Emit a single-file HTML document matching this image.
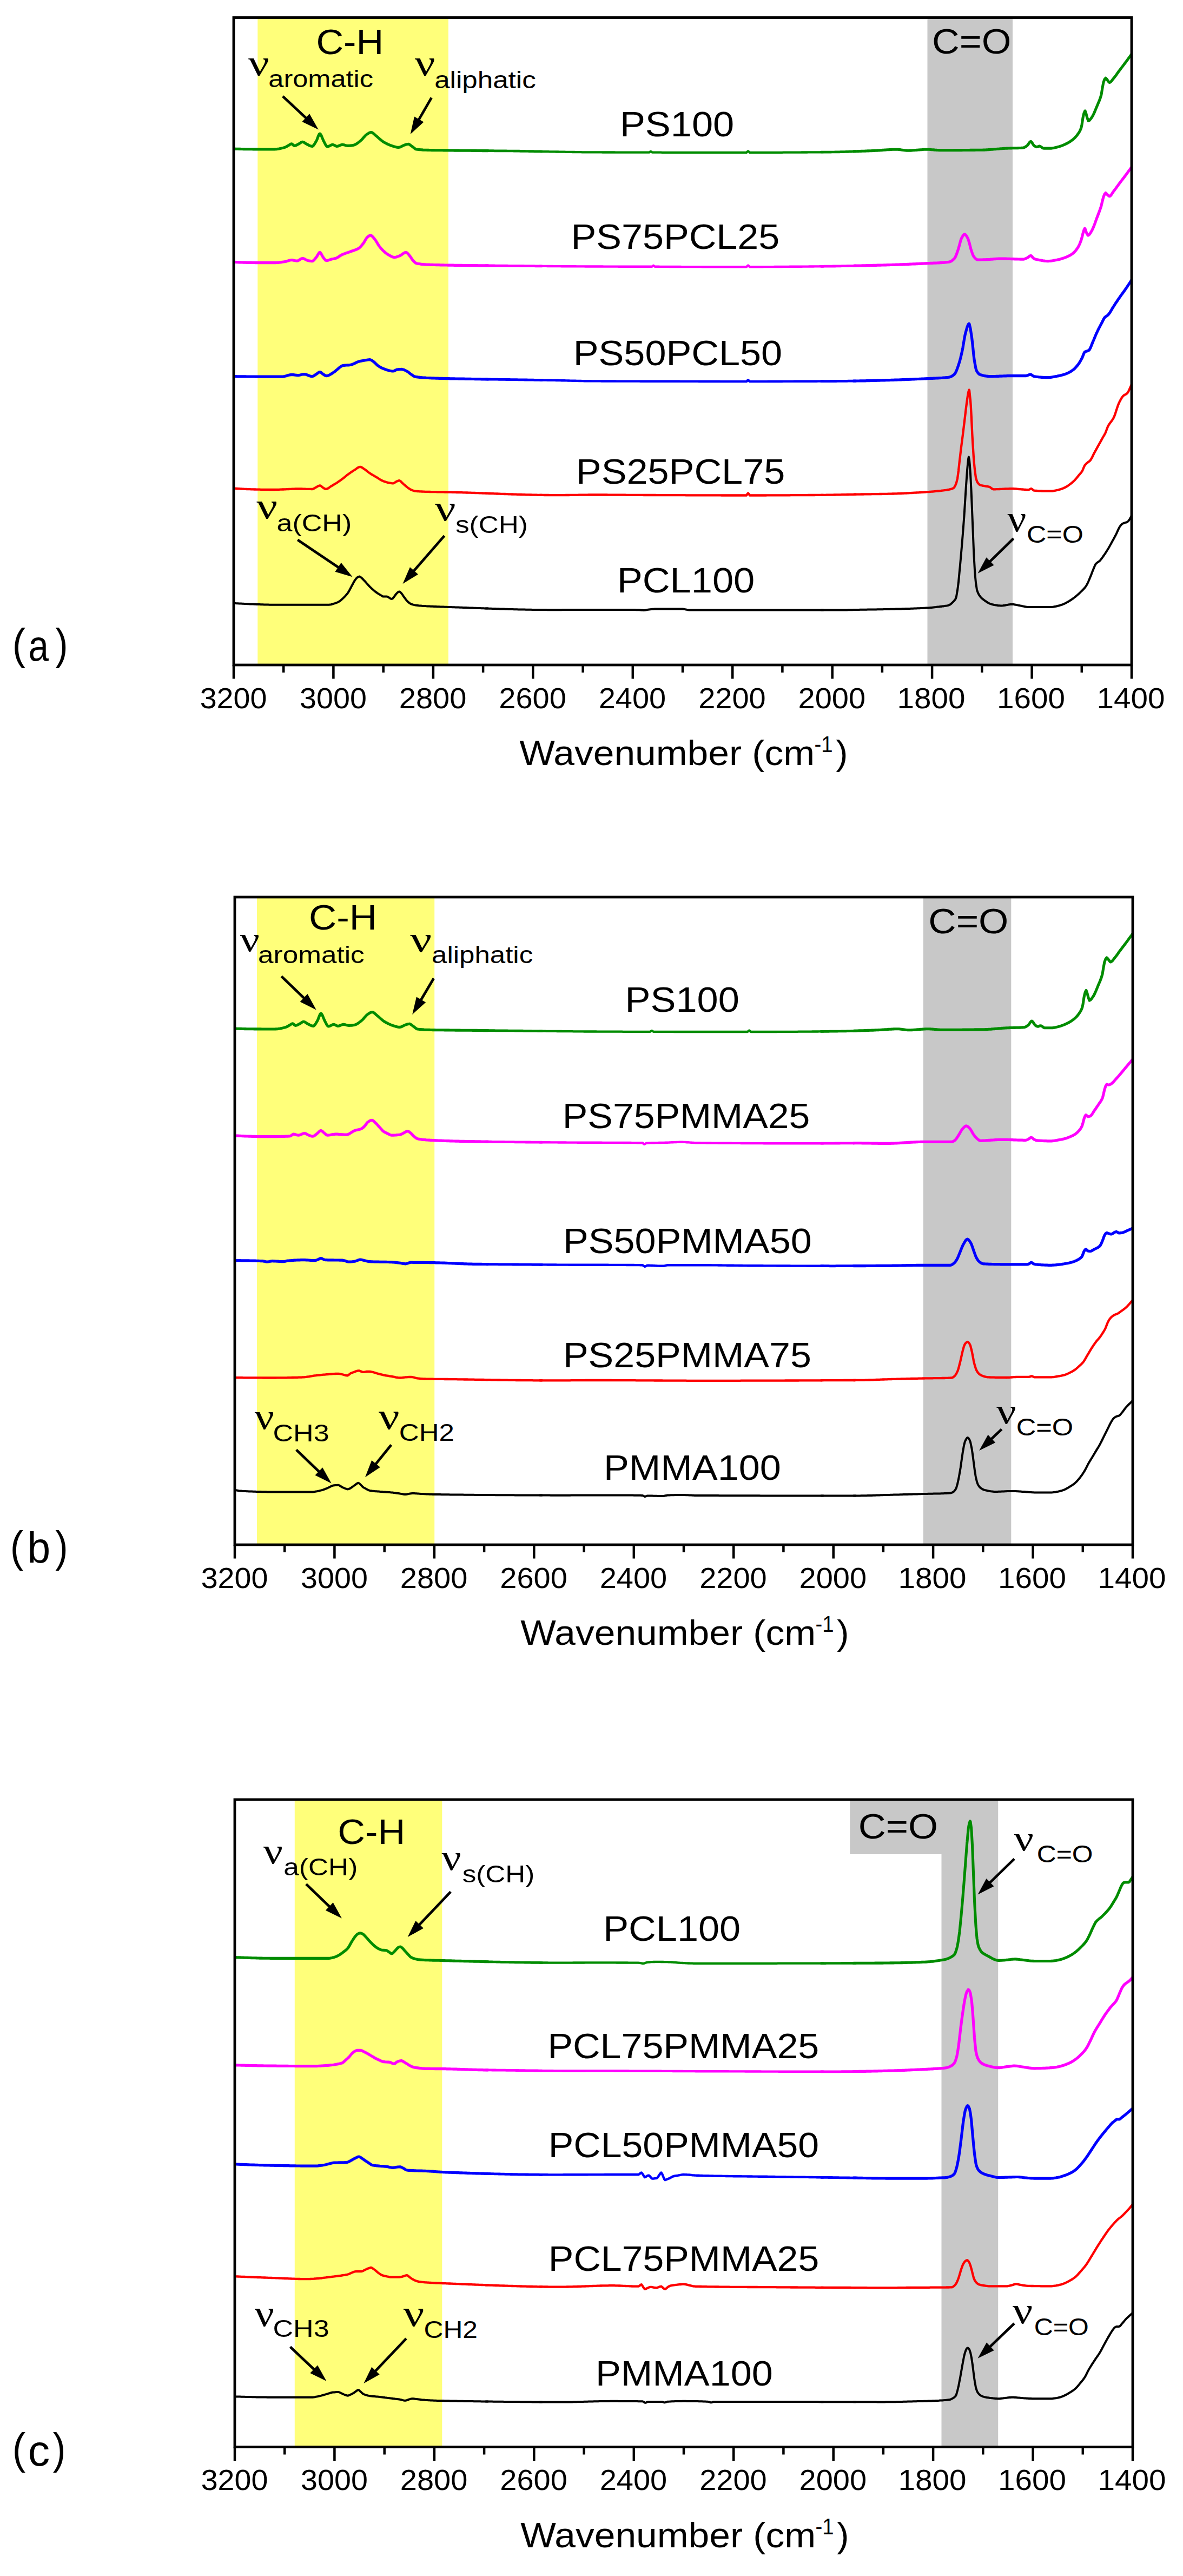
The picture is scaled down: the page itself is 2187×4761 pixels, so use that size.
<!DOCTYPE html><html><head><meta charset="utf-8"><title>FTIR spectra</title><style>html,body{margin:0;padding:0;background:#fff}svg{display:block}</style></head><body>
<svg width="2187" height="4761" viewBox="0 0 2187 4761">
<rect width="2187" height="4761" fill="#fff"/>
<clipPath id="clipa"><rect x="432" y="32.5" width="1660" height="1196.5"/></clipPath>
<rect x="476.3" y="32.5" width="352.6" height="1196.5" fill="#ffff7a"/>
<rect x="1714.5" y="32.5" width="157.5" height="1196.5" fill="#c8c8c8"/>
<g clip-path="url(#clipa)" fill="none" stroke-linejoin="round" stroke-linecap="round">
<path d="M430.0,275.0 L432.0,275.0 L434.0,275.1 L436.0,275.2 L438.0,275.3 L440.0,275.3 L442.0,275.4 L444.0,275.4 L446.0,275.5 L448.0,275.5 L450.0,275.6 L452.0,275.6 L454.0,275.7 L456.0,275.7 L458.0,275.7 L460.0,275.8 L462.0,275.8 L464.0,275.8 L466.0,275.8 L468.0,275.9 L470.0,275.9 L472.0,275.9 L474.0,275.9 L476.0,275.9 L478.0,275.9 L480.0,275.9 L482.0,276.0 L484.0,276.0 L486.0,276.0 L488.0,276.0 L490.0,276.0 L492.0,276.0 L494.0,276.0 L496.0,276.0 L498.0,276.0 L500.0,276.0 L502.0,276.0 L504.0,276.0 L506.0,276.0 L506.1,276.0 L508.0,275.9 L510.0,275.8 L512.0,275.6 L514.0,275.3 L516.0,275.0 L518.0,274.6 L520.0,274.1 L522.0,273.6 L524.0,273.1 L526.0,272.5 L526.4,272.4 L528.0,271.8 L530.0,270.7 L532.0,269.5 L534.0,268.4 L534.0,268.4 L536.0,267.1 L538.0,266.0 L539.0,265.8 L540.0,266.2 L542.0,268.1 L544.0,269.4 L544.1,269.4 L546.0,269.1 L548.0,268.3 L550.0,267.2 L551.7,266.3 L552.0,266.2 L554.0,265.0 L556.0,263.6 L558.0,262.5 L559.3,262.3 L560.0,262.4 L562.0,263.2 L564.0,264.5 L566.0,265.8 L566.9,266.3 L568.0,266.9 L570.0,267.9 L572.0,269.0 L574.0,269.8 L576.0,270.3 L577.1,270.4 L578.0,270.2 L580.0,268.3 L582.0,265.3 L584.0,261.9 L584.7,260.8 L586.0,258.0 L588.0,252.6 L590.0,248.1 L591.3,247.1 L592.0,247.4 L594.0,250.5 L596.0,255.4 L598.0,260.1 L598.4,260.8 L600.0,263.9 L602.0,267.8 L604.0,270.5 L605.0,270.9 L606.0,270.8 L608.0,270.2 L610.0,269.2 L612.0,268.2 L614.0,267.5 L615.1,267.4 L616.0,267.5 L618.0,268.3 L620.0,269.5 L622.0,270.3 L622.7,270.4 L624.0,270.3 L626.0,269.7 L628.0,268.8 L630.0,268.0 L632.0,267.4 L632.9,267.4 L634.0,267.4 L636.0,267.8 L638.0,268.4 L640.0,269.0 L642.0,269.3 L643.0,269.4 L644.0,269.4 L646.0,269.3 L648.0,269.1 L650.0,268.9 L652.0,268.6 L653.2,268.4 L654.0,268.2 L656.0,267.5 L658.0,266.4 L660.0,265.2 L662.0,263.7 L664.0,262.2 L665.8,260.8 L666.0,260.6 L668.0,258.9 L670.0,256.7 L672.0,254.4 L674.0,252.2 L676.0,250.1 L678.0,248.4 L678.5,248.1 L680.0,247.1 L682.0,245.9 L684.0,245.0 L686.0,244.5 L686.1,244.5 L688.0,245.0 L690.0,246.4 L692.0,248.2 L694.0,250.0 L694.8,250.6 L696.0,251.6 L698.0,253.3 L700.0,255.1 L702.0,256.9 L704.0,258.6 L706.0,260.2 L708.0,261.7 L709.0,262.3 L710.0,262.9 L712.0,264.0 L714.0,265.1 L716.0,266.1 L718.0,267.0 L720.0,267.9 L722.0,268.7 L724.0,269.3 L724.2,269.4 L726.0,270.0 L728.0,270.6 L730.0,271.3 L732.0,271.8 L734.0,272.2 L736.0,272.4 L736.8,272.4 L738.0,272.3 L740.0,271.7 L742.0,270.8 L744.0,269.7 L746.0,268.7 L747.0,268.4 L748.0,268.0 L750.0,267.3 L752.0,266.7 L754.0,266.4 L754.6,266.3 L756.0,266.6 L758.0,267.7 L760.0,269.3 L762.0,270.8 L762.2,270.9 L764.0,272.2 L766.0,273.9 L768.0,275.3 L769.8,276.0 L770.0,276.0 L772.0,276.2 L774.0,276.5 L776.0,276.6 L778.0,276.8 L780.0,276.9 L782.0,277.1 L784.0,277.2 L786.0,277.2 L788.0,277.3 L790.0,277.4 L792.0,277.4 L794.0,277.5 L795.2,277.5 L796.0,277.5 L798.0,277.6 L800.0,277.6 L802.0,277.6 L804.0,277.7 L806.0,277.7 L808.0,277.7 L810.0,277.8 L812.0,277.8 L814.0,277.8 L816.0,277.8 L818.0,277.8 L820.0,277.9 L822.0,277.9 L824.0,277.9 L826.0,277.9 L828.0,277.9 L830.0,278.0 L832.0,278.0 L834.0,278.0 L835.7,278.0 L836.0,278.0 L838.0,278.0 L840.0,278.1 L842.0,278.1 L844.0,278.1 L846.0,278.1 L848.0,278.1 L850.0,278.2 L852.0,278.2 L854.0,278.2 L856.0,278.2 L858.0,278.2 L860.0,278.3 L862.0,278.3 L864.0,278.3 L866.0,278.3 L868.0,278.3 L870.0,278.3 L872.0,278.4 L874.0,278.4 L876.0,278.4 L878.0,278.4 L880.0,278.4 L882.0,278.5 L884.0,278.5 L886.0,278.5 L888.0,278.5 L890.0,278.5 L892.0,278.6 L894.0,278.6 L896.0,278.6 L898.0,278.6 L900.0,278.6 L902.0,278.6" stroke="#008c00" stroke-width="5.10"/>
<path d="M898.0,278.6 L900.0,278.6 L902.0,278.6 L904.0,278.7 L906.0,278.7 L908.0,278.7 L910.0,278.7 L912.0,278.7 L914.0,278.8 L916.0,278.8 L918.0,278.8 L920.0,278.8 L922.0,278.8 L924.0,278.8 L926.0,278.9 L928.0,278.9 L930.0,278.9 L932.0,278.9 L934.0,278.9 L936.0,278.9 L938.0,279.0 L940.0,279.0 L942.0,279.0 L944.0,279.0 L946.0,279.0 L948.0,279.0 L950.0,279.1 L952.0,279.1 L954.0,279.1 L956.0,279.2 L958.0,279.2 L960.0,279.2 L962.0,279.3 L964.0,279.3 L966.0,279.4 L968.0,279.4 L970.0,279.4 L972.0,279.5 L974.0,279.5 L976.0,279.5 L978.0,279.6 L980.0,279.6 L982.0,279.7 L984.0,279.7 L986.0,279.7 L988.0,279.8 L990.0,279.8 L992.0,279.8 L994.0,279.9 L996.0,279.9 L998.0,279.9 L1000.0,280.0 L1002.0,280.0" stroke="#008c00" stroke-width="4.72"/>
<path d="M998.0,279.9 L1000.0,280.0 L1002.0,280.0 L1004.0,280.1 L1006.0,280.1 L1008.0,280.1 L1010.0,280.2 L1012.0,280.2 L1014.0,280.2 L1016.0,280.3 L1018.0,280.3 L1020.0,280.3 L1022.0,280.4 L1024.0,280.4 L1026.0,280.4 L1028.0,280.5 L1030.0,280.5 L1032.0,280.5 L1034.0,280.6 L1036.0,280.6 L1038.0,280.6 L1040.0,280.7 L1042.0,280.7 L1044.0,280.7 L1046.0,280.8 L1048.0,280.8 L1050.0,280.8 L1052.0,280.9 L1054.0,280.9 L1056.0,280.9 L1058.0,281.0 L1060.0,281.0 L1062.0,281.0 L1064.0,281.1 L1066.0,281.1 L1068.0,281.1 L1070.0,281.2 L1072.0,281.2 L1074.0,281.2 L1076.0,281.3 L1078.0,281.3 L1080.0,281.3 L1082.0,281.3 L1084.0,281.3 L1086.0,281.3 L1088.0,281.3 L1090.0,281.4 L1092.0,281.4 L1094.0,281.4 L1096.0,281.4 L1098.0,281.4 L1100.0,281.4 L1102.0,281.4 L1104.0,281.4 L1106.0,281.4 L1108.0,281.4 L1110.0,281.4 L1112.0,281.4 L1114.0,281.5 L1116.0,281.5 L1118.0,281.5 L1120.0,281.5 L1122.0,281.5 L1124.0,281.5 L1126.0,281.5 L1128.0,281.5 L1130.0,281.5 L1132.0,281.5 L1134.0,281.5 L1136.0,281.5 L1138.0,281.6 L1140.0,281.6 L1142.0,281.6 L1144.0,281.6 L1146.0,281.6 L1148.0,281.6 L1150.0,281.6 L1152.0,281.6 L1154.0,281.6 L1156.0,281.6 L1158.0,281.6 L1160.0,281.6 L1162.0,281.6 L1164.0,281.6 L1166.0,281.7 L1168.0,281.7 L1170.0,281.7 L1172.0,281.7 L1174.0,281.7 L1176.0,281.7 L1178.0,281.7 L1180.0,281.7 L1182.0,281.7 L1184.0,281.7 L1186.0,281.7 L1188.0,281.7 L1190.0,281.7 L1192.0,281.7 L1194.0,281.7 L1196.0,281.7 L1198.0,281.7 L1200.0,281.7 L1202.0,280.4 L1203.0,279.9 L1204.0,280.4 L1206.0,281.7 L1208.0,281.7 L1210.0,281.7 L1212.0,281.7 L1214.0,281.7 L1216.0,281.7 L1218.0,281.7 L1220.0,281.7 L1222.0,281.7 L1224.0,281.8 L1226.0,281.8 L1228.0,281.8 L1230.0,281.8 L1232.0,281.8 L1234.0,281.8 L1236.0,281.8 L1238.0,281.8 L1240.0,281.8 L1242.0,281.8 L1244.0,281.8 L1246.0,281.8 L1248.0,281.8 L1250.0,281.8 L1252.0,281.8 L1254.0,281.8 L1256.0,281.8 L1258.0,281.8 L1260.0,281.8 L1262.0,281.8 L1264.0,281.8 L1266.0,281.8 L1268.0,281.8 L1270.0,281.8 L1272.0,281.9 L1274.0,281.9 L1276.0,281.9 L1278.0,281.9 L1280.0,281.9 L1282.0,281.9 L1284.0,281.9 L1286.0,281.9 L1288.0,281.9 L1290.0,281.9 L1292.0,281.9 L1294.0,281.9 L1296.0,281.9 L1298.0,281.9 L1300.0,281.9 L1302.0,281.9 L1304.0,281.9 L1306.0,281.9 L1308.0,281.9 L1310.0,281.9 L1312.0,281.9 L1314.0,281.9 L1316.0,281.9 L1318.0,281.9 L1320.0,281.9 L1322.0,281.9 L1324.0,281.9 L1326.0,281.9 L1328.0,281.9 L1330.0,281.9 L1332.0,281.9 L1334.0,281.9 L1336.0,281.9 L1338.0,281.9 L1340.0,281.9 L1342.0,281.9 L1344.0,281.9 L1346.0,281.9 L1348.0,281.9 L1350.0,281.9 L1352.0,281.9 L1354.0,281.9 L1356.0,281.9 L1358.0,281.9 L1360.0,281.9 L1362.0,281.9 L1364.0,281.9 L1366.0,281.9 L1368.0,281.9 L1370.0,281.9 L1372.0,281.9 L1374.0,281.9 L1376.0,281.9 L1378.0,281.9 L1380.0,281.9 L1382.0,280.0 L1383.0,279.4 L1384.0,280.0 L1386.0,281.9 L1388.0,281.9 L1390.0,281.9 L1392.0,281.9 L1394.0,281.9 L1396.0,281.9 L1398.0,281.9 L1400.0,281.9 L1402.0,281.9 L1404.0,281.9 L1406.0,281.9 L1408.0,281.9 L1410.0,281.9 L1412.0,281.9 L1414.0,281.9 L1416.0,281.9 L1418.0,281.9 L1420.0,281.9 L1422.0,281.8 L1424.0,281.8 L1426.0,281.8 L1428.0,281.8 L1430.0,281.8 L1432.0,281.8 L1434.0,281.8 L1436.0,281.8 L1438.0,281.8 L1440.0,281.8 L1442.0,281.8 L1444.0,281.8 L1446.0,281.8 L1448.0,281.7 L1450.0,281.7 L1452.0,281.7 L1454.0,281.7 L1456.0,281.7 L1458.0,281.7 L1460.0,281.7 L1462.0,281.7 L1464.0,281.7 L1466.0,281.6 L1468.0,281.6 L1470.0,281.6 L1472.0,281.6 L1474.0,281.6 L1476.0,281.6 L1478.0,281.6 L1480.0,281.6 L1482.0,281.5 L1484.0,281.5 L1486.0,281.5 L1488.0,281.5 L1490.0,281.5 L1492.0,281.5 L1494.0,281.4 L1496.0,281.4 L1498.0,281.4 L1500.0,281.4 L1502.0,281.4 L1504.0,281.4 L1506.0,281.3 L1508.0,281.3 L1510.0,281.3 L1512.0,281.3 L1514.0,281.3 L1516.0,281.3 L1518.0,281.2 L1520.0,281.2 L1522.0,281.2" stroke="#008c00" stroke-width="4.33"/>
<path d="M1518.0,281.2 L1520.0,281.2 L1522.0,281.2 L1524.0,281.2 L1526.0,281.2 L1528.0,281.1 L1530.0,281.1 L1532.0,281.1 L1534.0,281.1 L1536.0,281.1 L1538.0,281.0 L1540.0,281.0 L1542.0,281.0 L1544.0,280.9 L1546.0,280.9 L1548.0,280.9 L1550.0,280.8 L1552.0,280.8 L1554.0,280.7 L1556.0,280.7 L1558.0,280.6 L1560.0,280.6 L1562.0,280.5 L1564.0,280.4 L1566.0,280.4 L1568.0,280.3 L1570.0,280.2 L1572.0,280.2 L1574.0,280.1 L1576.0,280.0 L1578.0,279.9 L1580.0,279.8 L1582.0,279.8" stroke="#008c00" stroke-width="4.72"/>
<path d="M1578.0,279.9 L1580.0,279.8 L1582.0,279.8 L1584.0,279.7 L1586.0,279.6 L1587.0,279.6 L1588.0,279.5 L1590.0,279.5 L1592.0,279.4 L1594.0,279.3 L1596.0,279.2 L1598.0,279.2 L1600.0,279.1 L1602.0,279.0 L1604.0,278.9 L1606.0,278.9 L1608.0,278.8 L1610.0,278.7 L1612.0,278.6 L1614.0,278.5 L1616.0,278.4 L1617.4,278.4 L1618.0,278.3 L1620.0,278.2 L1622.0,278.1 L1624.0,278.0 L1626.0,277.9 L1628.0,277.7 L1630.0,277.6 L1632.0,277.4 L1634.0,277.3 L1636.0,277.1 L1638.0,277.0 L1640.0,276.8 L1642.0,276.7 L1644.0,276.6 L1646.0,276.5 L1648.0,276.4 L1650.0,276.3 L1652.0,276.3 L1654.0,276.2 L1656.0,276.2 L1658.0,276.2 L1658.0,276.2 L1660.0,276.2 L1662.0,276.4 L1664.0,276.6 L1666.0,276.9 L1668.0,277.2 L1670.0,277.5 L1672.0,277.7 L1674.0,278.0 L1676.0,278.1 L1678.0,278.2 L1678.3,278.2 L1680.0,278.2 L1682.0,278.1 L1684.0,278.1 L1686.0,278.0 L1688.0,277.8 L1690.0,277.7 L1692.0,277.5 L1694.0,277.4 L1696.0,277.2 L1698.0,277.0 L1700.0,276.9 L1702.0,276.7 L1704.0,276.6 L1706.0,276.4 L1708.0,276.3 L1710.0,276.2 L1712.0,276.2 L1713.8,276.2 L1714.0,276.2 L1716.0,276.2 L1718.0,276.3 L1720.0,276.4 L1722.0,276.6 L1724.0,276.7 L1726.0,276.9 L1728.0,277.1 L1730.0,277.2 L1732.0,277.4 L1734.0,277.5 L1736.0,277.6 L1738.0,277.7 L1739.2,277.7 L1740.0,277.7 L1742.0,277.7 L1744.0,277.7 L1746.0,277.7 L1748.0,277.7 L1750.0,277.7 L1752.0,277.7 L1754.0,277.7 L1756.0,277.7 L1758.0,277.7 L1760.0,277.7 L1762.0,277.7 L1764.0,277.6 L1766.0,277.6 L1768.0,277.6 L1770.0,277.6 L1772.0,277.6 L1774.0,277.6 L1776.0,277.6 L1778.0,277.6 L1780.0,277.5 L1782.0,277.5 L1784.0,277.5 L1786.0,277.5 L1788.0,277.5 L1790.0,277.5 L1792.0,277.5 L1794.0,277.4 L1796.0,277.4 L1798.0,277.4 L1800.0,277.4 L1802.0,277.4 L1804.0,277.3 L1806.0,277.3 L1808.0,277.3 L1810.0,277.3 L1812.0,277.2 L1814.0,277.2 L1815.2,277.2 L1816.0,277.2 L1818.0,277.1 L1820.0,277.1 L1822.0,277.0 L1824.0,276.9 L1826.0,276.8 L1828.0,276.6 L1830.0,276.5 L1832.0,276.3 L1834.0,276.2 L1836.0,276.0 L1838.0,275.8 L1840.0,275.7 L1842.0,275.5 L1844.0,275.3 L1846.0,275.2 L1848.0,275.0 L1850.0,274.8 L1852.0,274.7 L1854.0,274.5 L1856.0,274.4 L1858.0,274.3 L1860.0,274.2 L1860.9,274.1 L1862.0,274.1 L1864.0,274.0 L1866.0,274.0 L1868.0,273.9 L1870.0,273.9 L1872.0,273.8 L1874.0,273.8 L1876.0,273.8 L1878.0,273.7 L1880.0,273.7 L1882.0,273.6 L1884.0,273.5 L1886.0,273.5 L1888.0,273.4 L1890.0,273.2 L1891.3,273.1 L1892.0,273.0 L1894.0,272.3 L1896.0,271.2 L1898.0,269.8 L1898.9,269.1 L1900.0,268.0 L1902.0,265.0 L1904.0,262.3 L1905.5,261.5 L1906.0,261.6 L1908.0,263.8 L1910.0,267.2 L1911.6,269.1 L1912.0,269.4 L1914.0,270.7 L1916.0,271.5 L1916.7,271.6 L1918.0,271.4 L1920.0,270.5 L1921.7,270.1 L1922.0,270.1 L1924.0,271.0 L1926.0,272.5 L1928.0,273.8 L1929.3,274.1 L1930.0,274.1 L1932.0,274.1 L1934.0,274.1 L1936.0,274.1 L1938.0,274.1 L1940.0,274.1 L1942.0,274.1 L1942.0,274.1 L1944.0,274.1 L1946.0,273.8 L1948.0,273.5 L1950.0,273.0 L1952.0,272.5 L1954.0,272.0 L1956.0,271.4 L1957.2,271.1 L1958.0,270.9 L1960.0,270.3 L1962.0,269.6 L1964.0,268.9 L1966.0,268.0 L1968.0,267.2 L1970.0,266.2 L1972.0,265.3 L1972.5,265.0 L1974.0,264.2 L1976.0,263.1 L1978.0,261.8 L1980.0,260.4 L1982.0,259.0 L1984.0,257.4 L1985.1,256.4 L1986.0,255.6 L1988.0,253.7 L1990.0,251.4 L1992.0,248.8 L1992.7,247.8 L1994.0,246.0 L1996.0,242.7 L1998.0,238.4 L1998.8,236.1 L2000.0,230.7 L2002.0,217.7 L2002.9,213.3 L2004.0,209.0 L2005.9,204.7 L2006.0,204.7 L2008.0,210.6 L2009.0,214.3 L2010.0,218.1 L2012.0,223.4 L2012.0,223.4 L2014.0,222.5 L2016.0,220.2 L2018.0,217.5 L2018.1,217.3 L2020.0,214.4 L2022.0,210.4 L2024.0,205.9 L2026.0,201.0 L2028.0,196.1 L2028.3,195.5 L2030.0,191.5 L2032.0,186.8 L2034.0,181.5 L2035.9,175.2 L2036.0,174.7 L2038.0,162.7 L2039.9,152.4 L2040.0,152.2 L2042.0,146.7 L2044.0,144.3 L2044.0,144.3 L2046.0,146.2 L2047.5,148.4 L2048.0,149.0 L2050.0,151.8 L2051.1,152.4 L2052.0,152.2 L2054.0,150.7 L2056.0,148.3 L2058.0,145.6 L2058.7,144.8 L2060.0,143.2 L2062.0,140.6 L2064.0,137.9 L2066.0,135.0 L2068.0,132.2 L2068.8,131.1 L2070.0,129.6 L2072.0,126.9 L2074.0,124.3 L2076.0,121.7 L2078.0,119.0 L2080.0,116.4 L2081.5,114.4 L2082.0,113.7 L2084.0,111.0 L2086.0,108.2 L2088.0,105.5 L2090.0,102.8 L2091.6,100.7 L2092.0,100.2 L2094.0,97.8 L2096.0,95.3 L2098.0,93.0 L2099.3,91.6" stroke="#008c00" stroke-width="5.10"/>
<path d="M430.0,484.2 L432.0,484.3 L434.0,484.4 L436.0,484.5 L438.0,484.6 L440.0,484.7 L442.0,484.8 L444.0,484.9 L446.0,485.0 L448.0,485.0 L450.0,485.1 L452.0,485.2 L454.0,485.2 L456.0,485.3 L458.0,485.3 L460.0,485.4 L462.0,485.4 L464.0,485.4 L466.0,485.5 L468.0,485.5 L470.0,485.5 L472.0,485.6 L474.0,485.6 L476.0,485.6 L478.0,485.6 L480.0,485.6 L482.0,485.7 L484.0,485.7 L486.0,485.7 L488.0,485.7 L490.0,485.7 L492.0,485.7 L494.0,485.7 L496.0,485.7 L498.0,485.7 L500.0,485.7 L502.0,485.7 L504.0,485.7 L506.0,485.7 L506.1,485.7 L508.0,485.7 L510.0,485.6 L512.0,485.5 L514.0,485.3 L516.0,485.1 L518.0,484.8 L520.0,484.6 L522.0,484.3 L524.0,484.0 L526.0,483.7 L526.4,483.7 L528.0,483.4 L530.0,482.8 L532.0,482.2 L534.0,481.5 L536.0,481.0 L538.0,480.7 L539.0,480.6 L540.0,480.7 L542.0,480.9 L544.0,481.4 L546.0,481.8 L548.0,482.1 L549.2,482.2 L550.0,482.1 L552.0,481.3 L554.0,480.1 L556.0,478.7 L558.0,477.8 L559.3,477.6 L560.0,477.6 L562.0,478.2 L564.0,479.2 L566.0,480.3 L568.0,481.2 L569.5,481.6 L570.0,481.8 L572.0,482.1 L574.0,482.4 L576.0,482.6 L577.1,482.7 L578.0,482.5 L580.0,481.1 L582.0,478.9 L584.0,476.4 L584.7,475.6 L586.0,473.7 L588.0,470.1 L590.0,467.1 L591.3,466.4 L592.0,466.7 L594.0,469.5 L596.0,473.4 L597.4,475.6 L598.0,476.4 L600.0,479.0 L602.0,481.1 L603.5,481.6 L604.0,481.6 L606.0,481.3 L608.0,480.7 L610.0,479.9 L612.0,479.3 L612.6,479.1 L614.0,478.8 L616.0,478.5 L618.0,478.1 L620.0,477.6 L620.2,477.6 L622.0,476.9 L624.0,475.9 L626.0,474.6 L628.0,473.3 L630.0,472.0 L632.0,470.9 L632.9,470.5 L634.0,470.0 L636.0,469.2 L638.0,468.5 L640.0,467.7 L642.0,467.1 L644.0,466.4 L646.0,465.7 L648.0,464.9 L648.1,464.9 L650.0,464.2 L652.0,463.5 L654.0,462.9 L656.0,462.2 L658.0,461.4 L660.0,460.6 L662.0,459.6 L663.3,458.8 L664.0,458.4 L666.0,456.6 L668.0,454.4 L670.0,451.9 L672.0,449.3 L672.4,448.7 L674.0,446.2 L676.0,442.6 L678.0,439.6 L678.5,439.0 L680.0,437.7 L682.0,436.2 L684.0,435.2 L685.1,435.0 L686.0,435.1 L688.0,436.5 L690.0,438.7 L692.0,441.2 L692.7,442.1 L694.0,443.7 L696.0,446.8 L698.0,450.2 L700.0,453.4 L701.3,455.3 L702.0,456.1 L704.0,458.6 L706.0,460.9 L708.0,463.0 L709.0,463.9 L710.0,464.8 L712.0,466.6 L714.0,468.2 L716.0,469.6 L718.0,470.9 L719.1,471.5 L720.0,472.0 L722.0,473.1 L724.0,474.1 L726.0,475.0 L728.0,475.5 L729.2,475.6 L730.0,475.5 L732.0,475.2 L734.0,474.6 L736.0,473.9 L738.0,473.1 L739.4,472.5 L740.0,472.3 L742.0,471.1 L744.0,469.6 L746.0,468.2 L748.0,467.1 L750.0,466.5 L750.5,466.4 L752.0,466.9 L754.0,468.7 L756.0,471.2 L757.1,472.5 L758.0,473.6 L760.0,476.5 L762.0,479.5 L763.7,481.6 L764.0,481.9 L766.0,484.1 L768.0,485.8 L769.8,486.7 L770.0,486.8 L772.0,487.2 L774.0,487.5 L776.0,487.8 L778.0,488.1 L780.0,488.3 L782.0,488.5 L784.0,488.7 L786.0,488.8 L788.0,489.0 L790.0,489.1 L792.0,489.1 L794.0,489.2 L795.2,489.3 L796.0,489.3 L798.0,489.3 L800.0,489.4 L802.0,489.5 L804.0,489.5 L806.0,489.6 L808.0,489.6 L810.0,489.7 L812.0,489.7 L814.0,489.8 L816.0,489.8 L818.0,489.9 L820.0,489.9 L822.0,490.0 L824.0,490.0 L826.0,490.0 L828.0,490.1 L830.0,490.1 L832.0,490.1 L834.0,490.2 L836.0,490.2 L838.0,490.2 L840.0,490.3 L842.0,490.3 L844.0,490.3 L846.0,490.3 L848.0,490.4 L850.0,490.4 L852.0,490.4 L854.0,490.4 L856.0,490.5 L858.0,490.5 L860.0,490.5 L862.0,490.5 L864.0,490.6 L866.0,490.6 L868.0,490.6 L870.0,490.6 L872.0,490.6 L874.0,490.7 L876.0,490.7 L878.0,490.7 L880.0,490.7 L882.0,490.7 L884.0,490.8 L886.0,490.8 L886.5,490.8 L888.0,490.8 L890.0,490.8 L892.0,490.8 L894.0,490.9 L896.0,490.9 L898.0,490.9 L900.0,490.9 L902.0,490.9" stroke="#ff00ff" stroke-width="5.20"/>
<path d="M898.0,490.9 L900.0,490.9 L902.0,490.9 L904.0,491.0 L906.0,491.0 L908.0,491.0 L910.0,491.0 L912.0,491.0 L914.0,491.0 L916.0,491.1 L918.0,491.1 L920.0,491.1 L922.0,491.1 L924.0,491.1 L926.0,491.1 L928.0,491.2 L930.0,491.2 L932.0,491.2 L934.0,491.2 L936.0,491.2 L938.0,491.2 L940.0,491.3 L942.0,491.3 L944.0,491.3 L946.0,491.3 L948.0,491.3 L950.0,491.3 L952.0,491.4 L954.0,491.4 L956.0,491.4 L958.0,491.4 L960.0,491.4 L962.0,491.5 L964.0,491.5 L966.0,491.5 L968.0,491.5 L970.0,491.6 L972.0,491.6 L974.0,491.6 L976.0,491.6 L978.0,491.6 L980.0,491.7 L982.0,491.7 L984.0,491.7 L986.0,491.7 L988.0,491.7 L990.0,491.8 L992.0,491.8 L994.0,491.8 L996.0,491.8 L998.0,491.8 L1000.0,491.8 L1002.0,491.9" stroke="#ff00ff" stroke-width="4.81"/>
<path d="M998.0,491.8 L1000.0,491.8 L1002.0,491.9 L1004.0,491.9 L1006.0,491.9 L1008.0,491.9 L1010.0,491.9 L1012.0,492.0 L1014.0,492.0 L1016.0,492.0 L1018.0,492.0 L1020.0,492.0 L1022.0,492.0 L1024.0,492.1 L1026.0,492.1 L1028.0,492.1 L1030.0,492.1 L1032.0,492.1 L1034.0,492.1 L1036.0,492.1 L1038.0,492.2 L1040.0,492.2 L1042.0,492.2 L1044.0,492.2 L1046.0,492.2 L1048.0,492.2 L1050.0,492.2 L1052.0,492.3 L1054.0,492.3 L1056.0,492.3 L1058.0,492.3 L1060.0,492.3 L1062.0,492.3 L1064.0,492.3 L1066.0,492.4 L1068.0,492.4 L1070.0,492.4 L1072.0,492.4 L1074.0,492.4 L1076.0,492.4 L1078.0,492.4 L1080.0,492.4 L1082.0,492.5 L1084.0,492.5 L1086.0,492.5 L1088.0,492.5 L1090.0,492.5 L1092.0,492.5 L1094.0,492.5 L1096.0,492.5 L1098.0,492.5 L1100.0,492.5 L1102.0,492.5 L1104.0,492.5 L1106.0,492.5 L1108.0,492.5 L1110.0,492.5 L1112.0,492.5 L1114.0,492.5 L1116.0,492.6 L1118.0,492.6 L1120.0,492.6 L1122.0,492.6 L1124.0,492.6 L1126.0,492.6 L1128.0,492.6 L1130.0,492.6 L1132.0,492.6 L1134.0,492.6 L1136.0,492.6 L1138.0,492.6 L1140.0,492.6 L1142.0,492.6 L1144.0,492.7 L1146.0,492.7 L1148.0,492.7 L1150.0,492.7 L1152.0,492.7 L1154.0,492.7 L1156.0,492.7 L1158.0,492.7 L1160.0,492.7 L1162.0,492.7 L1164.0,492.7 L1166.0,492.7 L1168.0,492.7 L1170.0,492.7 L1172.0,492.8 L1174.0,492.8 L1176.0,492.8 L1178.0,492.8 L1180.0,492.8 L1182.0,492.8 L1184.0,492.8 L1186.0,492.8 L1188.0,492.8 L1190.0,492.8 L1192.0,492.8 L1194.0,492.8 L1196.0,492.8 L1198.0,492.8 L1200.0,492.8 L1202.0,492.8 L1204.0,492.8 L1205.0,492.8 L1206.0,492.3 L1208.0,490.8 L1210.0,492.3 L1211.0,492.8 L1212.0,492.8 L1214.0,492.8 L1216.0,492.8 L1218.0,492.8 L1220.0,492.9 L1222.0,492.9 L1224.0,492.9 L1226.0,492.9 L1228.0,492.9 L1230.0,492.9 L1232.0,492.9 L1234.0,492.9 L1236.0,492.9 L1238.0,493.0 L1240.0,493.0 L1242.0,493.0 L1244.0,493.0 L1246.0,493.0 L1248.0,493.0 L1250.0,493.0 L1252.0,493.0 L1254.0,493.0 L1256.0,493.0 L1258.0,493.0 L1260.0,493.1 L1262.0,493.1 L1264.0,493.1 L1266.0,493.1 L1268.0,493.1 L1270.0,493.1 L1272.0,493.1 L1274.0,493.1 L1276.0,493.1 L1278.0,493.1 L1280.0,493.1 L1282.0,493.1 L1284.0,493.1 L1286.0,493.1 L1288.0,493.1 L1290.0,493.1 L1292.0,493.1 L1294.0,493.1 L1296.0,493.1 L1298.0,493.2 L1300.0,493.2 L1302.0,493.2 L1304.0,493.2 L1306.0,493.2 L1308.0,493.2 L1310.0,493.2 L1312.0,493.2 L1314.0,493.2 L1316.0,493.2 L1318.0,493.2 L1320.0,493.2 L1322.0,493.2 L1324.0,493.2 L1326.0,493.2 L1328.0,493.2 L1330.0,493.2 L1332.0,493.2 L1334.0,493.2 L1336.0,493.2 L1338.0,493.2 L1340.0,493.2 L1342.0,493.2 L1344.0,493.2 L1346.0,493.2 L1348.0,493.2 L1350.0,493.2 L1352.0,493.2 L1354.0,493.2 L1356.0,493.2 L1358.0,493.2 L1360.0,493.2 L1362.0,493.2 L1364.0,493.2 L1366.0,493.2 L1368.0,493.2 L1370.0,493.2 L1372.0,493.2 L1374.0,493.2 L1376.0,493.2 L1378.0,493.2 L1380.0,493.2 L1382.0,491.2 L1383.0,490.5 L1384.0,491.2 L1386.0,493.2 L1388.0,493.2 L1390.0,493.2 L1392.0,493.2 L1394.0,493.2 L1396.0,493.2 L1398.0,493.2 L1400.0,493.2 L1402.0,493.2 L1404.0,493.2 L1406.0,493.2 L1408.0,493.2 L1410.0,493.2 L1412.0,493.1 L1414.0,493.1 L1416.0,493.1 L1418.0,493.1 L1420.0,493.1 L1422.0,493.1 L1424.0,493.1 L1426.0,493.1 L1428.0,493.1 L1430.0,493.1 L1432.0,493.0 L1434.0,493.0 L1436.0,493.0 L1438.0,493.0 L1440.0,493.0 L1442.0,493.0 L1444.0,493.0 L1446.0,493.0 L1448.0,492.9 L1450.0,492.9 L1452.0,492.9 L1454.0,492.9 L1456.0,492.9 L1458.0,492.9 L1460.0,492.8 L1462.0,492.8 L1464.0,492.8 L1466.0,492.8 L1468.0,492.8 L1470.0,492.8 L1472.0,492.7 L1474.0,492.7 L1476.0,492.7 L1478.0,492.7 L1480.0,492.7 L1482.0,492.7 L1484.0,492.6 L1486.0,492.6 L1488.0,492.6 L1490.0,492.6 L1492.0,492.6 L1494.0,492.6 L1496.0,492.5 L1498.0,492.5 L1500.0,492.5 L1502.0,492.5 L1504.0,492.5 L1506.0,492.4 L1508.0,492.4 L1510.0,492.4 L1512.0,492.4 L1514.0,492.4 L1516.0,492.3 L1518.0,492.3 L1520.0,492.3 L1522.0,492.3" stroke="#ff00ff" stroke-width="4.42"/>
<path d="M1518.0,492.3 L1520.0,492.3 L1522.0,492.3 L1524.0,492.2 L1526.0,492.2 L1528.0,492.2 L1530.0,492.2 L1532.0,492.1 L1534.0,492.1 L1536.0,492.1 L1538.0,492.1 L1540.0,492.0 L1542.0,492.0 L1544.0,492.0 L1546.0,491.9 L1548.0,491.9 L1550.0,491.8 L1552.0,491.8 L1554.0,491.8 L1556.0,491.7 L1558.0,491.7 L1560.0,491.6 L1562.0,491.6 L1564.0,491.6 L1566.0,491.5 L1568.0,491.5 L1570.0,491.4 L1572.0,491.4 L1574.0,491.3 L1576.0,491.3 L1578.0,491.3 L1580.0,491.2 L1582.0,491.2" stroke="#ff00ff" stroke-width="4.81"/>
<path d="M1578.0,491.3 L1580.0,491.2 L1582.0,491.2 L1584.0,491.1 L1586.0,491.1 L1587.0,491.1 L1588.0,491.0 L1590.0,491.0 L1592.0,491.0 L1594.0,490.9 L1596.0,490.9 L1598.0,490.8 L1600.0,490.8 L1602.0,490.7 L1604.0,490.7 L1606.0,490.6 L1608.0,490.6 L1610.0,490.5 L1612.0,490.5 L1614.0,490.4 L1616.0,490.4 L1618.0,490.3 L1620.0,490.3 L1622.0,490.2 L1624.0,490.2 L1626.0,490.1 L1628.0,490.1 L1630.0,490.0 L1632.0,490.0 L1634.0,489.9 L1636.0,489.8 L1637.7,489.8 L1638.0,489.8 L1640.0,489.7 L1642.0,489.6 L1644.0,489.6 L1646.0,489.5 L1648.0,489.5 L1650.0,489.4 L1652.0,489.3 L1654.0,489.3 L1656.0,489.2 L1658.0,489.1 L1660.0,489.1 L1662.0,489.0 L1664.0,488.9 L1666.0,488.8 L1668.0,488.8 L1670.0,488.7 L1672.0,488.6 L1674.0,488.5 L1676.0,488.5 L1678.0,488.4 L1680.0,488.3 L1682.0,488.2 L1684.0,488.1 L1686.0,488.0 L1688.0,487.9 L1690.0,487.9 L1692.0,487.8 L1694.0,487.7 L1696.0,487.6 L1698.0,487.5 L1700.0,487.4 L1702.0,487.3 L1704.0,487.2 L1706.0,487.1 L1708.0,487.0 L1710.0,486.9 L1712.0,486.8 L1713.8,486.7 L1714.0,486.7 L1716.0,486.6 L1718.0,486.5 L1720.0,486.4 L1722.0,486.4 L1724.0,486.3 L1726.0,486.2 L1728.0,486.1 L1730.0,486.1 L1732.0,486.0 L1734.0,485.9 L1736.0,485.8 L1738.0,485.7 L1740.0,485.6 L1742.0,485.4 L1744.0,485.3 L1746.0,485.1 L1748.0,484.9 L1750.0,484.7 L1752.0,484.5 L1754.0,484.2 L1754.4,484.2 L1756.0,483.8 L1758.0,482.9 L1760.0,481.7 L1762.0,480.0 L1764.0,478.1 L1764.5,477.6 L1766.0,475.4 L1768.0,470.8 L1770.0,465.2 L1772.0,459.2 L1772.1,458.8 L1774.0,452.0 L1776.0,444.3 L1777.2,441.1 L1778.0,439.5 L1780.0,435.9 L1782.0,433.5 L1783.3,433.0 L1784.0,433.1 L1786.0,435.0 L1788.0,438.3 L1789.9,442.1 L1790.0,442.4 L1792.0,448.9 L1794.0,457.0 L1794.9,460.3 L1796.0,463.7 L1798.0,469.8 L1800.0,474.0 L1800.0,474.0 L1802.0,476.5 L1804.0,478.5 L1806.0,479.8 L1807.6,480.1 L1808.0,480.1 L1810.0,480.1 L1812.0,480.1 L1814.0,480.0 L1816.0,480.0 L1818.0,479.9 L1820.0,479.8 L1822.0,479.8 L1824.0,479.7 L1825.4,479.6 L1826.0,479.6 L1828.0,479.5 L1830.0,479.4 L1832.0,479.2 L1834.0,479.1 L1836.0,478.9 L1838.0,478.7 L1840.0,478.6 L1842.0,478.4 L1844.0,478.3 L1846.0,478.2 L1848.0,478.1 L1850.0,478.1 L1850.7,478.1 L1852.0,478.1 L1854.0,478.1 L1856.0,478.1 L1858.0,478.2 L1860.0,478.2 L1862.0,478.3 L1864.0,478.4 L1866.0,478.4 L1868.0,478.5 L1870.0,478.6 L1872.0,478.6 L1874.0,478.7 L1876.0,478.8 L1878.0,478.9 L1880.0,478.9 L1882.0,479.0 L1884.0,479.0 L1886.0,479.1 L1888.0,479.1 L1890.0,479.1 L1891.3,479.1 L1892.0,479.1 L1894.0,478.7 L1896.0,477.9 L1898.0,477.0 L1898.9,476.6 L1900.0,476.0 L1902.0,474.4 L1904.0,472.9 L1905.5,472.5 L1906.0,472.6 L1908.0,474.3 L1910.0,476.8 L1911.6,478.1 L1912.0,478.3 L1914.0,479.0 L1916.0,479.5 L1918.0,479.9 L1920.0,480.3 L1921.7,480.6 L1922.0,480.7 L1924.0,481.0 L1926.0,481.4 L1928.0,481.8 L1930.0,482.1 L1932.0,482.4 L1934.0,482.5 L1936.0,482.7 L1937.0,482.7 L1938.0,482.6 L1940.0,482.5 L1942.0,482.3 L1944.0,482.1 L1946.0,481.8 L1948.0,481.4 L1950.0,481.0 L1952.0,480.7 L1952.2,480.6 L1954.0,480.3 L1956.0,479.9 L1958.0,479.4 L1960.0,478.9 L1962.0,478.3 L1964.0,477.7 L1966.0,477.1 L1967.4,476.6 L1968.0,476.4 L1970.0,475.6 L1972.0,474.8 L1974.0,473.9 L1976.0,473.0 L1978.0,471.9 L1980.0,470.7 L1982.0,469.4 L1982.6,469.0 L1984.0,467.9 L1986.0,466.0 L1988.0,463.8 L1990.0,461.3 L1992.0,458.5 L1992.7,457.3 L1994.0,455.2 L1996.0,451.0 L1998.0,445.9 L1998.8,443.6 L2000.0,439.6 L2002.0,431.4 L2002.9,428.4 L2004.0,424.9 L2005.4,422.3 L2006.0,422.8 L2008.0,428.8 L2008.5,429.9 L2010.0,433.2 L2011.5,435.0 L2012.0,434.9 L2014.0,433.3 L2016.0,430.4 L2018.0,427.0 L2018.1,426.9 L2020.0,423.3 L2022.0,418.6 L2024.0,413.3 L2026.0,407.7 L2028.0,402.2 L2028.3,401.5 L2030.0,397.0 L2032.0,391.8 L2034.0,386.2 L2035.9,380.5 L2036.0,380.0 L2038.0,371.4 L2039.9,364.2 L2040.0,364.0 L2042.0,359.0 L2044.0,356.6 L2044.0,356.6 L2046.0,358.4 L2047.5,360.2 L2048.0,360.6 L2050.0,362.3 L2051.1,362.7 L2052.0,362.5 L2054.0,360.6 L2056.0,357.6 L2058.0,354.5 L2058.7,353.6 L2060.0,351.9 L2062.0,349.2 L2064.0,346.5 L2066.0,343.7 L2068.0,341.0 L2068.8,339.9 L2070.0,338.3 L2072.0,335.7 L2074.0,333.0 L2076.0,330.4 L2078.0,327.8 L2080.0,325.1 L2081.5,323.1 L2082.0,322.5 L2084.0,319.8 L2086.0,317.0 L2088.0,314.3 L2090.0,311.6 L2091.6,309.5 L2092.0,309.0 L2094.0,306.5 L2096.0,304.1 L2098.0,301.8 L2099.3,300.3" stroke="#ff00ff" stroke-width="5.20"/>
<path d="M430.0,695.6 L432.0,695.7 L434.0,695.7 L436.0,695.7 L438.0,695.8 L440.0,695.8 L442.0,695.8 L444.0,695.8 L446.0,695.9 L448.0,695.9 L450.0,695.9 L452.0,695.9 L454.0,695.9 L456.0,696.0 L458.0,696.0 L460.0,696.0 L462.0,696.0 L464.0,696.0 L466.0,696.0 L468.0,696.0 L470.0,696.0 L472.0,696.1 L474.0,696.1 L476.0,696.1 L478.0,696.1 L480.0,696.1 L482.0,696.1 L484.0,696.1 L486.0,696.1 L488.0,696.1 L490.0,696.1 L492.0,696.1 L494.0,696.1 L496.0,696.1 L498.0,696.1 L500.0,696.1 L502.0,696.1 L504.0,696.1 L506.0,696.1 L508.0,696.1 L510.0,696.1 L512.0,696.1 L514.0,696.1 L516.0,696.1 L518.0,696.1 L520.0,696.1 L521.3,696.1 L522.0,696.1 L524.0,695.9 L526.0,695.5 L528.0,695.0 L530.0,694.4 L532.0,693.8 L534.0,693.3 L536.0,692.9 L538.0,692.6 L539.0,692.6 L540.0,692.6 L542.0,692.7 L544.0,692.9 L546.0,693.2 L548.0,693.4 L550.0,693.6 L551.7,693.6 L552.0,693.6 L554.0,693.3 L556.0,692.8 L558.0,692.2 L560.0,691.8 L561.9,691.6 L562.0,691.6 L564.0,691.8 L566.0,692.3 L568.0,693.0 L570.0,693.8 L572.0,694.6 L574.0,695.2 L576.0,695.6 L577.1,695.6 L578.0,695.5 L580.0,694.7 L582.0,693.4 L584.0,692.0 L584.7,691.6 L586.0,690.7 L588.0,689.1 L590.0,687.8 L591.3,687.5 L592.0,687.6 L594.0,688.8 L596.0,690.6 L597.4,691.6 L598.0,692.0 L600.0,693.3 L602.0,694.3 L603.5,694.6 L604.0,694.6 L606.0,694.3 L608.0,693.5 L610.0,692.5 L612.0,691.3 L614.0,690.0 L616.0,688.6 L617.7,687.5 L618.0,687.3 L620.0,685.8 L622.0,684.1 L624.0,682.4 L626.0,680.6 L628.0,679.0 L628.8,678.4 L630.0,677.5 L632.0,676.2 L632.9,675.9 L634.0,675.6 L636.0,675.4 L638.0,675.2 L640.0,675.0 L642.0,674.9 L644.0,674.8 L646.0,674.6 L648.0,674.3 L648.1,674.3 L650.0,673.9 L652.0,673.2 L654.0,672.3 L656.0,671.3 L658.0,670.3 L660.0,669.4 L662.0,668.6 L663.3,668.2 L664.0,668.1 L666.0,667.6 L668.0,667.1 L670.0,666.7 L672.0,666.4 L674.0,666.0 L676.0,665.7 L676.0,665.7 L678.0,665.4 L680.0,665.0 L682.0,664.8 L683.6,664.7 L684.0,664.7 L686.0,665.4 L688.0,666.6 L689.7,667.7 L690.0,667.9 L692.0,669.6 L694.0,671.5 L696.0,673.5 L698.0,675.3 L698.8,675.9 L700.0,676.7 L702.0,677.9 L704.0,679.1 L706.0,680.2 L708.0,681.1 L709.0,681.4 L710.0,681.8 L712.0,682.5 L714.0,683.3 L716.0,683.9 L718.0,684.6 L720.0,685.1 L722.0,685.5 L724.0,685.8 L726.0,686.0 L726.7,686.0 L728.0,685.8 L730.0,684.9 L732.0,683.8 L734.0,683.0 L734.3,683.0 L736.0,682.8 L738.0,682.6 L740.0,682.5 L741.9,682.4 L742.0,682.4 L744.0,682.7 L746.0,683.2 L748.0,684.0 L750.0,685.0 L752.0,686.0 L752.1,686.0 L754.0,687.2 L756.0,688.7 L758.0,690.4 L759.7,691.6 L760.0,691.8 L762.0,693.2 L764.0,694.7 L766.0,695.8 L767.3,696.1 L768.0,696.3 L770.0,696.6 L772.0,696.9 L774.0,697.2 L776.0,697.4 L778.0,697.6 L780.0,697.8 L782.0,698.0 L784.0,698.1 L786.0,698.2 L788.0,698.4 L790.0,698.5 L792.0,698.5 L794.0,698.6 L795.2,698.7 L796.0,698.7 L798.0,698.8 L800.0,698.9 L802.0,698.9 L804.0,699.0 L806.0,699.1 L808.0,699.1 L810.0,699.2 L812.0,699.3 L814.0,699.3 L816.0,699.4 L818.0,699.4 L820.0,699.5 L822.0,699.5 L824.0,699.6 L826.0,699.6 L828.0,699.7 L830.0,699.7 L832.0,699.8 L834.0,699.8 L836.0,699.9 L838.0,699.9 L840.0,699.9 L842.0,700.0 L844.0,700.0 L846.0,700.0 L848.0,700.1 L850.0,700.1 L852.0,700.1 L854.0,700.2 L856.0,700.2 L858.0,700.2 L860.0,700.3 L862.0,700.3 L864.0,700.3 L866.0,700.4 L868.0,700.4 L870.0,700.4 L872.0,700.5 L874.0,700.5 L876.0,700.5 L878.0,700.6 L880.0,700.6 L882.0,700.6 L884.0,700.7 L886.0,700.7 L886.5,700.7 L888.0,700.7 L890.0,700.8 L892.0,700.8 L894.0,700.8 L896.0,700.9 L898.0,700.9 L900.0,700.9 L902.0,701.0" stroke="#0000ff" stroke-width="5.20"/>
<path d="M898.0,700.9 L900.0,700.9 L902.0,701.0 L904.0,701.0 L906.0,701.0 L908.0,701.1 L910.0,701.1 L912.0,701.1 L914.0,701.1 L916.0,701.2 L918.0,701.2 L920.0,701.2 L922.0,701.3 L924.0,701.3 L926.0,701.3 L928.0,701.3 L930.0,701.4 L932.0,701.4 L934.0,701.4 L936.0,701.5 L938.0,701.5 L940.0,701.5 L942.0,701.5 L944.0,701.6 L946.0,701.6 L948.0,701.6 L950.0,701.6 L952.0,701.7 L954.0,701.7 L956.0,701.7 L958.0,701.8 L960.0,701.8 L962.0,701.8 L964.0,701.9 L966.0,701.9 L968.0,701.9 L970.0,702.0 L972.0,702.0 L974.0,702.0 L976.0,702.1 L978.0,702.1 L980.0,702.1 L982.0,702.2 L984.0,702.2 L986.0,702.2 L988.0,702.3 L990.0,702.3 L992.0,702.3 L994.0,702.4 L996.0,702.4 L998.0,702.4 L1000.0,702.5 L1002.0,702.5" stroke="#0000ff" stroke-width="4.81"/>
<path d="M998.0,702.4 L1000.0,702.5 L1002.0,702.5 L1004.0,702.5 L1006.0,702.6 L1008.0,702.6 L1010.0,702.6 L1012.0,702.7 L1014.0,702.7 L1016.0,702.7 L1018.0,702.8 L1020.0,702.8 L1022.0,702.9 L1024.0,702.9 L1026.0,702.9 L1028.0,703.0 L1030.0,703.0 L1032.0,703.0 L1034.0,703.1 L1036.0,703.1 L1038.0,703.2 L1040.0,703.2 L1042.0,703.3 L1044.0,703.3 L1046.0,703.4 L1048.0,703.4 L1050.0,703.5 L1052.0,703.5 L1054.0,703.6 L1056.0,703.6 L1058.0,703.7 L1060.0,703.7 L1062.0,703.8 L1064.0,703.8 L1066.0,703.9 L1068.0,703.9 L1070.0,704.0 L1072.0,704.0 L1074.0,704.0 L1076.0,704.1 L1078.0,704.1 L1080.0,704.2 L1082.0,704.2 L1084.0,704.2 L1086.0,704.3 L1088.0,704.3 L1090.0,704.3 L1092.0,704.3 L1094.0,704.4 L1096.0,704.4 L1098.0,704.4 L1100.0,704.4 L1102.0,704.4 L1104.0,704.4 L1106.0,704.4 L1108.0,704.4 L1110.0,704.4 L1112.0,704.5 L1114.0,704.5 L1116.0,704.5 L1118.0,704.5 L1120.0,704.5 L1122.0,704.5 L1124.0,704.5 L1126.0,704.5 L1128.0,704.5 L1130.0,704.5 L1132.0,704.5 L1134.0,704.5 L1136.0,704.5 L1138.0,704.5 L1140.0,704.6 L1142.0,704.6 L1144.0,704.6 L1146.0,704.6 L1148.0,704.6 L1150.0,704.6 L1152.0,704.6 L1154.0,704.6 L1156.0,704.6 L1158.0,704.6 L1160.0,704.6 L1162.0,704.6 L1164.0,704.6 L1166.0,704.6 L1168.0,704.6 L1170.0,704.6 L1172.0,704.6 L1174.0,704.6 L1176.0,704.6 L1178.0,704.6 L1180.0,704.6 L1182.0,704.6 L1184.0,704.7 L1186.0,704.7 L1188.0,704.7 L1190.0,704.7 L1192.0,704.7 L1194.0,704.7 L1196.0,704.7 L1198.0,704.7 L1200.0,704.7 L1202.0,704.7 L1204.0,704.7 L1205.0,704.7 L1206.0,704.7 L1208.0,704.7 L1210.0,704.7 L1212.0,704.7 L1214.0,704.7 L1216.0,704.7 L1218.0,704.7 L1220.0,704.7 L1222.0,704.7 L1224.0,704.8 L1226.0,704.8 L1228.0,704.8 L1230.0,704.8 L1232.0,704.8 L1234.0,704.8 L1236.0,704.8 L1238.0,704.8 L1240.0,704.8 L1242.0,704.8 L1244.0,704.8 L1246.0,704.8 L1248.0,704.8 L1250.0,704.8 L1252.0,704.8 L1254.0,704.8 L1256.0,704.8 L1258.0,704.9 L1260.0,704.9 L1262.0,704.9 L1264.0,704.9 L1266.0,704.9 L1268.0,704.9 L1270.0,704.9 L1272.0,704.9 L1274.0,704.9 L1276.0,704.9 L1278.0,704.9 L1280.0,704.9 L1282.0,704.9 L1284.0,704.9 L1286.0,704.9 L1288.0,704.9 L1290.0,704.9 L1292.0,705.0 L1294.0,705.0 L1296.0,705.0 L1298.0,705.0 L1300.0,705.0 L1302.0,705.0 L1304.0,705.0 L1306.0,705.0 L1308.0,705.0 L1310.0,705.0 L1312.0,705.0 L1314.0,705.0 L1316.0,705.0 L1318.0,705.0 L1320.0,705.0 L1322.0,705.0 L1324.0,705.0 L1326.0,705.0 L1328.0,705.0 L1330.0,705.0 L1332.0,705.1 L1334.0,705.1 L1336.0,705.1 L1338.0,705.1 L1340.0,705.1 L1342.0,705.1 L1344.0,705.1 L1346.0,705.1 L1348.0,705.1 L1350.0,705.1 L1352.0,705.1 L1354.0,705.1 L1356.0,705.1 L1358.0,705.1 L1360.0,705.1 L1362.0,705.1 L1364.0,705.1 L1366.0,705.1 L1368.0,705.1 L1370.0,705.1 L1372.0,705.1 L1374.0,705.1 L1376.0,705.1 L1378.0,705.1 L1380.0,705.1 L1382.0,703.1 L1383.0,702.4 L1384.0,703.1 L1386.0,705.1 L1388.0,705.1 L1390.0,705.1 L1392.0,705.1 L1394.0,705.1 L1396.0,705.1 L1398.0,705.1 L1400.0,705.1 L1402.0,705.1 L1404.0,705.1 L1406.0,705.1 L1408.0,705.1 L1410.0,705.1 L1412.0,705.1 L1414.0,705.1 L1416.0,705.1 L1418.0,705.1 L1420.0,705.0 L1422.0,705.0 L1424.0,705.0 L1426.0,705.0 L1428.0,705.0 L1430.0,705.0 L1432.0,705.0 L1434.0,705.0 L1436.0,705.0 L1438.0,705.0 L1440.0,705.0 L1442.0,705.0 L1444.0,705.0 L1446.0,705.0 L1448.0,704.9 L1450.0,704.9 L1452.0,704.9 L1454.0,704.9 L1456.0,704.9 L1458.0,704.9 L1460.0,704.9 L1462.0,704.9 L1464.0,704.9 L1466.0,704.9 L1468.0,704.8 L1470.0,704.8 L1472.0,704.8 L1474.0,704.8 L1476.0,704.8 L1478.0,704.8 L1480.0,704.8 L1482.0,704.8 L1484.0,704.8 L1486.0,704.8 L1488.0,704.8 L1490.0,704.7 L1492.0,704.7 L1494.0,704.7 L1496.0,704.7 L1498.0,704.7 L1500.0,704.7 L1502.0,704.7 L1504.0,704.7 L1506.0,704.7 L1508.0,704.7 L1510.0,704.7 L1512.0,704.6 L1514.0,704.6 L1516.0,704.6 L1518.0,704.6 L1520.0,704.6 L1522.0,704.6" stroke="#0000ff" stroke-width="4.42"/>
<path d="M1518.0,704.6 L1520.0,704.6 L1522.0,704.6 L1524.0,704.6 L1526.0,704.6 L1528.0,704.6 L1530.0,704.6 L1532.0,704.6 L1534.0,704.6 L1536.0,704.5 L1538.0,704.5 L1540.0,704.5 L1542.0,704.5 L1544.0,704.5 L1546.0,704.5 L1548.0,704.4 L1550.0,704.4 L1552.0,704.4 L1554.0,704.4 L1556.0,704.4 L1558.0,704.3 L1560.0,704.3 L1562.0,704.3 L1564.0,704.3 L1566.0,704.3 L1568.0,704.2 L1570.0,704.2 L1572.0,704.2 L1574.0,704.2 L1576.0,704.1 L1578.0,704.1 L1580.0,704.1 L1582.0,704.1" stroke="#0000ff" stroke-width="4.81"/>
<path d="M1578.0,704.1 L1580.0,704.1 L1582.0,704.1 L1584.0,704.0 L1586.0,704.0 L1587.0,704.0 L1588.0,704.0 L1590.0,703.9 L1592.0,703.9 L1594.0,703.9 L1596.0,703.8 L1598.0,703.8 L1600.0,703.8 L1602.0,703.7 L1604.0,703.7 L1606.0,703.6 L1608.0,703.6 L1610.0,703.5 L1612.0,703.5 L1614.0,703.4 L1616.0,703.4 L1618.0,703.3 L1620.0,703.3 L1622.0,703.2 L1624.0,703.2 L1626.0,703.1 L1628.0,703.0 L1630.0,703.0 L1632.0,702.9 L1634.0,702.9 L1636.0,702.8 L1637.7,702.7 L1638.0,702.7 L1640.0,702.7 L1642.0,702.6 L1644.0,702.6 L1646.0,702.5 L1648.0,702.4 L1650.0,702.4 L1652.0,702.3 L1654.0,702.2 L1656.0,702.2 L1658.0,702.1 L1660.0,702.0 L1662.0,702.0 L1664.0,701.9 L1666.0,701.8 L1668.0,701.7 L1670.0,701.7 L1672.0,701.6 L1674.0,701.5 L1676.0,701.4 L1678.0,701.3 L1680.0,701.3 L1682.0,701.2 L1684.0,701.1 L1686.0,701.0 L1688.0,700.9 L1690.0,700.8 L1692.0,700.7 L1694.0,700.6 L1696.0,700.5 L1698.0,700.5 L1700.0,700.4 L1702.0,700.3 L1704.0,700.2 L1706.0,700.1 L1708.0,700.0 L1710.0,699.9 L1712.0,699.8 L1713.8,699.7 L1714.0,699.7 L1716.0,699.6 L1718.0,699.5 L1720.0,699.4 L1722.0,699.3 L1724.0,699.3 L1726.0,699.2 L1728.0,699.1 L1730.0,699.0 L1732.0,698.9 L1734.0,698.8 L1736.0,698.7 L1738.0,698.6 L1740.0,698.5 L1742.0,698.4 L1744.0,698.2 L1746.0,698.1 L1748.0,697.9 L1750.0,697.7 L1752.0,697.5 L1754.0,697.2 L1754.4,697.2 L1756.0,696.8 L1758.0,696.1 L1760.0,695.0 L1762.0,693.7 L1764.0,692.0 L1764.5,691.6 L1766.0,689.7 L1768.0,685.6 L1770.0,680.4 L1772.0,674.7 L1772.1,674.3 L1774.0,668.3 L1776.0,660.7 L1778.0,652.2 L1778.7,649.0 L1780.0,642.4 L1782.0,630.3 L1784.0,619.3 L1784.8,616.0 L1786.0,611.6 L1788.0,604.5 L1790.0,599.5 L1791.4,598.3 L1792.0,598.8 L1794.0,607.3 L1796.0,620.5 L1796.5,623.6 L1798.0,636.4 L1800.0,656.1 L1801.0,664.2 L1802.0,670.3 L1804.0,681.0 L1805.1,684.5 L1806.0,686.3 L1808.0,689.4 L1810.0,691.4 L1811.2,692.1 L1812.0,692.4 L1814.0,693.0 L1816.0,693.6 L1818.0,694.2 L1820.0,694.6 L1822.0,694.9 L1824.0,695.2 L1826.0,695.4 L1828.0,695.6 L1830.0,695.6 L1830.4,695.6 L1832.0,695.6 L1834.0,695.6 L1836.0,695.6 L1838.0,695.5 L1840.0,695.5 L1842.0,695.4 L1844.0,695.4 L1846.0,695.3 L1848.0,695.2 L1850.0,695.2 L1852.0,695.1 L1854.0,695.0 L1856.0,694.9 L1858.0,694.9 L1860.0,694.8 L1862.0,694.7 L1864.0,694.7 L1866.0,694.7 L1868.0,694.6 L1870.0,694.6 L1871.0,694.6 L1872.0,694.6 L1874.0,694.6 L1876.0,694.6 L1878.0,694.6 L1880.0,694.6 L1882.0,694.6 L1884.0,694.6 L1886.0,694.6 L1888.0,694.6 L1890.0,694.6 L1892.0,694.6 L1894.0,694.6 L1896.0,694.6 L1896.4,694.6 L1898.0,694.4 L1900.0,693.7 L1902.0,692.8 L1904.0,692.2 L1905.0,692.1 L1906.0,692.3 L1908.0,693.5 L1910.0,695.0 L1911.6,695.6 L1912.0,695.7 L1914.0,696.0 L1916.0,696.3 L1918.0,696.5 L1920.0,696.8 L1922.0,697.0 L1924.0,697.1 L1926.0,697.3 L1928.0,697.4 L1930.0,697.5 L1932.0,697.6 L1934.0,697.6 L1936.0,697.7 L1937.0,697.7 L1938.0,697.6 L1940.0,697.5 L1942.0,697.3 L1944.0,697.1 L1946.0,696.7 L1948.0,696.4 L1950.0,696.0 L1952.0,695.7 L1952.2,695.6 L1954.0,695.3 L1956.0,694.9 L1958.0,694.5 L1960.0,694.1 L1962.0,693.6 L1964.0,693.1 L1966.0,692.5 L1967.4,692.1 L1968.0,691.9 L1970.0,691.2 L1972.0,690.4 L1974.0,689.5 L1976.0,688.5 L1978.0,687.4 L1980.0,686.2 L1982.0,684.9 L1982.6,684.5 L1984.0,683.5 L1986.0,681.8 L1988.0,679.8 L1990.0,677.6 L1992.0,675.3 L1992.7,674.3 L1994.0,672.6 L1996.0,669.5 L1998.0,666.1 L2000.0,662.3 L2000.4,661.7 L2002.0,657.7 L2004.0,652.6 L2005.4,650.5 L2006.0,650.1 L2008.0,649.3 L2010.0,648.7 L2012.0,648.0 L2013.0,647.4 L2014.0,646.5 L2016.0,642.8 L2018.0,637.8 L2020.0,632.7 L2020.6,631.2 L2022.0,628.1 L2024.0,623.3 L2026.0,618.5 L2028.0,614.0 L2028.3,613.5 L2030.0,609.8 L2032.0,605.9 L2034.0,602.1 L2036.0,598.3 L2037.4,595.7 L2038.0,594.5 L2040.0,590.3 L2041.9,587.1 L2042.0,587.0 L2044.0,585.3 L2046.0,584.0 L2048.0,582.5 L2048.5,582.0 L2050.0,580.3 L2052.0,577.5 L2054.0,574.2 L2056.0,570.7 L2058.0,567.4 L2058.7,566.3 L2060.0,564.3 L2062.0,561.2 L2064.0,558.2 L2066.0,555.2 L2068.0,552.3 L2068.8,551.1 L2070.0,549.4 L2072.0,546.6 L2074.0,543.8 L2076.0,541.1 L2078.0,538.3 L2080.0,535.5 L2081.5,533.3 L2082.0,532.6 L2084.0,529.7 L2086.0,526.6 L2088.0,523.6 L2090.0,520.6 L2091.6,518.1 L2092.0,517.6 L2094.0,514.6 L2096.0,511.7 L2098.0,508.8 L2099.3,507.0" stroke="#0000ff" stroke-width="5.20"/>
<path d="M430.0,902.4 L432.0,902.6 L434.0,902.7 L436.0,902.9 L438.0,903.0 L440.0,903.1 L442.0,903.2 L444.0,903.4 L446.0,903.5 L448.0,903.6 L450.0,903.7 L452.0,903.8 L454.0,903.9 L456.0,904.0 L458.0,904.1 L460.0,904.1 L462.0,904.2 L464.0,904.3 L466.0,904.4 L468.0,904.4 L470.0,904.5 L472.0,904.5 L474.0,904.6 L476.0,904.6 L478.0,904.7 L480.0,904.7 L482.0,904.8 L484.0,904.8 L486.0,904.8 L488.0,904.9 L490.0,904.9 L492.0,904.9 L494.0,904.9 L496.0,904.9 L498.0,905.0 L500.0,905.0 L502.0,905.0 L504.0,905.0 L506.0,905.0 L506.1,905.0 L508.0,905.0 L510.0,904.9 L512.0,904.9 L514.0,904.9 L516.0,904.8 L518.0,904.7 L520.0,904.6 L522.0,904.5 L524.0,904.5 L526.0,904.4 L528.0,904.3 L530.0,904.2 L532.0,904.1 L534.0,904.0 L536.0,903.9 L538.0,903.8 L540.0,903.7 L542.0,903.6 L544.0,903.6 L546.0,903.5 L548.0,903.5 L550.0,903.5 L551.7,903.5 L552.0,903.5 L554.0,903.5 L556.0,903.5 L558.0,903.5 L560.0,903.6 L562.0,903.6 L564.0,903.7 L566.0,903.8 L568.0,903.8 L570.0,903.9 L572.0,903.9 L574.0,903.9 L576.0,904.0 L577.1,904.0 L578.0,903.9 L580.0,903.1 L582.0,901.9 L584.0,900.8 L584.7,900.4 L586.0,899.7 L588.0,898.5 L590.0,897.6 L591.3,897.4 L592.0,897.5 L594.0,898.7 L596.0,900.4 L597.4,901.4 L598.0,901.8 L600.0,903.1 L602.0,903.9 L602.4,904.0 L604.0,903.7 L606.0,902.8 L608.0,901.6 L610.0,900.1 L612.0,898.7 L612.6,898.4 L614.0,897.6 L616.0,896.4 L618.0,895.2 L620.0,894.0 L622.0,892.8 L622.7,892.3 L624.0,891.5 L626.0,890.1 L628.0,888.7 L630.0,887.3 L632.0,885.8 L632.9,885.2 L634.0,884.3 L636.0,882.7 L638.0,881.1 L640.0,879.4 L642.0,877.8 L643.0,877.1 L644.0,876.4 L646.0,874.9 L648.0,873.5 L650.0,872.1 L652.0,870.8 L654.0,869.5 L655.7,868.5 L656.0,868.3 L658.0,866.9 L660.0,865.4 L662.0,864.1 L664.0,863.2 L665.8,862.9 L666.0,862.9 L668.0,863.4 L670.0,864.6 L672.0,866.0 L673.4,866.9 L674.0,867.3 L676.0,868.7 L678.0,870.3 L680.0,871.9 L682.0,873.4 L683.6,874.5 L684.0,874.8 L686.0,876.1 L688.0,877.3 L690.0,878.5 L692.0,879.7 L694.0,880.8 L696.0,882.0 L696.3,882.1 L698.0,883.2 L700.0,884.5 L702.0,885.8 L704.0,887.0 L706.0,888.1 L706.4,888.2 L708.0,888.9 L710.0,889.7 L712.0,890.4 L714.0,891.0 L716.0,891.6 L718.0,892.1 L719.1,892.3 L720.0,892.5 L722.0,892.8 L724.0,893.1 L726.0,893.3 L726.7,893.3 L728.0,893.0 L730.0,891.8 L732.0,890.4 L733.3,889.8 L734.0,889.5 L736.0,888.7 L738.0,888.2 L738.4,888.2 L740.0,888.9 L742.0,890.8 L744.0,892.9 L744.5,893.3 L746.0,894.7 L748.0,896.5 L750.0,898.2 L752.0,899.9 L752.1,899.9 L754.0,901.4 L756.0,902.8 L758.0,904.1 L759.7,905.0 L760.0,905.1 L762.0,906.0 L764.0,906.7 L766.0,907.3 L767.3,907.5 L768.0,907.6 L770.0,907.8 L772.0,908.0 L774.0,908.1 L776.0,908.3 L778.0,908.4 L780.0,908.5 L782.0,908.6 L784.0,908.7 L786.0,908.8 L788.0,908.8 L790.0,908.9 L792.0,908.9 L794.0,909.0 L795.2,909.0 L796.0,909.1 L798.0,909.1 L800.0,909.1 L802.0,909.2 L804.0,909.2 L806.0,909.2 L808.0,909.3 L810.0,909.3 L812.0,909.3 L814.0,909.4 L816.0,909.4 L818.0,909.4 L820.0,909.4 L822.0,909.5 L824.0,909.5 L825.6,909.5 L826.0,909.5 L828.0,909.6 L830.0,909.6 L832.0,909.7 L834.0,909.7 L836.0,909.8 L838.0,909.8 L840.0,909.9 L842.0,909.9 L844.0,910.0 L846.0,910.0 L848.0,910.1 L850.0,910.1 L852.0,910.2 L854.0,910.2 L856.0,910.3 L858.0,910.4 L860.0,910.4 L862.0,910.5 L864.0,910.5 L866.0,910.6 L868.0,910.7 L870.0,910.7 L872.0,910.8 L874.0,910.9 L876.0,910.9 L878.0,911.0 L880.0,911.1 L882.0,911.2 L884.0,911.2 L886.0,911.3 L888.0,911.4 L890.0,911.4 L892.0,911.5 L894.0,911.6 L896.0,911.7 L898.0,911.7 L900.0,911.8 L902.0,911.9" stroke="#ff0000" stroke-width="4.30"/>
<path d="M898.0,911.7 L900.0,911.8 L902.0,911.9 L904.0,912.0 L906.0,912.0 L908.0,912.1 L910.0,912.2 L912.0,912.2 L914.0,912.3 L916.0,912.4 L918.0,912.5 L920.0,912.5 L922.0,912.6 L924.0,912.7 L926.0,912.8 L928.0,912.8 L930.0,912.9 L932.0,913.0 L934.0,913.0 L936.0,913.1 L938.0,913.2 L940.0,913.3 L942.0,913.3 L944.0,913.4 L946.0,913.5 L948.0,913.5 L950.0,913.6 L952.0,913.7 L954.0,913.7 L956.0,913.8 L958.0,913.8 L960.0,913.9 L962.0,914.0 L964.0,914.0 L966.0,914.1 L968.0,914.1 L970.0,914.2 L972.0,914.3 L974.0,914.3 L976.0,914.4 L978.0,914.4 L980.0,914.5 L982.0,914.5 L984.0,914.6 L986.0,914.6 L988.0,914.6 L990.0,914.7 L992.0,914.7 L994.0,914.8 L996.0,914.8 L998.0,914.8 L1000.0,914.9 L1002.0,914.9" stroke="#ff0000" stroke-width="4.30"/>
<path d="M998.0,914.8 L1000.0,914.9 L1002.0,914.9 L1004.0,914.9 L1006.0,915.0 L1008.0,915.0 L1010.0,915.0 L1012.0,915.0 L1014.0,915.0 L1016.0,915.1 L1018.0,915.1 L1020.0,915.1 L1022.0,915.1 L1024.0,915.1 L1026.0,915.1 L1028.0,915.1 L1030.0,915.1 L1032.0,915.1 L1034.0,915.1 L1036.0,915.1 L1038.0,915.1 L1040.0,915.1 L1042.0,915.1 L1044.0,915.1 L1046.0,915.0 L1048.0,915.0 L1050.0,915.0 L1052.0,915.0 L1054.0,914.9 L1056.0,914.9 L1058.0,914.9 L1060.0,914.9 L1062.0,914.8 L1064.0,914.8 L1066.0,914.8 L1068.0,914.8 L1070.0,914.7 L1072.0,914.7 L1074.0,914.7 L1076.0,914.7 L1078.0,914.6 L1080.0,914.6 L1082.0,914.6 L1084.0,914.6 L1086.0,914.6 L1088.0,914.5 L1090.0,914.5 L1092.0,914.5 L1094.0,914.5 L1096.0,914.5 L1098.0,914.5 L1100.0,914.5 L1102.0,914.5 L1104.0,914.5 L1106.0,914.5 L1108.0,914.5 L1110.0,914.5 L1112.0,914.5 L1114.0,914.5 L1116.0,914.5 L1118.0,914.5 L1120.0,914.5 L1122.0,914.5 L1124.0,914.6 L1126.0,914.6 L1128.0,914.6 L1130.0,914.6 L1132.0,914.6 L1134.0,914.6 L1136.0,914.6 L1138.0,914.6 L1140.0,914.6 L1142.0,914.7 L1144.0,914.7 L1146.0,914.7 L1148.0,914.7 L1150.0,914.7 L1152.0,914.7 L1154.0,914.7 L1156.0,914.7 L1158.0,914.8 L1160.0,914.8 L1162.0,914.8 L1164.0,914.8 L1166.0,914.8 L1168.0,914.8 L1170.0,914.8 L1172.0,914.9 L1174.0,914.9 L1176.0,914.9 L1178.0,914.9 L1180.0,914.9 L1182.0,914.9 L1184.0,914.9 L1186.0,914.9 L1188.0,914.9 L1190.0,915.0 L1192.0,915.0 L1194.0,915.0 L1196.0,915.0 L1198.0,915.0 L1200.0,915.0 L1202.0,915.0 L1204.0,915.0 L1206.0,915.0 L1208.0,915.0 L1210.0,915.0 L1212.0,915.0 L1214.0,915.1 L1216.0,915.1 L1218.0,915.1 L1220.0,915.1 L1222.0,915.1 L1224.0,915.1 L1226.0,915.1 L1228.0,915.1 L1230.0,915.1 L1232.0,915.1 L1234.0,915.1 L1236.0,915.1 L1238.0,915.1 L1240.0,915.2 L1242.0,915.2 L1244.0,915.2 L1246.0,915.2 L1248.0,915.2 L1250.0,915.2 L1252.0,915.2 L1254.0,915.2 L1256.0,915.2 L1258.0,915.2 L1260.0,915.2 L1262.0,915.2 L1264.0,915.2 L1266.0,915.2 L1268.0,915.3 L1270.0,915.3 L1272.0,915.3 L1274.0,915.3 L1276.0,915.3 L1278.0,915.3 L1280.0,915.3 L1282.0,915.3 L1284.0,915.3 L1286.0,915.3 L1288.0,915.3 L1290.0,915.3 L1292.0,915.3 L1294.0,915.3 L1296.0,915.4 L1298.0,915.4 L1300.0,915.4 L1302.0,915.4 L1304.0,915.4 L1306.0,915.4 L1308.0,915.4 L1310.0,915.4 L1312.0,915.4 L1314.0,915.4 L1316.0,915.4 L1318.0,915.4 L1320.0,915.4 L1322.0,915.4 L1324.0,915.4 L1326.0,915.4 L1328.0,915.4 L1330.0,915.4 L1332.0,915.4 L1334.0,915.5 L1336.0,915.5 L1338.0,915.5 L1340.0,915.5 L1342.0,915.5 L1344.0,915.5 L1346.0,915.5 L1348.0,915.5 L1350.0,915.5 L1352.0,915.5 L1354.0,915.5 L1356.0,915.5 L1358.0,915.5 L1360.0,915.5 L1362.0,915.5 L1364.0,915.5 L1366.0,915.5 L1368.0,915.5 L1370.0,915.5 L1372.0,915.5 L1374.0,915.5 L1376.0,915.5 L1378.0,915.5 L1380.0,915.5 L1382.0,912.5 L1383.0,911.5 L1384.0,912.5 L1386.0,915.5 L1388.0,915.5 L1390.0,915.5 L1392.0,915.5 L1394.0,915.5 L1396.0,915.5 L1398.0,915.5 L1400.0,915.5 L1402.0,915.5 L1404.0,915.5 L1406.0,915.5 L1408.0,915.5 L1410.0,915.5 L1412.0,915.5 L1414.0,915.5 L1416.0,915.5 L1418.0,915.4 L1420.0,915.4 L1422.0,915.4 L1424.0,915.4 L1426.0,915.4 L1428.0,915.4 L1430.0,915.4 L1432.0,915.4 L1434.0,915.4 L1436.0,915.4 L1438.0,915.4 L1440.0,915.4 L1442.0,915.3 L1444.0,915.3 L1446.0,915.3 L1448.0,915.3 L1450.0,915.3 L1452.0,915.3 L1454.0,915.3 L1456.0,915.3 L1458.0,915.3 L1460.0,915.3 L1462.0,915.2 L1464.0,915.2 L1466.0,915.2 L1468.0,915.2 L1470.0,915.2 L1472.0,915.2 L1474.0,915.2 L1476.0,915.2 L1478.0,915.1 L1480.0,915.1 L1482.0,915.1 L1484.0,915.1 L1486.0,915.1 L1488.0,915.1 L1490.0,915.1 L1492.0,915.1 L1494.0,915.0 L1496.0,915.0 L1498.0,915.0 L1500.0,915.0 L1502.0,915.0 L1504.0,915.0 L1506.0,915.0 L1508.0,914.9 L1510.0,914.9 L1512.0,914.9 L1514.0,914.9 L1516.0,914.9 L1518.0,914.8 L1520.0,914.8 L1522.0,914.8" stroke="#ff0000" stroke-width="4.30"/>
<path d="M1518.0,914.8 L1520.0,914.8 L1522.0,914.8 L1524.0,914.8 L1526.0,914.8 L1528.0,914.7 L1530.0,914.7 L1532.0,914.7 L1534.0,914.7 L1536.0,914.6 L1538.0,914.6 L1540.0,914.6 L1542.0,914.5 L1544.0,914.5 L1546.0,914.4 L1548.0,914.4 L1550.0,914.4 L1552.0,914.3 L1554.0,914.3 L1556.0,914.2 L1558.0,914.2 L1560.0,914.2 L1562.0,914.1 L1564.0,914.1 L1566.0,914.0 L1568.0,914.0 L1570.0,913.9 L1572.0,913.9 L1574.0,913.9 L1576.0,913.8 L1578.0,913.8 L1580.0,913.7 L1582.0,913.7" stroke="#ff0000" stroke-width="4.30"/>
<path d="M1578.0,913.8 L1580.0,913.7 L1582.0,913.7 L1584.0,913.7 L1586.0,913.6 L1587.0,913.6 L1588.0,913.6 L1590.0,913.6 L1592.0,913.5 L1594.0,913.5 L1596.0,913.5 L1598.0,913.4 L1600.0,913.4 L1602.0,913.4 L1604.0,913.4 L1606.0,913.3 L1608.0,913.3 L1610.0,913.3 L1612.0,913.2 L1614.0,913.2 L1616.0,913.2 L1618.0,913.2 L1620.0,913.1 L1622.0,913.1 L1624.0,913.1 L1626.0,913.0 L1628.0,913.0 L1630.0,913.0 L1632.0,912.9 L1634.0,912.9 L1636.0,912.8 L1637.7,912.8 L1638.0,912.8 L1640.0,912.8 L1642.0,912.7 L1644.0,912.7 L1646.0,912.6 L1648.0,912.6 L1650.0,912.5 L1652.0,912.5 L1654.0,912.4 L1656.0,912.4 L1658.0,912.3 L1660.0,912.2 L1662.0,912.1 L1664.0,912.1 L1666.0,912.0 L1668.0,911.9 L1670.0,911.8 L1672.0,911.7 L1674.0,911.6 L1676.0,911.5 L1678.0,911.4 L1680.0,911.3 L1682.0,911.2 L1684.0,911.1 L1686.0,911.0 L1688.0,910.9 L1690.0,910.7 L1692.0,910.6 L1694.0,910.5 L1696.0,910.4 L1698.0,910.3 L1700.0,910.1 L1702.0,910.0 L1704.0,909.9 L1706.0,909.8 L1708.0,909.6 L1710.0,909.5 L1712.0,909.4 L1713.8,909.2 L1714.0,909.2 L1716.0,909.1 L1718.0,909.0 L1720.0,908.8 L1722.0,908.6 L1724.0,908.5 L1726.0,908.3 L1728.0,908.1 L1730.0,907.9 L1732.0,907.7 L1734.0,907.5 L1736.0,907.3 L1738.0,907.1 L1740.0,906.9 L1742.0,906.6 L1744.0,906.4 L1745.4,906.2 L1746.0,906.1 L1748.0,905.9 L1750.0,905.6 L1752.0,905.2 L1754.0,904.9 L1756.0,904.4 L1757.0,904.2 L1758.0,903.9 L1760.0,903.3 L1762.0,902.5 L1763.1,901.8 L1764.0,900.9 L1766.0,897.4 L1767.0,895.2 L1768.0,892.5 L1770.0,884.5 L1770.1,884.0 L1772.0,869.8 L1773.9,852.3 L1774.0,851.5 L1776.0,834.5 L1777.0,826.2 L1778.0,818.4 L1780.0,803.2 L1780.2,801.6 L1782.0,786.8 L1784.0,770.2 L1786.0,753.2 L1788.0,738.2 L1790.0,725.5 L1791.6,720.5 L1792.0,721.2 L1794.0,740.2 L1794.8,750.9 L1796.0,773.6 L1797.3,801.6 L1798.0,814.1 L1800.0,846.2 L1800.5,852.3 L1802.0,867.9 L1804.0,882.7 L1804.3,884.0 L1806.0,889.3 L1807.5,892.2 L1808.0,892.9 L1810.0,895.2 L1811.3,896.1 L1812.0,896.4 L1814.0,897.0 L1816.0,897.5 L1818.0,897.8 L1820.0,898.2 L1822.0,898.6 L1824.0,898.9 L1826.0,899.2 L1828.0,899.6 L1829.0,899.9 L1830.0,900.3 L1832.0,901.7 L1834.0,903.3 L1836.0,904.2 L1836.6,904.3 L1838.0,904.3 L1840.0,904.3 L1842.0,904.2 L1844.0,904.2 L1846.0,904.1 L1848.0,904.0 L1850.0,903.9 L1852.0,903.8 L1854.0,903.7 L1856.0,903.6 L1858.0,903.5 L1860.0,903.4 L1862.0,903.4 L1864.0,903.3 L1866.0,903.2 L1868.0,903.2 L1870.0,903.2 L1871.0,903.2 L1872.0,903.2 L1874.0,903.2 L1876.0,903.3 L1878.0,903.4 L1880.0,903.6 L1882.0,903.8 L1884.0,904.0 L1886.0,904.1 L1888.0,904.3 L1890.0,904.5 L1892.0,904.7 L1894.0,904.9 L1896.0,905.0 L1898.0,905.1 L1900.0,905.2 L1901.5,905.2 L1902.0,905.1 L1904.0,904.2 L1906.0,903.2 L1906.5,903.2 L1908.0,903.9 L1910.0,905.8 L1911.6,906.7 L1912.0,906.7 L1914.0,906.9 L1916.0,907.0 L1918.0,907.1 L1920.0,907.3 L1922.0,907.3 L1924.0,907.4 L1926.0,907.5 L1928.0,907.6 L1930.0,907.6 L1932.0,907.6 L1934.0,907.7 L1936.0,907.7 L1938.0,907.7 L1940.0,907.7 L1942.0,907.7 L1942.0,907.7 L1944.0,907.7 L1946.0,907.5 L1948.0,907.2 L1950.0,906.8 L1952.0,906.4 L1954.0,905.9 L1956.0,905.5 L1957.2,905.2 L1958.0,905.0 L1960.0,904.4 L1962.0,903.8 L1964.0,903.1 L1966.0,902.2 L1967.4,901.6 L1968.0,901.4 L1970.0,900.3 L1972.0,899.2 L1974.0,897.9 L1976.0,896.5 L1978.0,895.1 L1980.0,893.6 L1980.1,893.5 L1982.0,891.9 L1984.0,890.1 L1986.0,888.2 L1987.7,886.4 L1988.0,886.1 L1990.0,883.8 L1992.0,881.4 L1994.0,878.9 L1995.3,877.3 L1996.0,876.5 L1998.0,874.3 L2000.0,871.7 L2000.4,871.2 L2002.0,867.8 L2004.0,862.8 L2005.4,860.0 L2006.0,859.3 L2008.0,857.2 L2010.0,855.4 L2010.5,855.0 L2012.0,853.8 L2014.0,852.4 L2015.6,850.9 L2016.0,850.4 L2018.0,847.2 L2020.0,843.2 L2022.0,839.0 L2023.2,836.7 L2024.0,835.2 L2026.0,831.6 L2028.0,828.0 L2030.0,824.4 L2030.8,823.0 L2032.0,820.8 L2034.0,817.2 L2036.0,813.6 L2038.0,810.0 L2038.4,809.3 L2040.0,806.5 L2042.0,803.1 L2043.5,800.2 L2044.0,799.0 L2046.0,793.8 L2048.0,788.6 L2048.5,787.5 L2050.0,784.9 L2052.0,782.0 L2054.0,779.4 L2056.0,776.7 L2058.0,773.6 L2058.7,772.3 L2060.0,769.4 L2062.0,763.9 L2064.0,757.7 L2066.0,751.6 L2068.0,746.2 L2068.8,744.4 L2070.0,742.0 L2072.0,738.2 L2074.0,734.8 L2076.0,732.2 L2076.4,731.7 L2078.0,730.5 L2080.0,729.4 L2082.0,728.3 L2084.0,726.7 L2084.0,726.7 L2086.0,723.8 L2088.0,719.5 L2090.0,714.8 L2091.6,711.4 L2092.0,710.8 L2094.0,707.3 L2096.0,703.9 L2098.0,700.7 L2099.3,698.8" stroke="#ff0000" stroke-width="4.30"/>
<path d="M430.0,1114.7 L432.0,1114.8 L434.0,1114.9 L436.0,1115.1 L438.0,1115.2 L440.0,1115.3 L442.0,1115.4 L444.0,1115.5 L446.0,1115.6 L448.0,1115.7 L450.0,1115.8 L452.0,1115.9 L454.0,1116.0 L456.0,1116.1 L458.0,1116.2 L460.0,1116.3 L462.0,1116.4 L464.0,1116.5 L466.0,1116.6 L468.0,1116.6 L470.0,1116.7 L470.6,1116.7 L472.0,1116.8 L474.0,1116.9 L476.0,1116.9 L478.0,1117.0 L480.0,1117.1 L482.0,1117.2 L484.0,1117.2 L486.0,1117.3 L488.0,1117.4 L490.0,1117.5 L492.0,1117.5 L494.0,1117.6 L496.0,1117.6 L498.0,1117.7 L500.0,1117.7 L502.0,1117.7 L504.0,1117.7 L506.0,1117.7 L506.1,1117.7 L508.0,1117.7 L510.0,1117.7 L512.0,1117.7 L514.0,1117.7 L516.0,1117.7 L518.0,1117.7 L520.0,1117.7 L522.0,1117.7 L524.0,1117.7 L526.0,1117.7 L528.0,1117.7 L530.0,1117.7 L532.0,1117.7 L534.0,1117.7 L536.0,1117.7 L538.0,1117.7 L540.0,1117.7 L542.0,1117.7 L544.0,1117.7 L546.0,1117.7 L548.0,1117.7 L550.0,1117.7 L552.0,1117.7 L554.0,1117.7 L556.0,1117.7 L558.0,1117.7 L560.0,1117.7 L562.0,1117.7 L564.0,1117.7 L566.0,1117.7 L568.0,1117.7 L570.0,1117.7 L572.0,1117.7 L574.0,1117.7 L576.0,1117.7 L578.0,1117.7 L580.0,1117.7 L582.0,1117.7 L584.0,1117.7 L586.0,1117.7 L588.0,1117.7 L590.0,1117.7 L592.0,1117.7 L594.0,1117.7 L596.0,1117.7 L598.0,1117.7 L600.0,1117.7 L602.0,1117.7 L604.0,1117.7 L606.0,1117.7 L607.5,1117.7 L608.0,1117.7 L610.0,1117.6 L612.0,1117.2 L614.0,1116.7 L616.0,1116.1 L618.0,1115.4 L620.0,1114.8 L620.2,1114.7 L622.0,1114.1 L624.0,1113.2 L626.0,1112.2 L627.8,1111.1 L628.0,1111.0 L630.0,1109.6 L632.0,1107.8 L634.0,1105.9 L635.4,1104.6 L636.0,1104.0 L638.0,1101.9 L640.0,1099.7 L642.0,1097.3 L643.0,1095.9 L644.0,1094.5 L646.0,1091.0 L648.0,1087.2 L650.0,1083.4 L650.6,1082.2 L652.0,1079.7 L654.0,1075.9 L655.7,1073.1 L656.0,1072.7 L658.0,1069.8 L660.0,1067.6 L660.8,1067.0 L662.0,1066.3 L664.0,1065.5 L664.3,1065.5 L666.0,1066.1 L668.0,1067.7 L668.4,1068.0 L670.0,1069.5 L672.0,1071.6 L673.4,1073.1 L674.0,1073.7 L676.0,1075.9 L678.0,1078.2 L680.0,1080.4 L682.0,1082.6 L683.6,1084.3 L684.0,1084.7 L686.0,1086.6 L688.0,1088.5 L690.0,1090.3 L692.0,1092.0 L693.7,1093.4 L694.0,1093.6 L696.0,1095.0 L698.0,1096.4 L700.0,1097.7 L702.0,1098.9 L703.9,1100.0 L704.0,1100.1 L706.0,1101.3 L708.0,1102.4 L709.0,1102.5 L710.0,1102.5 L712.0,1102.5 L714.0,1102.5 L715.0,1102.5 L716.0,1102.7 L718.0,1103.7 L720.0,1105.1 L722.0,1106.4 L724.0,1107.1 L724.2,1107.1 L726.0,1106.1 L728.0,1103.8 L728.2,1103.5 L730.0,1101.0 L731.8,1098.5 L732.0,1098.2 L734.0,1096.1 L736.0,1094.3 L738.0,1093.4 L738.4,1093.4 L740.0,1094.2 L742.0,1096.5 L742.4,1096.9 L744.0,1099.0 L746.0,1102.1 L747.0,1103.5 L748.0,1104.9 L750.0,1107.6 L752.0,1110.0 L753.6,1111.7 L754.0,1112.0 L756.0,1113.8 L758.0,1115.3 L759.7,1116.2 L760.0,1116.3 L762.0,1117.0 L764.0,1117.6 L766.0,1118.1 L768.0,1118.5 L769.8,1118.8 L770.0,1118.8 L772.0,1119.0 L774.0,1119.3 L776.0,1119.5 L778.0,1119.6 L780.0,1119.8 L780.0,1119.8 L782.0,1119.9 L784.0,1120.0 L786.0,1120.1 L788.0,1120.3 L790.0,1120.4 L792.0,1120.5 L794.0,1120.6 L796.0,1120.7 L798.0,1120.8 L800.0,1120.8 L802.0,1120.9 L804.0,1121.0 L806.0,1121.1 L808.0,1121.2 L810.0,1121.2 L812.0,1121.3 L814.0,1121.4 L816.0,1121.5 L818.0,1121.5 L820.0,1121.6 L822.0,1121.7 L824.0,1121.7 L825.6,1121.8 L826.0,1121.8 L828.0,1121.9 L830.0,1122.0 L832.0,1122.0 L834.0,1122.1 L836.0,1122.2 L838.0,1122.2 L840.0,1122.3 L842.0,1122.4 L844.0,1122.5 L846.0,1122.5 L848.0,1122.6 L850.0,1122.7 L852.0,1122.8 L854.0,1122.8 L856.0,1122.9 L858.0,1123.0 L860.0,1123.1 L862.0,1123.1 L864.0,1123.2 L866.0,1123.3 L868.0,1123.4 L870.0,1123.4 L872.0,1123.5 L874.0,1123.6 L876.0,1123.7 L878.0,1123.7 L880.0,1123.8 L882.0,1123.9 L884.0,1124.0 L886.0,1124.0 L888.0,1124.1 L890.0,1124.2 L892.0,1124.3 L894.0,1124.3 L896.0,1124.4 L898.0,1124.5 L900.0,1124.6 L902.0,1124.6" stroke="#000000" stroke-width="4.00"/>
<path d="M898.0,1124.5 L900.0,1124.6 L902.0,1124.6 L904.0,1124.7 L906.0,1124.8 L908.0,1124.8 L910.0,1124.9 L912.0,1125.0 L914.0,1125.0 L916.0,1125.1 L918.0,1125.2 L920.0,1125.2 L922.0,1125.3 L924.0,1125.4 L926.0,1125.4 L928.0,1125.5 L930.0,1125.6 L932.0,1125.6 L934.0,1125.7 L936.0,1125.8 L938.0,1125.8 L940.0,1125.9 L942.0,1125.9 L944.0,1126.0 L946.0,1126.1 L948.0,1126.1 L950.0,1126.2 L952.0,1126.2 L954.0,1126.3 L956.0,1126.3 L958.0,1126.4 L960.0,1126.4 L962.0,1126.4 L964.0,1126.5 L966.0,1126.5 L968.0,1126.6 L970.0,1126.6 L972.0,1126.7 L974.0,1126.7 L976.0,1126.7 L978.0,1126.8 L980.0,1126.8 L982.0,1126.8 L984.0,1126.9 L986.0,1126.9 L988.0,1126.9 L990.0,1126.9 L992.0,1127.0 L994.0,1127.0 L996.0,1127.0 L998.0,1127.0 L1000.0,1127.1 L1002.0,1127.1" stroke="#000000" stroke-width="4.00"/>
<path d="M998.0,1127.0 L1000.0,1127.1 L1002.0,1127.1 L1004.0,1127.1 L1006.0,1127.1 L1008.0,1127.1 L1010.0,1127.1 L1012.0,1127.2 L1014.0,1127.2 L1016.0,1127.2 L1018.0,1127.2 L1020.0,1127.2 L1022.0,1127.2 L1024.0,1127.2 L1026.0,1127.2 L1028.0,1127.2 L1030.0,1127.2 L1032.0,1127.2 L1034.0,1127.2 L1036.0,1127.2 L1038.0,1127.2 L1040.0,1127.1 L1042.0,1127.1 L1044.0,1127.1 L1046.0,1127.1 L1048.0,1127.1 L1050.0,1127.1 L1052.0,1127.1 L1054.0,1127.1 L1056.0,1127.1 L1058.0,1127.1 L1060.0,1127.0 L1062.0,1127.0 L1064.0,1127.0 L1066.0,1127.0 L1068.0,1127.0 L1070.0,1127.0 L1072.0,1127.0 L1074.0,1127.0 L1076.0,1127.0 L1078.0,1126.9 L1080.0,1126.9 L1082.0,1126.9 L1084.0,1126.9 L1086.0,1126.9 L1088.0,1126.9 L1090.0,1126.9 L1092.0,1126.9 L1094.0,1126.9 L1096.0,1126.9 L1098.0,1126.9 L1100.0,1126.9 L1102.0,1126.9 L1104.0,1126.9 L1106.0,1126.9 L1108.0,1126.9 L1110.0,1126.9 L1112.0,1126.9 L1114.0,1126.9 L1116.0,1126.9 L1118.0,1126.9 L1120.0,1126.9 L1122.0,1126.9 L1124.0,1126.9 L1126.0,1126.9 L1128.0,1126.9 L1130.0,1126.9 L1132.0,1126.9 L1134.0,1126.9 L1136.0,1126.9 L1138.0,1127.0 L1140.0,1127.0 L1142.0,1127.0 L1144.0,1127.0 L1146.0,1127.0 L1148.0,1127.0 L1150.0,1127.0 L1152.0,1127.0 L1154.0,1127.0 L1156.0,1127.0 L1158.0,1127.0 L1160.0,1127.0 L1162.0,1127.1 L1164.0,1127.1 L1166.0,1127.1 L1168.0,1127.1 L1170.0,1127.1 L1172.0,1127.1 L1174.0,1127.1 L1176.0,1127.2 L1178.0,1127.2 L1180.0,1127.2 L1182.0,1127.3 L1184.0,1127.5 L1186.0,1127.7 L1188.0,1127.8 L1190.0,1127.9 L1192.0,1127.8 L1194.0,1127.5 L1196.0,1127.1 L1198.0,1126.7 L1200.0,1126.4 L1202.0,1126.2 L1204.0,1126.0 L1206.0,1125.8 L1208.0,1125.7 L1210.0,1125.6 L1212.0,1125.5 L1214.0,1125.4 L1215.0,1125.4 L1216.0,1125.4 L1218.0,1125.4 L1220.0,1125.4 L1222.0,1125.4 L1224.0,1125.4 L1226.0,1125.4 L1228.0,1125.4 L1230.0,1125.4 L1232.0,1125.4 L1234.0,1125.4 L1236.0,1125.4 L1238.0,1125.4 L1240.0,1125.4 L1242.0,1125.4 L1244.0,1125.4 L1246.0,1125.4 L1248.0,1125.4 L1250.0,1125.4 L1252.0,1125.4 L1254.0,1125.4 L1256.0,1125.4 L1258.0,1125.4 L1260.0,1125.4 L1262.0,1125.5 L1264.0,1125.8 L1266.0,1126.1 L1268.0,1126.5 L1270.0,1126.9 L1272.0,1127.2 L1274.0,1127.4 L1275.0,1127.4 L1276.0,1127.4 L1278.0,1127.4 L1280.0,1127.4 L1282.0,1127.4 L1284.0,1127.4 L1286.0,1127.4 L1288.0,1127.4 L1290.0,1127.4 L1292.0,1127.4 L1294.0,1127.4 L1296.0,1127.4 L1298.0,1127.4 L1300.0,1127.4 L1302.0,1127.4 L1304.0,1127.4 L1306.0,1127.4 L1308.0,1127.4 L1310.0,1127.4 L1312.0,1127.4 L1314.0,1127.4 L1316.0,1127.4 L1318.0,1127.4 L1320.0,1127.4 L1322.0,1127.4 L1324.0,1127.4 L1326.0,1127.4 L1328.0,1127.4 L1330.0,1127.4 L1332.0,1127.4 L1334.0,1127.4 L1336.0,1127.4 L1338.0,1127.4 L1340.0,1127.4 L1342.0,1127.4 L1344.0,1127.4 L1346.0,1127.4 L1348.0,1127.4 L1350.0,1127.4 L1352.0,1127.4 L1354.0,1127.4 L1356.0,1127.4 L1358.0,1127.4 L1360.0,1127.4 L1362.0,1127.4 L1364.0,1127.4 L1366.0,1127.4 L1368.0,1127.4 L1370.0,1127.4 L1372.0,1127.4 L1374.0,1127.4 L1376.0,1127.4 L1378.0,1127.4 L1380.0,1127.4 L1382.0,1127.4 L1384.0,1127.4 L1386.0,1127.4 L1388.0,1127.4 L1390.0,1127.4 L1392.0,1127.4 L1394.0,1127.4 L1396.0,1127.4 L1398.0,1127.4 L1400.0,1127.4 L1402.0,1127.4 L1404.0,1127.4 L1406.0,1127.4 L1408.0,1127.4 L1410.0,1127.4 L1412.0,1127.4 L1414.0,1127.4 L1416.0,1127.4 L1418.0,1127.4 L1420.0,1127.4 L1422.0,1127.4 L1424.0,1127.4 L1426.0,1127.4 L1428.0,1127.4 L1430.0,1127.4 L1432.0,1127.4 L1434.0,1127.4 L1436.0,1127.4 L1438.0,1127.4 L1440.0,1127.4 L1442.0,1127.4 L1444.0,1127.4 L1446.0,1127.4 L1448.0,1127.4 L1450.0,1127.4 L1452.0,1127.4 L1454.0,1127.4 L1456.0,1127.4 L1458.0,1127.4 L1460.0,1127.4 L1462.0,1127.4 L1464.0,1127.4 L1466.0,1127.4 L1468.0,1127.4 L1470.0,1127.4 L1472.0,1127.4 L1474.0,1127.4 L1476.0,1127.4 L1478.0,1127.4 L1480.0,1127.4 L1482.0,1127.4 L1484.0,1127.4 L1486.0,1127.4 L1488.0,1127.4 L1490.0,1127.4 L1492.0,1127.4 L1494.0,1127.4 L1496.0,1127.4 L1498.0,1127.4 L1500.0,1127.4 L1502.0,1127.4 L1504.0,1127.4 L1506.0,1127.4 L1508.0,1127.4 L1510.0,1127.4 L1512.0,1127.4 L1514.0,1127.4 L1516.0,1127.4 L1518.0,1127.4 L1520.0,1127.4 L1522.0,1127.4" stroke="#000000" stroke-width="4.00"/>
<path d="M1518.0,1127.4 L1520.0,1127.4 L1522.0,1127.4 L1524.0,1127.4 L1526.0,1127.4 L1528.0,1127.4 L1530.0,1127.4 L1532.0,1127.4 L1534.0,1127.4 L1536.0,1127.4 L1538.0,1127.4 L1540.0,1127.4 L1542.0,1127.4 L1544.0,1127.4 L1546.0,1127.4 L1548.0,1127.4 L1550.0,1127.4 L1552.0,1127.4 L1554.0,1127.4 L1556.0,1127.4 L1558.0,1127.4 L1560.0,1127.4 L1562.0,1127.4 L1564.0,1127.4 L1566.0,1127.4 L1568.0,1127.3 L1570.0,1127.3 L1572.0,1127.2 L1574.0,1127.2 L1576.0,1127.2 L1578.0,1127.1 L1580.0,1127.1 L1582.0,1127.0" stroke="#000000" stroke-width="4.00"/>
<path d="M1578.0,1127.1 L1580.0,1127.1 L1582.0,1127.0 L1584.0,1127.0 L1586.0,1126.9 L1587.0,1126.9 L1588.0,1126.9 L1590.0,1126.8 L1592.0,1126.8 L1594.0,1126.8 L1596.0,1126.7 L1598.0,1126.7 L1600.0,1126.7 L1602.0,1126.7 L1604.0,1126.6 L1606.0,1126.6 L1608.0,1126.6 L1610.0,1126.5 L1612.0,1126.5 L1614.0,1126.5 L1616.0,1126.4 L1618.0,1126.4 L1620.0,1126.4 L1622.0,1126.3 L1624.0,1126.3 L1626.0,1126.3 L1628.0,1126.2 L1630.0,1126.2 L1632.0,1126.2 L1634.0,1126.1 L1636.0,1126.1 L1637.7,1126.0 L1638.0,1126.0 L1640.0,1126.0 L1642.0,1125.9 L1644.0,1125.9 L1646.0,1125.8 L1648.0,1125.8 L1650.0,1125.8 L1652.0,1125.7 L1654.0,1125.7 L1656.0,1125.6 L1658.0,1125.6 L1660.0,1125.5 L1662.0,1125.5 L1664.0,1125.4 L1666.0,1125.4 L1668.0,1125.3 L1670.0,1125.2 L1672.0,1125.2 L1674.0,1125.1 L1676.0,1125.1 L1678.0,1125.0 L1680.0,1124.9 L1682.0,1124.9 L1684.0,1124.8 L1686.0,1124.7 L1688.0,1124.7 L1690.0,1124.6 L1692.0,1124.5 L1694.0,1124.4 L1696.0,1124.3 L1698.0,1124.3 L1700.0,1124.2 L1702.0,1124.1 L1704.0,1124.0 L1706.0,1123.9 L1708.0,1123.8 L1710.0,1123.7 L1712.0,1123.6 L1713.8,1123.5 L1714.0,1123.5 L1716.0,1123.4 L1718.0,1123.2 L1720.0,1123.1 L1722.0,1122.9 L1724.0,1122.7 L1726.0,1122.5 L1728.0,1122.3 L1730.0,1122.1 L1732.0,1121.8 L1734.0,1121.6 L1736.0,1121.4 L1738.0,1121.1 L1739.2,1121.0 L1740.0,1120.9 L1742.0,1120.6 L1744.0,1120.4 L1746.0,1120.1 L1748.0,1119.8 L1750.0,1119.5 L1752.0,1119.1 L1754.0,1118.5 L1754.4,1118.4 L1756.0,1117.7 L1758.0,1116.2 L1760.0,1114.3 L1762.0,1112.3 L1762.0,1112.3 L1764.0,1110.3 L1766.0,1107.7 L1767.1,1105.7 L1768.0,1102.6 L1770.0,1090.9 L1771.1,1082.9 L1772.0,1075.5 L1774.0,1054.5 L1774.7,1047.4 L1776.0,1033.0 L1778.0,1010.3 L1778.7,1001.8 L1780.0,986.1 L1782.0,959.9 L1782.3,956.1 L1784.0,929.0 L1785.8,900.3 L1786.0,897.7 L1788.0,869.3 L1788.9,859.8 L1790.0,848.7 L1790.9,844.5 L1792.0,850.4 L1792.9,859.8 L1794.0,875.9 L1795.5,905.4 L1796.0,917.4 L1798.0,966.3 L1798.0,966.5 L1800.0,1016.1 L1800.5,1027.1 L1802.0,1053.6 L1803.1,1067.7 L1804.0,1076.9 L1806.0,1090.2 L1806.1,1090.5 L1808.0,1095.8 L1810.0,1099.6 L1812.0,1102.4 L1812.7,1103.2 L1814.0,1104.7 L1816.0,1106.6 L1818.0,1108.1 L1820.0,1109.6 L1820.3,1109.8 L1822.0,1111.0 L1824.0,1112.4 L1826.0,1113.7 L1828.0,1114.8 L1830.0,1115.7 L1830.4,1115.9 L1832.0,1116.4 L1834.0,1117.0 L1836.0,1117.5 L1838.0,1118.0 L1840.0,1118.3 L1840.6,1118.4 L1842.0,1118.6 L1844.0,1118.9 L1846.0,1119.2 L1848.0,1119.3 L1850.0,1119.4 L1850.7,1119.4 L1852.0,1119.4 L1854.0,1119.3 L1856.0,1119.0 L1858.0,1118.7 L1860.0,1118.3 L1862.0,1118.0 L1864.0,1117.6 L1866.0,1117.3 L1868.0,1117.1 L1870.0,1116.9 L1871.0,1116.9 L1872.0,1116.9 L1874.0,1117.1 L1876.0,1117.4 L1878.0,1117.7 L1880.0,1118.1 L1882.0,1118.6 L1884.0,1119.0 L1886.0,1119.4 L1886.2,1119.4 L1888.0,1119.8 L1890.0,1120.2 L1892.0,1120.6 L1894.0,1121.1 L1896.0,1121.4 L1898.0,1121.7 L1900.0,1121.9 L1901.5,1122.0 L1902.0,1122.0 L1904.0,1122.0 L1906.0,1122.0 L1908.0,1122.0 L1910.0,1122.0 L1912.0,1122.0 L1914.0,1122.0 L1916.0,1122.0 L1918.0,1122.0 L1920.0,1122.0 L1922.0,1122.0 L1924.0,1122.0 L1926.0,1122.0 L1928.0,1122.0 L1930.0,1122.0 L1932.0,1122.0 L1934.0,1122.0 L1936.0,1122.0 L1938.0,1122.0 L1940.0,1122.0 L1942.0,1122.0 L1942.0,1122.0 L1944.0,1121.9 L1946.0,1121.7 L1948.0,1121.4 L1950.0,1121.1 L1952.0,1120.7 L1954.0,1120.2 L1956.0,1119.7 L1957.2,1119.4 L1958.0,1119.3 L1960.0,1118.7 L1962.0,1118.0 L1964.0,1117.3 L1966.0,1116.5 L1967.4,1115.9 L1968.0,1115.6 L1970.0,1114.7 L1972.0,1113.6 L1974.0,1112.5 L1976.0,1111.3 L1977.5,1110.3 L1978.0,1110.0 L1980.0,1108.7 L1982.0,1107.4 L1984.0,1106.0 L1986.0,1104.5 L1987.7,1103.2 L1988.0,1103.0 L1990.0,1101.3 L1992.0,1099.6 L1994.0,1097.8 L1996.0,1095.9 L1997.8,1094.1 L1998.0,1093.9 L2000.0,1092.0 L2002.0,1090.0 L2004.0,1087.9 L2006.0,1085.6 L2008.0,1082.9 L2008.0,1082.9 L2010.0,1079.3 L2012.0,1075.0 L2014.0,1070.4 L2014.0,1070.2 L2016.0,1065.5 L2018.0,1060.4 L2018.1,1060.1 L2020.0,1055.3 L2022.0,1050.3 L2022.2,1050.0 L2024.0,1045.5 L2025.7,1042.3 L2026.0,1042.0 L2028.0,1040.1 L2030.0,1038.8 L2032.0,1037.4 L2033.3,1036.3 L2034.0,1035.6 L2036.0,1033.1 L2038.0,1030.4 L2040.0,1027.5 L2040.9,1026.1 L2042.0,1024.6 L2044.0,1021.6 L2046.0,1018.5 L2048.0,1015.3 L2048.5,1014.5 L2050.0,1012.0 L2052.0,1008.4 L2054.0,1004.7 L2056.0,1001.0 L2056.1,1000.8 L2058.0,997.4 L2060.0,993.7 L2062.0,990.0 L2063.8,986.6 L2064.0,986.1 L2066.0,981.7 L2068.0,977.3 L2069.8,973.9 L2070.0,973.6 L2072.0,970.8 L2073.9,968.8 L2074.0,968.7 L2076.0,967.5 L2078.0,966.6 L2079.0,966.3 L2080.0,965.9 L2082.0,965.5 L2084.0,964.8 L2084.0,964.7 L2086.0,963.0 L2088.0,960.3 L2088.1,960.2 L2090.0,956.6 L2091.6,953.6 L2092.0,953.1 L2094.0,950.6 L2096.0,948.3 L2098.0,946.7 L2099.3,946.0" stroke="#000000" stroke-width="4.00"/>
</g>
<rect x="432" y="32.5" width="1660" height="1196.5" fill="none" stroke="#000" stroke-width="4.8"/>
<path d="M432.0,1229v25.5 M524.2,1229v14 M616.4,1229v25.5 M708.7,1229v14 M800.9,1229v25.5 M893.1,1229v14 M985.3,1229v25.5 M1077.6,1229v14 M1169.8,1229v25.5 M1262.0,1229v14 M1354.2,1229v25.5 M1446.4,1229v14 M1538.7,1229v25.5 M1630.9,1229v14 M1723.1,1229v25.5 M1815.3,1229v14 M1907.6,1229v25.5 M1999.8,1229v14 M2092.0,1229v25.5" stroke="#000" stroke-width="4.5" fill="none"/>
<text transform="translate(369.66,1308.70) scale(1.0401,1)" font-family='"Liberation Sans", sans-serif' font-size="53.50" fill="#000">3200</text>
<text transform="translate(554.11,1308.70) scale(1.0401,1)" font-family='"Liberation Sans", sans-serif' font-size="53.50" fill="#000">3000</text>
<text transform="translate(737.84,1308.70) scale(1.0462,1)" font-family='"Liberation Sans", sans-serif' font-size="53.50" fill="#000">2800</text>
<text transform="translate(922.28,1308.70) scale(1.0462,1)" font-family='"Liberation Sans", sans-serif' font-size="53.50" fill="#000">2600</text>
<text transform="translate(1106.73,1308.70) scale(1.0462,1)" font-family='"Liberation Sans", sans-serif' font-size="53.50" fill="#000">2400</text>
<text transform="translate(1291.17,1308.70) scale(1.0462,1)" font-family='"Liberation Sans", sans-serif' font-size="53.50" fill="#000">2200</text>
<text transform="translate(1475.62,1308.70) scale(1.0462,1)" font-family='"Liberation Sans", sans-serif' font-size="53.50" fill="#000">2000</text>
<text transform="translate(1658.61,1308.70) scale(1.0586,1)" font-family='"Liberation Sans", sans-serif' font-size="53.50" fill="#000">1800</text>
<text transform="translate(1843.06,1308.70) scale(1.0586,1)" font-family='"Liberation Sans", sans-serif' font-size="53.50" fill="#000">1600</text>
<text transform="translate(2027.50,1308.70) scale(1.0586,1)" font-family='"Liberation Sans", sans-serif' font-size="53.50" fill="#000">1400</text>
<text transform="translate(960.35,1414.20) scale(1.0613,1)" font-family='"Liberation Sans", sans-serif' font-size="65.50" fill="#000">Wavenumber (cm</text>
<text transform="translate(1505.47,1390.20) scale(0.8922,1)" font-family='"Liberation Sans", sans-serif' font-size="43.00" fill="#000">-1</text>
<text transform="translate(1545.20,1414.20) scale(1.0140,1)" font-family='"Liberation Sans", sans-serif' font-size="65.50" fill="#000">)</text>
<text transform="translate(584.39,99.50) scale(1.0720,1)" font-family='"Liberation Sans", sans-serif' font-size="65.50" fill="#000">C-H</text>
<text transform="translate(1722.99,98.50) scale(1.0729,1)" font-family='"Liberation Sans", sans-serif' font-size="65.50" fill="#000">C=O</text>
<text transform="translate(1145.89,252.00) scale(1.0747,1)" font-family='"Liberation Sans", sans-serif' font-size="65.50" fill="#000">PS100</text>
<text transform="translate(1055.62,459.50) scale(1.0696,1)" font-family='"Liberation Sans", sans-serif' font-size="65.50" fill="#000">PS75PCL25</text>
<text transform="translate(1059.71,674.50) scale(1.0719,1)" font-family='"Liberation Sans", sans-serif' font-size="65.50" fill="#000">PS50PCL50</text>
<text transform="translate(1064.81,893.50) scale(1.0721,1)" font-family='"Liberation Sans", sans-serif' font-size="65.50" fill="#000">PS25PCL75</text>
<text transform="translate(1140.79,1095.00) scale(1.0754,1)" font-family='"Liberation Sans", sans-serif' font-size="65.50" fill="#000">PCL100</text>
<text transform="translate(458.95,139.39) scale(0.8600,0.6683)" font-family='"Liberation Serif", serif' font-size="100" fill="#000">ν</text>
<text transform="translate(496.32,160.85) scale(1.1226,1)" font-family='"Liberation Sans", sans-serif' font-size="45.00" fill="#000">aromatic</text>
<text transform="translate(766.82,139.39) scale(0.8363,0.6683)" font-family='"Liberation Serif", serif' font-size="100" fill="#000">ν</text>
<text transform="translate(803.14,162.88) scale(1.1365,1)" font-family='"Liberation Sans", sans-serif' font-size="45.00" fill="#000">aliphatic</text>
<line x1="522.8" y1="178.1" x2="568.3" y2="220.4" stroke="#000" stroke-width="4.8"/>
<polygon points="588.7,239.5 558.5,225.0 572.1,210.3" fill="#000"/>
<line x1="797.7" y1="180.6" x2="772.7" y2="223.9" stroke="#000" stroke-width="4.8"/>
<polygon points="758.7,248.1 766.0,215.4 783.3,225.4" fill="#000"/>
<text transform="translate(474.17,957.57) scale(0.8600,0.6683)" font-family='"Liberation Serif", serif' font-size="100" fill="#000">ν</text>
<text transform="translate(511.47,981.57) scale(1.1568,1)" font-family='"Liberation Sans", sans-serif' font-size="45.00" fill="#000">a(CH)</text>
<text transform="translate(803.84,961.62) scale(0.8600,0.6791)" font-family='"Liberation Serif", serif' font-size="100" fill="#000">ν</text>
<text transform="translate(841.95,985.12) scale(1.1394,1)" font-family='"Liberation Sans", sans-serif' font-size="45.00" fill="#000">s(CH)</text>
<line x1="550.2" y1="997.8" x2="628.4" y2="1050.6" stroke="#000" stroke-width="4.8"/>
<polygon points="651.6,1066.3 619.5,1056.7 630.7,1040.1" fill="#000"/>
<line x1="821.5" y1="990.2" x2="762.8" y2="1057.8" stroke="#000" stroke-width="4.8"/>
<polygon points="744.5,1079.0 757.9,1048.2 773.0,1061.4" fill="#000"/>
<text transform="translate(1862.61,982.21) scale(0.7719,0.6915)" font-family='"Liberation Serif", serif' font-size="100" fill="#000">ν</text>
<text transform="translate(1897.92,1003.38) scale(1.1186,1)" font-family='"Liberation Sans", sans-serif' font-size="45.00" fill="#000">C=O</text>
<line x1="1873.6" y1="995.3" x2="1827.7" y2="1040.1" stroke="#000" stroke-width="4.8"/>
<polygon points="1807.6,1059.7 1823.5,1030.2 1837.5,1044.5" fill="#000"/>
<text font-family='"Liberation Sans", sans-serif' font-size="80.00" fill="#000"><tspan x="22.80" y="1218.20" textLength="24.50" lengthAdjust="spacingAndGlyphs">(</tspan><tspan x="52.44" y="1221.10" textLength="37.47" lengthAdjust="spacingAndGlyphs">a</tspan><tspan x="102.18" y="1218.20" textLength="23.25" lengthAdjust="spacingAndGlyphs">)</tspan></text>
<clipPath id="clipb"><rect x="434" y="1658" width="1660" height="1197"/></clipPath>
<rect x="475.0" y="1658.0" width="328.2" height="1197.0" fill="#ffff7a"/>
<rect x="1706.8" y="1658.0" width="162.5" height="1197.0" fill="#c8c8c8"/>
<g clip-path="url(#clipb)" fill="none" stroke-linejoin="round" stroke-linecap="round">
<path d="M432.0,1901.0 L434.0,1901.0 L436.0,1901.1 L438.0,1901.2 L440.0,1901.3 L442.0,1901.3 L444.0,1901.4 L446.0,1901.4 L448.0,1901.5 L450.0,1901.5 L452.0,1901.6 L454.0,1901.6 L456.0,1901.7 L458.0,1901.7 L460.0,1901.7 L462.0,1901.8 L464.0,1901.8 L466.0,1901.8 L468.0,1901.8 L470.0,1901.9 L472.0,1901.9 L474.0,1901.9 L476.0,1901.9 L478.0,1901.9 L480.0,1901.9 L482.0,1901.9 L484.0,1902.0 L486.0,1902.0 L488.0,1902.0 L490.0,1902.0 L492.0,1902.0 L494.0,1902.0 L496.0,1902.0 L498.0,1902.0 L500.0,1902.0 L502.0,1902.0 L504.0,1902.0 L506.0,1902.0 L508.0,1902.0 L508.1,1902.0 L510.0,1901.9 L512.0,1901.8 L514.0,1901.6 L516.0,1901.3 L518.0,1901.0 L520.0,1900.6 L522.0,1900.1 L524.0,1899.6 L526.0,1899.1 L528.0,1898.5 L528.4,1898.4 L530.0,1897.8 L532.0,1896.7 L534.0,1895.5 L536.0,1894.4 L536.0,1894.4 L538.0,1893.1 L540.0,1892.0 L541.0,1891.8 L542.0,1892.2 L544.0,1894.1 L546.0,1895.4 L546.1,1895.4 L548.0,1895.1 L550.0,1894.3 L552.0,1893.2 L553.7,1892.3 L554.0,1892.2 L556.0,1891.0 L558.0,1889.6 L560.0,1888.5 L561.3,1888.3 L562.0,1888.4 L564.0,1889.2 L566.0,1890.5 L568.0,1891.8 L568.9,1892.3 L570.0,1892.9 L572.0,1893.9 L574.0,1895.0 L576.0,1895.8 L578.0,1896.3 L579.1,1896.4 L580.0,1896.2 L582.0,1894.3 L584.0,1891.3 L586.0,1887.9 L586.7,1886.8 L588.0,1884.0 L590.0,1878.6 L592.0,1874.1 L593.3,1873.1 L594.0,1873.4 L596.0,1876.5 L598.0,1881.4 L600.0,1886.1 L600.4,1886.8 L602.0,1889.9 L604.0,1893.8 L606.0,1896.5 L607.0,1896.9 L608.0,1896.8 L610.0,1896.2 L612.0,1895.2 L614.0,1894.2 L616.0,1893.5 L617.1,1893.4 L618.0,1893.5 L620.0,1894.3 L622.0,1895.5 L624.0,1896.3 L624.7,1896.4 L626.0,1896.3 L628.0,1895.7 L630.0,1894.8 L632.0,1894.0 L634.0,1893.4 L634.9,1893.4 L636.0,1893.4 L638.0,1893.8 L640.0,1894.4 L642.0,1895.0 L644.0,1895.3 L645.0,1895.4 L646.0,1895.4 L648.0,1895.3 L650.0,1895.1 L652.0,1894.9 L654.0,1894.6 L655.2,1894.4 L656.0,1894.2 L658.0,1893.5 L660.0,1892.4 L662.0,1891.2 L664.0,1889.7 L666.0,1888.2 L667.8,1886.8 L668.0,1886.6 L670.0,1884.9 L672.0,1882.7 L674.0,1880.4 L676.0,1878.2 L678.0,1876.1 L680.0,1874.4 L680.5,1874.1 L682.0,1873.1 L684.0,1871.9 L686.0,1871.0 L688.0,1870.5 L688.1,1870.5 L690.0,1871.0 L692.0,1872.4 L694.0,1874.2 L696.0,1876.0 L696.8,1876.6 L698.0,1877.6 L700.0,1879.3 L702.0,1881.1 L704.0,1882.9 L706.0,1884.6 L708.0,1886.2 L710.0,1887.7 L711.0,1888.3 L712.0,1888.9 L714.0,1890.0 L716.0,1891.1 L718.0,1892.1 L720.0,1893.0 L722.0,1893.9 L724.0,1894.7 L726.0,1895.3 L726.2,1895.4 L728.0,1896.0 L730.0,1896.6 L732.0,1897.3 L734.0,1897.8 L736.0,1898.2 L738.0,1898.4 L738.8,1898.4 L740.0,1898.3 L742.0,1897.7 L744.0,1896.8 L746.0,1895.7 L748.0,1894.7 L749.0,1894.4 L750.0,1894.0 L752.0,1893.3 L754.0,1892.7 L756.0,1892.4 L756.6,1892.3 L758.0,1892.6 L760.0,1893.7 L762.0,1895.3 L764.0,1896.8 L764.2,1896.9 L766.0,1898.2 L768.0,1899.9 L770.0,1901.3 L771.8,1902.0 L772.0,1902.0 L774.0,1902.2 L776.0,1902.5 L778.0,1902.6 L780.0,1902.8 L782.0,1902.9 L784.0,1903.1 L786.0,1903.2 L788.0,1903.2 L790.0,1903.3 L792.0,1903.4 L794.0,1903.4 L796.0,1903.5 L797.2,1903.5 L798.0,1903.5 L800.0,1903.6 L802.0,1903.6 L804.0,1903.6 L806.0,1903.7 L808.0,1903.7 L810.0,1903.7 L812.0,1903.8 L814.0,1903.8 L816.0,1903.8 L818.0,1903.8 L820.0,1903.8 L822.0,1903.9 L824.0,1903.9 L826.0,1903.9 L828.0,1903.9 L830.0,1903.9 L832.0,1904.0 L834.0,1904.0 L836.0,1904.0 L837.7,1904.0 L838.0,1904.0 L840.0,1904.0 L842.0,1904.1 L844.0,1904.1 L846.0,1904.1 L848.0,1904.1 L850.0,1904.1 L852.0,1904.2 L854.0,1904.2 L856.0,1904.2 L858.0,1904.2 L860.0,1904.2 L862.0,1904.3 L864.0,1904.3 L866.0,1904.3 L868.0,1904.3 L870.0,1904.3 L872.0,1904.3 L874.0,1904.4 L876.0,1904.4 L878.0,1904.4 L880.0,1904.4 L882.0,1904.4 L884.0,1904.5 L886.0,1904.5 L888.0,1904.5 L890.0,1904.5 L892.0,1904.5 L894.0,1904.6 L896.0,1904.6 L898.0,1904.6 L900.0,1904.6 L902.0,1904.6" stroke="#008c00" stroke-width="5.10"/>
<path d="M898.0,1904.6 L900.0,1904.6 L902.0,1904.6 L904.0,1904.6 L906.0,1904.7 L908.0,1904.7 L910.0,1904.7 L912.0,1904.7 L914.0,1904.7 L916.0,1904.8 L918.0,1904.8 L920.0,1904.8 L922.0,1904.8 L924.0,1904.8 L926.0,1904.8 L928.0,1904.9 L930.0,1904.9 L932.0,1904.9 L934.0,1904.9 L936.0,1904.9 L938.0,1904.9 L940.0,1905.0 L942.0,1905.0 L944.0,1905.0 L946.0,1905.0 L948.0,1905.0 L950.0,1905.0 L952.0,1905.1 L954.0,1905.1 L956.0,1905.1 L958.0,1905.1 L960.0,1905.2 L962.0,1905.2 L964.0,1905.2 L966.0,1905.2 L968.0,1905.3 L970.0,1905.3 L972.0,1905.3 L974.0,1905.3 L976.0,1905.4 L978.0,1905.4 L980.0,1905.4 L982.0,1905.4 L984.0,1905.5 L986.0,1905.5 L988.0,1905.5 L990.0,1905.5 L992.0,1905.5 L994.0,1905.6 L996.0,1905.6 L998.0,1905.6 L1000.0,1905.6 L1002.0,1905.7" stroke="#008c00" stroke-width="4.72"/>
<path d="M998.0,1905.6 L1000.0,1905.6 L1002.0,1905.7 L1004.0,1905.7 L1006.0,1905.7 L1008.0,1905.7 L1010.0,1905.8 L1012.0,1905.8 L1014.0,1905.8 L1016.0,1905.8 L1018.0,1905.8 L1020.0,1905.9 L1022.0,1905.9 L1024.0,1905.9 L1026.0,1905.9 L1028.0,1905.9 L1030.0,1906.0 L1032.0,1906.0 L1034.0,1906.0 L1036.0,1906.0 L1038.0,1906.0 L1040.0,1906.1 L1042.0,1906.1 L1044.0,1906.1 L1046.0,1906.1 L1048.0,1906.1 L1050.0,1906.2 L1052.0,1906.2 L1054.0,1906.2 L1056.0,1906.2 L1058.0,1906.2 L1060.0,1906.3 L1062.0,1906.3 L1064.0,1906.3 L1066.0,1906.3 L1068.0,1906.3 L1070.0,1906.4 L1072.0,1906.4 L1074.0,1906.4 L1076.0,1906.4 L1078.0,1906.4 L1080.0,1906.5 L1082.0,1906.5 L1084.0,1906.5 L1086.0,1906.5 L1088.0,1906.5 L1090.0,1906.5 L1092.0,1906.5 L1094.0,1906.5 L1096.0,1906.5 L1098.0,1906.5 L1100.0,1906.5 L1102.0,1906.5 L1104.0,1906.6 L1106.0,1906.6 L1108.0,1906.6 L1110.0,1906.6 L1112.0,1906.6 L1114.0,1906.6 L1116.0,1906.6 L1118.0,1906.6 L1120.0,1906.6 L1122.0,1906.6 L1124.0,1906.6 L1126.0,1906.6 L1128.0,1906.7 L1130.0,1906.7 L1132.0,1906.7 L1134.0,1906.7 L1136.0,1906.7 L1138.0,1906.7 L1140.0,1906.7 L1142.0,1906.7 L1144.0,1906.7 L1146.0,1906.7 L1148.0,1906.7 L1150.0,1906.7 L1152.0,1906.8 L1154.0,1906.8 L1156.0,1906.8 L1158.0,1906.8 L1160.0,1906.8 L1162.0,1906.8 L1164.0,1906.8 L1166.0,1906.8 L1168.0,1906.8 L1170.0,1906.8 L1172.0,1906.8 L1174.0,1906.8 L1176.0,1906.8 L1178.0,1906.8 L1180.0,1906.8 L1182.0,1906.8 L1184.0,1906.8 L1186.0,1906.8 L1188.0,1906.8 L1190.0,1906.8 L1192.0,1906.8 L1194.0,1906.8 L1196.0,1906.8 L1198.0,1906.8 L1200.0,1906.8 L1202.0,1906.8 L1204.0,1905.5 L1205.0,1905.0 L1206.0,1905.5 L1208.0,1906.8 L1210.0,1906.9 L1212.0,1906.9 L1214.0,1906.9 L1216.0,1906.9 L1218.0,1906.9 L1220.0,1906.9 L1222.0,1906.9 L1224.0,1906.9 L1226.0,1906.9 L1228.0,1906.9 L1230.0,1906.9 L1232.0,1906.9 L1234.0,1906.9 L1236.0,1906.9 L1238.0,1906.9 L1240.0,1906.9 L1242.0,1906.9 L1244.0,1906.9 L1246.0,1907.0 L1248.0,1907.0 L1250.0,1907.0 L1252.0,1907.0 L1254.0,1907.0 L1256.0,1907.0 L1258.0,1907.0 L1260.0,1907.0 L1262.0,1907.0 L1264.0,1907.0 L1266.0,1907.0 L1268.0,1907.0 L1270.0,1907.0 L1272.0,1907.0 L1274.0,1907.0 L1276.0,1907.0 L1278.0,1907.0 L1280.0,1907.0 L1282.0,1907.0 L1284.0,1907.0 L1286.0,1907.0 L1288.0,1907.0 L1290.0,1907.0 L1292.0,1907.0 L1294.0,1907.0 L1296.0,1907.0 L1298.0,1907.0 L1300.0,1907.0 L1302.0,1907.0 L1304.0,1907.0 L1306.0,1907.0 L1308.0,1907.0 L1310.0,1907.0 L1312.0,1907.0 L1314.0,1907.0 L1316.0,1907.0 L1318.0,1907.0 L1320.0,1907.0 L1322.0,1907.0 L1324.0,1907.0 L1326.0,1907.0 L1328.0,1907.0 L1330.0,1907.0 L1332.0,1907.0 L1334.0,1907.0 L1336.0,1907.0 L1338.0,1907.0 L1340.0,1907.0 L1342.0,1907.0 L1344.0,1907.0 L1346.0,1907.0 L1348.0,1907.0 L1350.0,1907.0 L1352.0,1907.0 L1354.0,1907.0 L1356.0,1907.0 L1358.0,1907.0 L1360.0,1907.0 L1362.0,1907.0 L1364.0,1907.0 L1366.0,1907.0 L1368.0,1907.0 L1370.0,1907.0 L1372.0,1907.0 L1374.0,1907.0 L1376.0,1907.0 L1378.0,1907.0 L1380.0,1907.0 L1382.0,1907.0 L1384.0,1905.2 L1385.0,1904.5 L1386.0,1905.2 L1388.0,1907.0 L1390.0,1907.0 L1392.0,1907.0 L1394.0,1907.0 L1396.0,1907.0 L1398.0,1907.0 L1400.0,1907.0 L1402.0,1907.0 L1404.0,1907.0 L1406.0,1907.0 L1408.0,1907.0 L1410.0,1907.0 L1412.0,1907.0 L1414.0,1907.0 L1416.0,1907.0 L1418.0,1907.0 L1420.0,1907.0 L1422.0,1907.0 L1424.0,1907.0 L1426.0,1907.0 L1428.0,1907.0 L1430.0,1907.0 L1432.0,1907.0 L1434.0,1907.0 L1436.0,1907.0 L1438.0,1906.9 L1440.0,1906.9 L1442.0,1906.9 L1444.0,1906.9 L1446.0,1906.9 L1448.0,1906.9 L1450.0,1906.9 L1452.0,1906.9 L1454.0,1906.9 L1456.0,1906.9 L1458.0,1906.9 L1460.0,1906.8 L1462.0,1906.8 L1464.0,1906.8 L1466.0,1906.8 L1468.0,1906.8 L1470.0,1906.8 L1472.0,1906.8 L1474.0,1906.8 L1476.0,1906.7 L1478.0,1906.7 L1480.0,1906.7 L1482.0,1906.7 L1484.0,1906.7 L1486.0,1906.7 L1488.0,1906.7 L1490.0,1906.6 L1492.0,1906.6 L1494.0,1906.6 L1496.0,1906.6 L1498.0,1906.6 L1500.0,1906.6 L1502.0,1906.5 L1504.0,1906.5 L1506.0,1906.5 L1508.0,1906.5 L1510.0,1906.5 L1512.0,1906.5 L1514.0,1906.4 L1516.0,1906.4 L1518.0,1906.4 L1520.0,1906.4 L1522.0,1906.4" stroke="#008c00" stroke-width="4.33"/>
<path d="M1518.0,1906.4 L1520.0,1906.4 L1522.0,1906.4 L1524.0,1906.3 L1526.0,1906.3 L1528.0,1906.3 L1530.0,1906.3 L1532.0,1906.3 L1534.0,1906.2 L1536.0,1906.2 L1538.0,1906.2 L1540.0,1906.2 L1542.0,1906.2 L1544.0,1906.1 L1546.0,1906.1 L1548.0,1906.1 L1550.0,1906.0 L1552.0,1906.0 L1554.0,1906.0 L1556.0,1905.9 L1558.0,1905.9 L1560.0,1905.9 L1562.0,1905.8 L1564.0,1905.8 L1566.0,1905.7 L1568.0,1905.6 L1570.0,1905.6 L1572.0,1905.5 L1574.0,1905.4 L1576.0,1905.4 L1578.0,1905.3 L1580.0,1905.2 L1582.0,1905.2" stroke="#008c00" stroke-width="4.72"/>
<path d="M1578.0,1905.3 L1580.0,1905.2 L1582.0,1905.2 L1584.0,1905.1 L1586.0,1905.0 L1588.0,1904.9 L1589.0,1904.9 L1590.0,1904.9 L1592.0,1904.8 L1594.0,1904.8 L1596.0,1904.7 L1598.0,1904.6 L1600.0,1904.6 L1602.0,1904.5 L1604.0,1904.4 L1606.0,1904.4 L1608.0,1904.3 L1610.0,1904.2 L1612.0,1904.1 L1614.0,1904.1 L1616.0,1904.0 L1618.0,1903.9 L1619.4,1903.8 L1620.0,1903.8 L1622.0,1903.7 L1624.0,1903.6 L1626.0,1903.5 L1628.0,1903.4 L1630.0,1903.2 L1632.0,1903.1 L1634.0,1903.0 L1636.0,1902.8 L1638.0,1902.7 L1640.0,1902.6 L1642.0,1902.4 L1644.0,1902.3 L1646.0,1902.2 L1648.0,1902.1 L1650.0,1902.0 L1652.0,1901.9 L1654.0,1901.8 L1656.0,1901.8 L1658.0,1901.8 L1660.0,1901.8 L1660.0,1901.8 L1662.0,1901.8 L1664.0,1902.0 L1666.0,1902.2 L1668.0,1902.4 L1670.0,1902.7 L1672.0,1903.0 L1674.0,1903.3 L1676.0,1903.5 L1678.0,1903.7 L1680.0,1903.8 L1680.3,1903.8 L1682.0,1903.8 L1684.0,1903.7 L1686.0,1903.6 L1688.0,1903.5 L1690.0,1903.4 L1692.0,1903.3 L1694.0,1903.1 L1696.0,1902.9 L1698.0,1902.8 L1700.0,1902.6 L1702.0,1902.4 L1704.0,1902.3 L1706.0,1902.1 L1708.0,1902.0 L1710.0,1901.9 L1712.0,1901.8 L1714.0,1901.8 L1715.8,1901.8 L1716.0,1901.8 L1718.0,1901.8 L1720.0,1901.9 L1722.0,1902.0 L1724.0,1902.1 L1726.0,1902.3 L1728.0,1902.5 L1730.0,1902.6 L1732.0,1902.8 L1734.0,1903.0 L1736.0,1903.1 L1738.0,1903.2 L1740.0,1903.3 L1741.2,1903.3 L1742.0,1903.3 L1744.0,1903.3 L1746.0,1903.3 L1748.0,1903.3 L1750.0,1903.3 L1752.0,1903.3 L1754.0,1903.3 L1756.0,1903.3 L1758.0,1903.2 L1760.0,1903.2 L1762.0,1903.2 L1764.0,1903.2 L1766.0,1903.2 L1768.0,1903.2 L1770.0,1903.2 L1772.0,1903.2 L1774.0,1903.2 L1776.0,1903.2 L1778.0,1903.2 L1780.0,1903.1 L1782.0,1903.1 L1784.0,1903.1 L1786.0,1903.1 L1788.0,1903.1 L1790.0,1903.1 L1792.0,1903.0 L1794.0,1903.0 L1796.0,1903.0 L1798.0,1903.0 L1800.0,1903.0 L1802.0,1902.9 L1804.0,1902.9 L1806.0,1902.9 L1808.0,1902.9 L1810.0,1902.9 L1812.0,1902.8 L1814.0,1902.8 L1816.0,1902.8 L1817.2,1902.8 L1818.0,1902.8 L1820.0,1902.7 L1822.0,1902.6 L1824.0,1902.6 L1826.0,1902.5 L1828.0,1902.3 L1830.0,1902.2 L1832.0,1902.1 L1834.0,1901.9 L1836.0,1901.8 L1838.0,1901.6 L1840.0,1901.4 L1842.0,1901.3 L1844.0,1901.1 L1846.0,1900.9 L1848.0,1900.7 L1850.0,1900.6 L1852.0,1900.4 L1854.0,1900.3 L1856.0,1900.1 L1858.0,1900.0 L1860.0,1899.9 L1862.0,1899.8 L1862.9,1899.7 L1864.0,1899.7 L1866.0,1899.6 L1868.0,1899.5 L1870.0,1899.5 L1872.0,1899.5 L1874.0,1899.4 L1876.0,1899.4 L1878.0,1899.3 L1880.0,1899.3 L1882.0,1899.3 L1884.0,1899.2 L1886.0,1899.1 L1888.0,1899.0 L1890.0,1898.9 L1892.0,1898.8 L1893.3,1898.7 L1894.0,1898.6 L1896.0,1897.9 L1898.0,1896.7 L1900.0,1895.3 L1900.9,1894.7 L1902.0,1893.5 L1904.0,1890.6 L1906.0,1887.9 L1907.5,1887.0 L1908.0,1887.2 L1910.0,1889.4 L1912.0,1892.7 L1913.6,1894.7 L1914.0,1894.9 L1916.0,1896.3 L1918.0,1897.1 L1918.7,1897.2 L1920.0,1896.9 L1922.0,1896.1 L1923.7,1895.7 L1924.0,1895.7 L1926.0,1896.5 L1928.0,1898.1 L1930.0,1899.4 L1931.3,1899.7 L1932.0,1899.7 L1934.0,1899.7 L1936.0,1899.7 L1938.0,1899.7 L1940.0,1899.7 L1942.0,1899.7 L1944.0,1899.7 L1944.0,1899.7 L1946.0,1899.6 L1948.0,1899.4 L1950.0,1899.1 L1952.0,1898.6 L1954.0,1898.1 L1956.0,1897.6 L1958.0,1897.0 L1959.2,1896.7 L1960.0,1896.5 L1962.0,1895.9 L1964.0,1895.2 L1966.0,1894.4 L1968.0,1893.6 L1970.0,1892.7 L1972.0,1891.8 L1974.0,1890.8 L1974.5,1890.6 L1976.0,1889.8 L1978.0,1888.6 L1980.0,1887.4 L1982.0,1886.0 L1984.0,1884.5 L1986.0,1882.9 L1987.1,1882.0 L1988.0,1881.2 L1990.0,1879.2 L1992.0,1877.0 L1994.0,1874.4 L1994.7,1873.4 L1996.0,1871.5 L1998.0,1868.3 L2000.0,1864.0 L2000.8,1861.7 L2002.0,1856.3 L2004.0,1843.2 L2004.9,1838.9 L2006.0,1834.6 L2007.9,1830.2 L2008.0,1830.2 L2010.0,1836.1 L2011.0,1839.9 L2012.0,1843.7 L2014.0,1849.0 L2014.0,1849.0 L2016.0,1848.1 L2018.0,1845.8 L2020.0,1843.1 L2020.1,1842.9 L2022.0,1840.0 L2024.0,1836.0 L2026.0,1831.5 L2028.0,1826.6 L2030.0,1821.7 L2030.3,1821.1 L2032.0,1817.1 L2034.0,1812.4 L2036.0,1807.0 L2037.9,1800.8 L2038.0,1800.3 L2040.0,1788.2 L2041.9,1778.0 L2042.0,1777.8 L2044.0,1772.3 L2046.0,1769.9 L2046.0,1769.9 L2048.0,1771.8 L2049.5,1773.9 L2050.0,1774.5 L2052.0,1777.4 L2053.1,1778.0 L2054.0,1777.8 L2056.0,1776.3 L2058.0,1773.8 L2060.0,1771.2 L2060.7,1770.4 L2062.0,1768.8 L2064.0,1766.2 L2066.0,1763.4 L2068.0,1760.6 L2070.0,1757.8 L2070.8,1756.7 L2072.0,1755.1 L2074.0,1752.5 L2076.0,1749.9 L2078.0,1747.2 L2080.0,1744.6 L2082.0,1742.0 L2083.5,1740.0 L2084.0,1739.3 L2086.0,1736.6 L2088.0,1733.8 L2090.0,1731.1 L2092.0,1728.4 L2093.6,1726.3 L2094.0,1725.8 L2096.0,1723.3 L2098.0,1720.9 L2100.0,1718.6 L2101.3,1717.1" stroke="#008c00" stroke-width="5.10"/>
<path d="M430.0,2098.7 L432.0,2098.8 L434.0,2098.9 L436.0,2099.0 L438.0,2099.1 L440.0,2099.2 L442.0,2099.3 L444.0,2099.4 L446.0,2099.5 L448.0,2099.6 L450.0,2099.7 L452.0,2099.8 L454.0,2099.9 L456.0,2100.0 L458.0,2100.0 L460.0,2100.1 L462.0,2100.2 L464.0,2100.2 L466.0,2100.3 L468.0,2100.3 L470.0,2100.4 L472.0,2100.4 L474.0,2100.5 L476.0,2100.5 L478.0,2100.6 L480.0,2100.6 L482.0,2100.6 L484.0,2100.6 L486.0,2100.7 L488.0,2100.7 L490.0,2100.7 L492.0,2100.7 L494.0,2100.7 L495.9,2100.7 L496.0,2100.7 L498.0,2100.7 L500.0,2100.7 L502.0,2100.7 L504.0,2100.7 L506.0,2100.7 L508.0,2100.6 L510.0,2100.6 L512.0,2100.6 L514.0,2100.5 L516.0,2100.5 L518.0,2100.5 L520.0,2100.4 L522.0,2100.4 L524.0,2100.3 L526.0,2100.3 L528.0,2100.2 L528.9,2100.2 L530.0,2100.2 L532.0,2100.1 L534.0,2099.9 L536.0,2099.8 L536.5,2099.7 L538.0,2099.1 L540.0,2097.4 L542.0,2096.2 L542.6,2096.1 L544.0,2096.3 L546.0,2096.8 L548.0,2097.4 L550.0,2098.0 L551.7,2098.2 L552.0,2098.2 L554.0,2097.8 L556.0,2097.0 L558.0,2096.1 L560.0,2095.2 L562.0,2094.7 L562.9,2094.6 L564.0,2094.8 L566.0,2095.5 L568.0,2096.7 L570.0,2097.8 L571.0,2098.2 L572.0,2098.5 L574.0,2099.3 L576.0,2099.9 L578.0,2100.2 L578.1,2100.2 L580.0,2099.7 L582.0,2098.5 L584.0,2096.9 L586.0,2095.3 L586.2,2095.1 L588.0,2093.5 L590.0,2091.5 L592.0,2089.9 L593.3,2089.5 L594.0,2089.7 L596.0,2091.0 L598.0,2092.9 L599.4,2094.1 L600.0,2094.6 L602.0,2096.3 L604.0,2097.8 L605.5,2098.2 L606.0,2098.2 L608.0,2098.0 L610.0,2097.7 L612.0,2097.3 L614.0,2096.9 L616.0,2096.5 L618.0,2096.3 L620.0,2096.1 L620.2,2096.1 L622.0,2096.2 L624.0,2096.2 L626.0,2096.3 L628.0,2096.5 L630.0,2096.6 L632.0,2096.8 L634.0,2096.9 L636.0,2097.0 L638.0,2097.1 L640.0,2097.2 L640.5,2097.2 L642.0,2097.0 L644.0,2096.3 L646.0,2095.3 L648.0,2094.1 L650.0,2092.7 L652.0,2091.4 L654.0,2090.3 L655.7,2089.5 L656.0,2089.4 L658.0,2088.8 L660.0,2088.4 L662.0,2087.9 L664.0,2087.5 L666.0,2086.9 L668.0,2086.2 L668.4,2086.0 L670.0,2085.0 L672.0,2083.4 L674.0,2081.4 L674.5,2080.9 L676.0,2079.0 L678.0,2076.0 L679.5,2074.3 L680.0,2074.0 L682.0,2072.5 L684.0,2071.3 L686.0,2070.5 L687.7,2070.3 L688.0,2070.3 L690.0,2071.3 L692.0,2073.2 L693.7,2074.8 L694.0,2075.1 L696.0,2077.0 L698.0,2079.2 L700.0,2081.5 L701.3,2083.0 L702.0,2083.7 L704.0,2086.0 L706.0,2088.3 L708.0,2090.3 L709.0,2091.1 L710.0,2091.8 L712.0,2092.9 L714.0,2093.9 L716.0,2094.9 L716.6,2095.1 L718.0,2095.8 L720.0,2096.9 L722.0,2097.8 L724.0,2098.2 L724.2,2098.2 L726.0,2098.2 L728.0,2098.1 L730.0,2098.0 L732.0,2097.9 L734.0,2097.7 L736.0,2097.5 L738.0,2097.3 L739.4,2097.2 L740.0,2097.0 L742.0,2096.3 L744.0,2095.2 L746.0,2094.1 L747.0,2093.6 L748.0,2093.1 L750.0,2091.9 L752.0,2090.9 L753.6,2090.6 L754.0,2090.6 L756.0,2091.5 L758.0,2093.1 L758.7,2093.6 L760.0,2094.8 L762.0,2096.9 L764.0,2099.0 L764.7,2099.7 L766.0,2100.7 L768.0,2102.4 L770.0,2103.8 L772.0,2104.7 L772.3,2104.8 L774.0,2105.1 L776.0,2105.5 L778.0,2105.8 L780.0,2106.1 L782.0,2106.3 L784.0,2106.5 L786.0,2106.7 L788.0,2106.9 L790.0,2107.0 L792.0,2107.1 L794.0,2107.2 L795.2,2107.3 L796.0,2107.3 L798.0,2107.4 L800.0,2107.5 L802.0,2107.6 L804.0,2107.7 L806.0,2107.8 L808.0,2107.9 L810.0,2108.0 L812.0,2108.1 L814.0,2108.2 L816.0,2108.2 L818.0,2108.3 L820.0,2108.4 L822.0,2108.5 L824.0,2108.5 L826.0,2108.6 L828.0,2108.7 L830.0,2108.7 L832.0,2108.8 L834.0,2108.8 L836.0,2108.9 L838.0,2109.0 L840.0,2109.0 L842.0,2109.1 L844.0,2109.1 L846.0,2109.2 L848.0,2109.2 L850.0,2109.3 L852.0,2109.3 L854.0,2109.3 L856.0,2109.4 L858.0,2109.4 L860.0,2109.5 L862.0,2109.5 L864.0,2109.5 L866.0,2109.6 L868.0,2109.6 L870.0,2109.6 L872.0,2109.7 L874.0,2109.7 L876.0,2109.7 L878.0,2109.8 L880.0,2109.8 L881.4,2109.8 L882.0,2109.8 L884.0,2109.9 L886.0,2109.9 L888.0,2109.9 L890.0,2110.0 L892.0,2110.0 L894.0,2110.0 L896.0,2110.1 L898.0,2110.1 L900.0,2110.1 L902.0,2110.1" stroke="#ff00ff" stroke-width="5.20"/>
<path d="M898.0,2110.1 L900.0,2110.1 L902.0,2110.1 L904.0,2110.2 L906.0,2110.2 L908.0,2110.2 L910.0,2110.3 L912.0,2110.3 L914.0,2110.3 L916.0,2110.3 L918.0,2110.4 L920.0,2110.4 L922.0,2110.4 L924.0,2110.4 L926.0,2110.5 L928.0,2110.5 L930.0,2110.5 L932.0,2110.5 L934.0,2110.6 L936.0,2110.6 L938.0,2110.6 L940.0,2110.6 L942.0,2110.6 L944.0,2110.7 L946.0,2110.7 L948.0,2110.7 L950.0,2110.7 L952.0,2110.8 L954.0,2110.8 L956.0,2110.8 L958.0,2110.8 L960.0,2110.8 L962.0,2110.9 L964.0,2110.9 L966.0,2110.9 L968.0,2110.9 L970.0,2110.9 L972.0,2111.0 L974.0,2111.0 L976.0,2111.0 L978.0,2111.0 L980.0,2111.0 L982.0,2111.1 L984.0,2111.1 L986.0,2111.1 L988.0,2111.1 L990.0,2111.1 L992.0,2111.2 L994.0,2111.2 L996.0,2111.2 L998.0,2111.2 L1000.0,2111.2 L1002.0,2111.2" stroke="#ff00ff" stroke-width="4.81"/>
<path d="M998.0,2111.2 L1000.0,2111.2 L1002.0,2111.2 L1004.0,2111.3 L1006.0,2111.3 L1008.0,2111.3 L1010.0,2111.3 L1012.0,2111.3 L1014.0,2111.3 L1016.0,2111.3 L1018.0,2111.4 L1020.0,2111.4 L1022.0,2111.4 L1024.0,2111.4 L1026.0,2111.4 L1028.0,2111.4 L1030.0,2111.4 L1032.0,2111.5 L1034.0,2111.5 L1036.0,2111.5 L1038.0,2111.5 L1040.0,2111.5 L1042.0,2111.5 L1044.0,2111.5 L1046.0,2111.5 L1048.0,2111.6 L1050.0,2111.6 L1052.0,2111.6 L1054.0,2111.6 L1056.0,2111.6 L1058.0,2111.6 L1060.0,2111.6 L1062.0,2111.6 L1064.0,2111.6 L1066.0,2111.6 L1068.0,2111.7 L1070.0,2111.7 L1072.0,2111.7 L1074.0,2111.7 L1076.0,2111.7 L1078.0,2111.7 L1080.0,2111.7 L1082.0,2111.7 L1084.0,2111.7 L1086.0,2111.7 L1088.0,2111.7 L1090.0,2111.8 L1092.0,2111.8 L1094.0,2111.8 L1096.0,2111.8 L1098.0,2111.8 L1100.0,2111.8 L1102.0,2111.8 L1104.0,2111.8 L1106.0,2111.8 L1108.0,2111.8 L1110.0,2111.8 L1112.0,2111.8 L1114.0,2111.9 L1116.0,2111.9 L1118.0,2111.9 L1120.0,2111.9 L1122.0,2111.9 L1124.0,2111.9 L1126.0,2111.9 L1128.0,2111.9 L1130.0,2111.9 L1132.0,2111.9 L1134.0,2111.9 L1136.0,2111.9 L1138.0,2111.9 L1140.0,2111.9 L1142.0,2111.9 L1144.0,2111.9 L1146.0,2111.9 L1148.0,2111.9 L1150.0,2111.9 L1152.0,2112.0 L1154.0,2112.0 L1156.0,2112.0 L1158.0,2112.0 L1160.0,2112.0 L1162.0,2112.0 L1164.0,2112.0 L1166.0,2112.0 L1168.0,2112.1 L1170.0,2112.1 L1172.0,2112.1 L1174.0,2112.1 L1176.0,2112.1 L1178.0,2112.2 L1180.0,2112.2 L1182.0,2112.2 L1184.0,2112.2 L1186.0,2112.3 L1188.0,2112.3 L1190.0,2114.2 L1191.0,2114.8 L1192.0,2114.5 L1194.0,2113.2 L1195.0,2112.8 L1196.0,2112.7 L1198.0,2112.6 L1200.0,2112.5 L1202.0,2112.4 L1204.0,2112.3 L1206.0,2112.3 L1208.0,2112.2 L1210.0,2112.2 L1212.0,2112.1 L1214.0,2112.1 L1216.0,2112.1 L1218.0,2112.0 L1220.0,2112.0 L1222.0,2112.0 L1224.0,2111.9 L1226.0,2111.9 L1228.0,2111.9 L1230.0,2111.8 L1232.0,2111.7 L1234.0,2111.7 L1236.0,2111.6 L1238.0,2111.5 L1240.0,2111.4 L1242.0,2111.3 L1244.0,2111.2 L1246.0,2111.1 L1248.0,2111.1 L1250.0,2111.0 L1252.0,2110.9 L1254.0,2110.9 L1256.0,2110.8 L1258.0,2110.8 L1260.0,2110.8 L1262.0,2110.8 L1264.0,2110.9 L1266.0,2110.9 L1268.0,2111.0 L1270.0,2111.2 L1272.0,2111.3 L1274.0,2111.4 L1276.0,2111.6 L1278.0,2111.7 L1280.0,2111.9 L1282.0,2112.0 L1284.0,2112.1 L1286.0,2112.2 L1288.0,2112.3 L1290.0,2112.3 L1292.0,2112.3 L1294.0,2112.3 L1296.0,2112.4 L1298.0,2112.4 L1300.0,2112.4 L1302.0,2112.4 L1304.0,2112.4 L1306.0,2112.5 L1308.0,2112.5 L1310.0,2112.5 L1312.0,2112.5 L1314.0,2112.5 L1316.0,2112.6 L1318.0,2112.6 L1320.0,2112.6 L1322.0,2112.6 L1324.0,2112.6 L1326.0,2112.6 L1328.0,2112.7 L1330.0,2112.7 L1332.0,2112.7 L1334.0,2112.7 L1336.0,2112.7 L1338.0,2112.7 L1340.0,2112.8 L1342.0,2112.8 L1344.0,2112.8 L1346.0,2112.8 L1348.0,2112.8 L1350.0,2112.8 L1352.0,2112.8 L1354.0,2112.9 L1356.0,2112.9 L1358.0,2112.9 L1360.0,2112.9 L1362.0,2112.9 L1364.0,2112.9 L1366.0,2112.9 L1368.0,2112.9 L1370.0,2113.0 L1372.0,2113.0 L1374.0,2113.0 L1376.0,2113.0 L1378.0,2113.0 L1380.0,2113.0 L1382.0,2113.0 L1384.0,2113.0 L1386.0,2113.0 L1388.0,2113.1 L1390.0,2113.1 L1392.0,2113.1 L1394.0,2113.1 L1396.0,2113.1 L1398.0,2113.1 L1400.0,2113.1 L1402.0,2113.1 L1404.0,2113.1 L1406.0,2113.1 L1408.0,2113.1 L1410.0,2113.1 L1412.0,2113.2 L1414.0,2113.2 L1416.0,2113.2 L1418.0,2113.2 L1420.0,2113.2 L1422.0,2113.2 L1424.0,2113.2 L1426.0,2113.2 L1428.0,2113.2 L1430.0,2113.2 L1432.0,2113.2 L1434.0,2113.2 L1436.0,2113.2 L1438.0,2113.2 L1440.0,2113.2 L1442.0,2113.2 L1444.0,2113.2 L1446.0,2113.2 L1448.0,2113.3 L1450.0,2113.3 L1452.0,2113.3 L1454.0,2113.3 L1456.0,2113.3 L1458.0,2113.3 L1460.0,2113.3 L1462.0,2113.3 L1464.0,2113.3 L1466.0,2113.3 L1468.0,2113.3 L1470.0,2113.3 L1472.0,2113.3 L1474.0,2113.3 L1476.0,2113.3 L1478.0,2113.3 L1480.0,2113.3 L1482.0,2113.3 L1484.0,2113.3 L1486.0,2113.3 L1488.0,2113.3 L1490.0,2113.3 L1492.0,2113.3 L1494.0,2113.3 L1496.0,2113.3 L1498.0,2113.3 L1500.0,2113.3 L1502.0,2113.3 L1504.0,2113.3 L1506.0,2113.3 L1508.0,2113.3 L1510.0,2113.3 L1512.0,2113.3 L1514.0,2113.3 L1516.0,2113.3 L1518.0,2113.2 L1520.0,2113.2 L1522.0,2113.2" stroke="#ff00ff" stroke-width="4.42"/>
<path d="M1518.0,2113.2 L1520.0,2113.2 L1522.0,2113.2 L1524.0,2113.2 L1526.0,2113.2 L1528.0,2113.2 L1530.0,2113.2 L1532.0,2113.1 L1534.0,2113.1 L1536.0,2113.1 L1538.0,2113.1 L1540.0,2113.1 L1542.0,2113.1 L1544.0,2113.0 L1546.0,2113.0 L1548.0,2113.0 L1550.0,2113.0 L1552.0,2113.0 L1554.0,2112.9 L1556.0,2112.9 L1558.0,2112.9 L1560.0,2112.9 L1562.0,2112.9 L1564.0,2112.9 L1566.0,2112.8 L1568.0,2112.8 L1570.0,2112.8 L1572.0,2112.8 L1574.0,2112.8 L1576.0,2112.8 L1578.0,2112.8 L1580.0,2112.7 L1582.0,2112.7" stroke="#ff00ff" stroke-width="4.81"/>
<path d="M1578.0,2112.8 L1580.0,2112.7 L1582.0,2112.7 L1584.0,2112.7 L1586.0,2112.7 L1587.0,2112.7 L1588.0,2112.7 L1590.0,2112.7 L1592.0,2112.7 L1594.0,2112.8 L1596.0,2112.8 L1598.0,2112.8 L1600.0,2112.8 L1602.0,2112.9 L1604.0,2112.9 L1606.0,2112.9 L1608.0,2113.0 L1610.0,2113.0 L1612.0,2113.1 L1614.0,2113.1 L1616.0,2113.1 L1618.0,2113.2 L1620.0,2113.2 L1622.0,2113.2 L1624.0,2113.3 L1626.0,2113.3 L1628.0,2113.3 L1630.0,2113.4 L1632.0,2113.4 L1634.0,2113.4 L1636.0,2113.4 L1637.7,2113.4 L1638.0,2113.4 L1640.0,2113.4 L1642.0,2113.4 L1644.0,2113.3 L1646.0,2113.3 L1648.0,2113.2 L1650.0,2113.1 L1652.0,2113.1 L1654.0,2113.0 L1656.0,2112.9 L1658.0,2112.8 L1660.0,2112.7 L1662.0,2112.6 L1664.0,2112.4 L1666.0,2112.3 L1668.0,2112.2 L1670.0,2112.1 L1672.0,2111.9 L1674.0,2111.8 L1676.0,2111.7 L1678.0,2111.6 L1680.0,2111.4 L1682.0,2111.3 L1684.0,2111.2 L1686.0,2111.1 L1688.0,2111.0 L1690.0,2110.9 L1692.0,2110.8 L1694.0,2110.7 L1696.0,2110.6 L1698.0,2110.5 L1700.0,2110.5 L1702.0,2110.4 L1704.0,2110.4 L1706.0,2110.4 L1708.0,2110.3 L1708.7,2110.3 L1710.0,2110.3 L1712.0,2110.3 L1714.0,2110.3 L1716.0,2110.3 L1718.0,2110.3 L1720.0,2110.3 L1722.0,2110.3 L1724.0,2110.3 L1726.0,2110.3 L1728.0,2110.3 L1730.0,2110.3 L1732.0,2110.3 L1734.0,2110.3 L1736.0,2110.3 L1738.0,2110.3 L1740.0,2110.3 L1742.0,2110.3 L1744.0,2110.3 L1746.0,2110.3 L1748.0,2110.3 L1750.0,2110.3 L1752.0,2110.3 L1754.0,2110.3 L1756.0,2110.3 L1758.0,2110.3 L1759.4,2110.3 L1760.0,2110.3 L1762.0,2109.6 L1764.0,2108.4 L1765.5,2107.3 L1766.0,2106.9 L1768.0,2104.6 L1770.0,2101.5 L1772.0,2098.4 L1772.1,2098.2 L1774.0,2095.1 L1776.0,2091.5 L1778.0,2088.2 L1779.7,2086.0 L1780.0,2085.7 L1782.0,2083.6 L1784.0,2081.8 L1786.0,2080.9 L1786.3,2080.9 L1788.0,2081.4 L1790.0,2082.8 L1792.0,2084.8 L1793.9,2087.0 L1794.0,2087.1 L1796.0,2090.2 L1798.0,2094.0 L1799.0,2095.6 L1800.0,2097.1 L1802.0,2099.8 L1804.0,2102.2 L1805.1,2103.2 L1806.0,2104.1 L1808.0,2105.9 L1810.0,2107.4 L1812.0,2108.2 L1812.7,2108.3 L1814.0,2108.3 L1816.0,2108.2 L1818.0,2108.2 L1820.0,2108.0 L1822.0,2107.9 L1824.0,2107.7 L1826.0,2107.6 L1828.0,2107.4 L1830.0,2107.3 L1830.4,2107.3 L1832.0,2107.2 L1834.0,2107.1 L1836.0,2107.0 L1838.0,2106.8 L1840.0,2106.7 L1842.0,2106.6 L1844.0,2106.5 L1846.0,2106.4 L1848.0,2106.3 L1850.0,2106.3 L1850.7,2106.3 L1852.0,2106.3 L1854.0,2106.3 L1856.0,2106.3 L1858.0,2106.4 L1860.0,2106.4 L1862.0,2106.4 L1864.0,2106.5 L1866.0,2106.5 L1868.0,2106.6 L1870.0,2106.7 L1872.0,2106.7 L1874.0,2106.8 L1876.0,2106.9 L1878.0,2106.9 L1880.0,2107.0 L1882.0,2107.1 L1884.0,2107.1 L1886.0,2107.2 L1888.0,2107.2 L1890.0,2107.2 L1892.0,2107.3 L1894.0,2107.3 L1896.0,2107.3 L1896.4,2107.3 L1898.0,2107.0 L1900.0,2106.0 L1901.5,2105.3 L1902.0,2105.0 L1904.0,2103.4 L1906.0,2102.3 L1906.5,2102.2 L1908.0,2102.8 L1910.0,2104.6 L1911.6,2105.8 L1912.0,2106.0 L1914.0,2107.0 L1916.0,2107.7 L1916.7,2107.8 L1918.0,2107.9 L1920.0,2108.1 L1922.0,2108.2 L1924.0,2108.3 L1926.0,2108.4 L1928.0,2108.5 L1930.0,2108.6 L1932.0,2108.7 L1934.0,2108.7 L1936.0,2108.8 L1938.0,2108.8 L1940.0,2108.8 L1942.0,2108.8 L1942.0,2108.8 L1944.0,2108.8 L1946.0,2108.6 L1948.0,2108.4 L1950.0,2108.1 L1952.0,2107.7 L1954.0,2107.4 L1956.0,2107.0 L1957.2,2106.8 L1958.0,2106.7 L1960.0,2106.3 L1962.0,2106.0 L1964.0,2105.6 L1966.0,2105.1 L1967.4,2104.8 L1968.0,2104.6 L1970.0,2104.0 L1972.0,2103.4 L1974.0,2102.7 L1976.0,2101.9 L1978.0,2101.1 L1980.0,2100.2 L1980.1,2100.2 L1982.0,2099.3 L1984.0,2098.3 L1986.0,2097.2 L1987.7,2096.1 L1988.0,2095.9 L1990.0,2094.4 L1992.0,2092.6 L1994.0,2090.5 L1995.3,2089.0 L1996.0,2088.2 L1998.0,2085.4 L2000.0,2081.7 L2000.4,2080.9 L2002.0,2075.5 L2004.0,2067.9 L2004.4,2066.7 L2006.0,2062.6 L2007.5,2060.6 L2008.0,2060.8 L2010.0,2063.1 L2011.0,2063.7 L2012.0,2063.6 L2014.0,2063.2 L2015.6,2062.7 L2016.0,2062.5 L2018.0,2060.6 L2020.0,2057.6 L2022.0,2054.3 L2023.2,2052.5 L2024.0,2051.4 L2026.0,2048.5 L2028.0,2045.6 L2030.0,2042.6 L2030.8,2041.4 L2032.0,2039.6 L2034.0,2036.8 L2036.0,2033.7 L2038.0,2029.6 L2038.4,2028.7 L2040.0,2022.3 L2041.9,2013.7 L2042.0,2013.5 L2044.0,2007.3 L2046.0,2004.1 L2046.0,2004.1 L2048.0,2004.7 L2049.6,2005.1 L2050.0,2005.1 L2052.0,2004.4 L2053.6,2003.6 L2054.0,2003.4 L2056.0,2001.9 L2058.0,1999.9 L2060.0,1997.7 L2062.0,1995.4 L2063.8,1993.4 L2064.0,1993.2 L2066.0,1991.0 L2068.0,1988.7 L2070.0,1986.4 L2072.0,1984.0 L2073.9,1981.8 L2074.0,1981.6 L2076.0,1979.3 L2078.0,1976.9 L2080.0,1974.4 L2082.0,1972.0 L2084.0,1969.6 L2084.0,1969.6 L2086.0,1967.3 L2088.0,1964.9 L2090.0,1962.6 L2092.0,1960.3 L2094.0,1958.1 L2094.2,1957.9 L2096.0,1956.0 L2098.0,1954.1 L2099.3,1952.9" stroke="#ff00ff" stroke-width="5.20"/>
<path d="M430.0,2329.7 L432.0,2329.7 L434.0,2329.7 L436.0,2329.7 L438.0,2329.7 L440.0,2329.7 L442.0,2329.7 L444.0,2329.7 L446.0,2329.8 L448.0,2329.8 L450.0,2329.8 L452.0,2329.8 L454.0,2329.8 L456.0,2329.9 L458.0,2329.9 L460.0,2329.9 L462.0,2330.0 L464.0,2330.0 L466.0,2330.1 L468.0,2330.1 L470.0,2330.2 L472.0,2330.2 L474.0,2330.3 L476.0,2330.3 L478.0,2330.4 L480.0,2330.5 L482.0,2330.6 L484.0,2330.6 L485.8,2330.7 L486.0,2330.7 L488.0,2331.1 L490.0,2331.6 L492.0,2332.1 L493.4,2332.2 L494.0,2332.2 L496.0,2332.0 L498.0,2331.6 L500.0,2331.1 L502.0,2330.8 L503.5,2330.7 L504.0,2330.7 L506.0,2330.8 L508.0,2330.8 L510.0,2331.0 L512.0,2331.1 L514.0,2331.2 L516.0,2331.4 L518.0,2331.5 L520.0,2331.6 L522.0,2331.7 L523.8,2331.7 L524.0,2331.7 L526.0,2331.5 L528.0,2330.9 L530.0,2330.4 L531.4,2330.2 L532.0,2330.2 L534.0,2330.0 L536.0,2329.8 L538.0,2329.7 L540.0,2329.5 L542.0,2329.4 L544.0,2329.2 L546.0,2329.1 L548.0,2329.0 L550.0,2328.9 L552.0,2328.9 L554.0,2328.8 L556.0,2328.7 L558.0,2328.7 L560.0,2328.7 L561.9,2328.7 L562.0,2328.7 L564.0,2328.7 L566.0,2328.8 L568.0,2328.9 L570.0,2329.0 L572.0,2329.2 L574.0,2329.3 L576.0,2329.5 L578.0,2329.6 L580.0,2329.7 L582.0,2329.7 L582.2,2329.7 L584.0,2329.4 L586.0,2328.6 L588.0,2327.8 L588.2,2327.7 L590.0,2326.8 L592.0,2325.9 L593.3,2325.6 L594.0,2325.7 L596.0,2326.5 L598.0,2327.5 L598.4,2327.7 L600.0,2328.2 L602.0,2328.6 L602.4,2328.7 L604.0,2328.7 L606.0,2328.8 L608.0,2328.8 L610.0,2328.9 L612.0,2328.9 L614.0,2328.9 L616.0,2328.9 L618.0,2329.0 L620.0,2329.0 L622.0,2329.0 L624.0,2329.0 L626.0,2329.0 L628.0,2329.1 L630.0,2329.1 L632.0,2329.2 L632.9,2329.2 L634.0,2329.3 L636.0,2329.7 L638.0,2330.3 L640.0,2331.0 L642.0,2331.7 L644.0,2332.1 L645.6,2332.2 L646.0,2332.2 L648.0,2332.2 L650.0,2332.0 L652.0,2331.7 L654.0,2331.5 L655.7,2331.2 L656.0,2331.2 L658.0,2330.6 L660.0,2329.8 L662.0,2329.0 L664.0,2328.4 L665.8,2328.2 L666.0,2328.2 L668.0,2328.3 L670.0,2328.7 L672.0,2329.2 L674.0,2329.7 L676.0,2330.2 L676.0,2330.2 L678.0,2330.7 L680.0,2331.2 L682.0,2331.6 L683.6,2331.7 L684.0,2331.7 L686.0,2331.8 L688.0,2331.9 L690.0,2332.0 L692.0,2332.1 L694.0,2332.1 L696.0,2332.2 L698.0,2332.2 L700.0,2332.2 L702.0,2332.3 L704.0,2332.3 L706.0,2332.3 L708.0,2332.3 L710.0,2332.4 L712.0,2332.4 L714.0,2332.4 L716.0,2332.5 L718.0,2332.5 L720.0,2332.6 L722.0,2332.7 L724.0,2332.7 L724.2,2332.7 L726.0,2332.8 L728.0,2333.0 L730.0,2333.2 L732.0,2333.4 L734.0,2333.6 L736.0,2333.8 L738.0,2334.1 L739.4,2334.3 L740.0,2334.3 L742.0,2334.7 L744.0,2335.1 L746.0,2335.5 L748.0,2335.7 L749.5,2335.8 L750.0,2335.8 L752.0,2335.4 L754.0,2334.7 L756.0,2334.0 L758.0,2333.4 L759.7,2333.2 L760.0,2333.2 L762.0,2333.2 L764.0,2333.3 L766.0,2333.3 L768.0,2333.3 L770.0,2333.3 L772.0,2333.3 L774.0,2333.3 L776.0,2333.3 L778.0,2333.4 L780.0,2333.4 L782.0,2333.4 L784.0,2333.4 L786.0,2333.5 L788.0,2333.5 L790.0,2333.5 L792.0,2333.5 L794.0,2333.6 L796.0,2333.6 L798.0,2333.6 L800.0,2333.7 L802.0,2333.7 L804.0,2333.7 L805.3,2333.8 L806.0,2333.8 L808.0,2333.8 L810.0,2333.8 L812.0,2333.9 L814.0,2334.0 L816.0,2334.0 L818.0,2334.1 L820.0,2334.2 L822.0,2334.2 L824.0,2334.3 L826.0,2334.4 L828.0,2334.5 L830.0,2334.6 L832.0,2334.7 L834.0,2334.7 L836.0,2334.8 L838.0,2334.9 L840.0,2335.0 L842.0,2335.1 L844.0,2335.2 L846.0,2335.3 L848.0,2335.4 L850.0,2335.5 L852.0,2335.6 L854.0,2335.6 L856.0,2335.7 L858.0,2335.8 L860.0,2335.9 L862.0,2335.9 L864.0,2336.0 L866.0,2336.1 L868.0,2336.1 L870.0,2336.2 L872.0,2336.2 L874.0,2336.3 L876.0,2336.3 L876.3,2336.3 L878.0,2336.3 L880.0,2336.3 L882.0,2336.4 L884.0,2336.4 L886.0,2336.4 L888.0,2336.4 L890.0,2336.4 L892.0,2336.5 L894.0,2336.5 L896.0,2336.5 L898.0,2336.5 L900.0,2336.6 L902.0,2336.6" stroke="#0000ff" stroke-width="5.20"/>
<path d="M898.0,2336.5 L900.0,2336.6 L902.0,2336.6 L904.0,2336.6 L906.0,2336.6 L908.0,2336.6 L910.0,2336.7 L912.0,2336.7 L914.0,2336.7 L916.0,2336.7 L918.0,2336.7 L920.0,2336.7 L922.0,2336.8 L924.0,2336.8 L926.0,2336.8 L928.0,2336.8 L930.0,2336.8 L932.0,2336.8 L934.0,2336.9 L936.0,2336.9 L938.0,2336.9 L940.0,2336.9 L942.0,2336.9 L944.0,2336.9 L946.0,2336.9 L948.0,2337.0 L950.0,2337.0 L952.0,2337.0 L954.0,2337.0 L956.0,2337.0 L958.0,2337.0 L960.0,2337.1 L962.0,2337.1 L964.0,2337.1 L966.0,2337.1 L968.0,2337.1 L970.0,2337.2 L972.0,2337.2 L974.0,2337.2 L976.0,2337.2 L978.0,2337.2 L980.0,2337.2 L982.0,2337.2 L984.0,2337.3 L986.0,2337.3 L988.0,2337.3 L990.0,2337.3 L992.0,2337.3 L994.0,2337.3 L996.0,2337.3 L998.0,2337.4 L1000.0,2337.4 L1002.0,2337.4" stroke="#0000ff" stroke-width="4.81"/>
<path d="M998.0,2337.4 L1000.0,2337.4 L1002.0,2337.4 L1004.0,2337.4 L1006.0,2337.4 L1008.0,2337.4 L1010.0,2337.4 L1012.0,2337.5 L1014.0,2337.5 L1016.0,2337.5 L1018.0,2337.5 L1020.0,2337.5 L1022.0,2337.5 L1024.0,2337.5 L1026.0,2337.5 L1028.0,2337.5 L1030.0,2337.6 L1032.0,2337.6 L1034.0,2337.6 L1036.0,2337.6 L1038.0,2337.6 L1040.0,2337.6 L1042.0,2337.6 L1044.0,2337.6 L1046.0,2337.6 L1048.0,2337.6 L1050.0,2337.6 L1052.0,2337.7 L1054.0,2337.7 L1056.0,2337.7 L1058.0,2337.7 L1060.0,2337.7 L1062.0,2337.7 L1064.0,2337.7 L1066.0,2337.7 L1068.0,2337.7 L1070.0,2337.7 L1072.0,2337.7 L1074.0,2337.7 L1076.0,2337.8 L1078.0,2337.8 L1080.0,2337.8 L1082.0,2337.8 L1084.0,2337.8 L1086.0,2337.8 L1088.0,2337.8 L1090.0,2337.8 L1092.0,2337.8 L1094.0,2337.8 L1096.0,2337.8 L1098.0,2337.8 L1100.0,2337.8 L1102.0,2337.8 L1104.0,2337.8 L1106.0,2337.8 L1108.0,2337.8 L1110.0,2337.8 L1112.0,2337.8 L1114.0,2337.8 L1116.0,2337.8 L1118.0,2337.8 L1120.0,2337.8 L1122.0,2337.8 L1124.0,2337.8 L1126.0,2337.9 L1128.0,2337.9 L1130.0,2337.9 L1132.0,2337.9 L1134.0,2337.9 L1136.0,2337.9 L1138.0,2337.9 L1140.0,2337.9 L1142.0,2337.9 L1144.0,2337.9 L1146.0,2337.9 L1148.0,2337.9 L1150.0,2337.9 L1152.0,2337.9 L1154.0,2337.9 L1156.0,2337.9 L1158.0,2338.0 L1160.0,2338.0 L1162.0,2338.0 L1164.0,2338.0 L1166.0,2338.0 L1168.0,2338.0 L1170.0,2338.0 L1172.0,2338.0 L1174.0,2338.1 L1176.0,2338.1 L1178.0,2338.1 L1180.0,2338.1 L1182.0,2338.1 L1184.0,2338.2 L1186.0,2338.2 L1188.0,2338.3 L1190.0,2339.6 L1192.0,2340.8 L1194.0,2340.1 L1196.0,2339.0 L1197.0,2338.8 L1198.0,2338.8 L1200.0,2338.8 L1202.0,2338.9 L1204.0,2339.0 L1206.0,2339.0 L1208.0,2339.1 L1210.0,2339.2 L1212.0,2339.4 L1214.0,2339.5 L1216.0,2339.6 L1218.0,2339.6 L1220.0,2339.7 L1222.0,2339.8 L1224.0,2339.8 L1225.0,2339.8 L1226.0,2339.8 L1228.0,2339.5 L1230.0,2339.1 L1232.0,2338.6 L1234.0,2338.3 L1235.0,2338.3 L1236.0,2338.3 L1238.0,2338.3 L1240.0,2338.3 L1242.0,2338.3 L1244.0,2338.3 L1246.0,2338.3 L1248.0,2338.3 L1250.0,2338.3 L1252.0,2338.3 L1254.0,2338.3 L1256.0,2338.3 L1258.0,2338.3 L1260.0,2338.3 L1262.0,2338.3 L1264.0,2338.3 L1266.0,2338.3 L1268.0,2338.3 L1270.0,2338.3 L1272.0,2338.3 L1274.0,2338.3 L1276.0,2338.3 L1278.0,2338.3 L1280.0,2338.3 L1282.0,2338.3 L1284.0,2338.3 L1286.0,2338.3 L1288.0,2338.3 L1290.0,2338.3 L1292.0,2338.3 L1294.0,2338.3 L1296.0,2338.3 L1298.0,2338.3 L1300.0,2338.3 L1302.0,2338.3 L1304.0,2338.3 L1306.0,2338.3 L1308.0,2338.3 L1310.0,2338.3 L1312.0,2338.3 L1314.0,2338.3 L1316.0,2338.4 L1318.0,2338.4 L1320.0,2338.4 L1322.0,2338.4 L1324.0,2338.4 L1326.0,2338.4 L1328.0,2338.5 L1330.0,2338.5 L1332.0,2338.5 L1334.0,2338.5 L1336.0,2338.6 L1338.0,2338.6 L1340.0,2338.6 L1342.0,2338.6 L1344.0,2338.7 L1346.0,2338.7 L1348.0,2338.7 L1350.0,2338.7 L1352.0,2338.8 L1354.0,2338.8 L1356.0,2338.8 L1358.0,2338.9 L1360.0,2338.9 L1362.0,2338.9 L1364.0,2338.9 L1366.0,2339.0 L1368.0,2339.0 L1370.0,2339.0 L1372.0,2339.0 L1374.0,2339.1 L1376.0,2339.1 L1378.0,2339.1 L1380.0,2339.1 L1382.0,2339.2 L1384.0,2339.2 L1386.0,2339.2 L1388.0,2339.2 L1390.0,2339.2 L1392.0,2339.3 L1394.0,2339.3 L1396.0,2339.3 L1398.0,2339.3 L1400.0,2339.3 L1402.0,2339.3 L1404.0,2339.3 L1406.0,2339.3 L1408.0,2339.3 L1410.0,2339.3 L1412.0,2339.4 L1414.0,2339.4 L1416.0,2339.4 L1418.0,2339.4 L1420.0,2339.4 L1422.0,2339.4 L1424.0,2339.4 L1426.0,2339.4 L1428.0,2339.4 L1430.0,2339.4 L1432.0,2339.4 L1434.0,2339.4 L1436.0,2339.5 L1438.0,2339.5 L1440.0,2339.5 L1442.0,2339.5 L1444.0,2339.5 L1446.0,2339.5 L1448.0,2339.5 L1450.0,2339.5 L1452.0,2339.5 L1454.0,2339.5 L1456.0,2339.5 L1458.0,2339.5 L1460.0,2339.5 L1462.0,2339.6 L1464.0,2339.6 L1466.0,2339.6 L1468.0,2339.6 L1470.0,2339.6 L1472.0,2339.6 L1474.0,2339.6 L1476.0,2339.6 L1478.0,2339.6 L1480.0,2339.6 L1482.0,2339.6 L1484.0,2339.6 L1486.0,2339.6 L1488.0,2339.6 L1490.0,2339.6 L1492.0,2339.7 L1494.0,2339.7 L1496.0,2339.7 L1498.0,2339.7 L1500.0,2339.7 L1502.0,2339.7 L1504.0,2339.7 L1506.0,2339.7 L1508.0,2339.7 L1510.0,2339.7 L1512.0,2339.7 L1514.0,2339.7 L1516.0,2339.7 L1518.0,2339.7 L1520.0,2339.7 L1522.0,2339.7" stroke="#0000ff" stroke-width="4.42"/>
<path d="M1518.0,2339.7 L1520.0,2339.7 L1522.0,2339.7 L1524.0,2339.7 L1526.0,2339.7 L1528.0,2339.7 L1530.0,2339.7 L1532.0,2339.7 L1534.0,2339.8 L1536.0,2339.8 L1538.0,2339.8 L1540.0,2339.8 L1542.0,2339.8 L1544.0,2339.8 L1546.0,2339.7 L1548.0,2339.7 L1550.0,2339.7 L1552.0,2339.7 L1554.0,2339.7 L1556.0,2339.7 L1558.0,2339.7 L1560.0,2339.7 L1562.0,2339.7 L1564.0,2339.7 L1566.0,2339.7 L1568.0,2339.7 L1570.0,2339.7 L1572.0,2339.7 L1574.0,2339.7 L1576.0,2339.7 L1578.0,2339.6 L1580.0,2339.6 L1582.0,2339.6" stroke="#0000ff" stroke-width="4.81"/>
<path d="M1578.0,2339.6 L1580.0,2339.6 L1582.0,2339.6 L1584.0,2339.6 L1586.0,2339.6 L1587.0,2339.6 L1588.0,2339.6 L1590.0,2339.6 L1592.0,2339.6 L1594.0,2339.6 L1596.0,2339.6 L1598.0,2339.6 L1600.0,2339.6 L1602.0,2339.5 L1604.0,2339.5 L1606.0,2339.5 L1608.0,2339.5 L1610.0,2339.5 L1612.0,2339.5 L1614.0,2339.5 L1616.0,2339.5 L1618.0,2339.5 L1620.0,2339.4 L1622.0,2339.4 L1624.0,2339.4 L1626.0,2339.4 L1628.0,2339.4 L1630.0,2339.4 L1632.0,2339.4 L1634.0,2339.4 L1636.0,2339.4 L1637.7,2339.3 L1638.0,2339.3 L1640.0,2339.3 L1642.0,2339.3 L1644.0,2339.3 L1646.0,2339.3 L1648.0,2339.3 L1650.0,2339.2 L1652.0,2339.2 L1654.0,2339.2 L1656.0,2339.1 L1658.0,2339.1 L1660.0,2339.1 L1662.0,2339.0 L1664.0,2339.0 L1666.0,2339.0 L1668.0,2338.9 L1670.0,2338.9 L1672.0,2338.8 L1674.0,2338.8 L1676.0,2338.7 L1678.0,2338.7 L1680.0,2338.7 L1682.0,2338.6 L1684.0,2338.6 L1686.0,2338.6 L1688.0,2338.5 L1690.0,2338.5 L1692.0,2338.5 L1694.0,2338.4 L1696.0,2338.4 L1698.0,2338.4 L1700.0,2338.4 L1702.0,2338.3 L1704.0,2338.3 L1706.0,2338.3 L1708.0,2338.3 L1708.7,2338.3 L1710.0,2338.3 L1712.0,2338.3 L1714.0,2338.3 L1716.0,2338.3 L1718.0,2338.3 L1720.0,2338.3 L1722.0,2338.3 L1724.0,2338.3 L1726.0,2338.3 L1728.0,2338.3 L1730.0,2338.3 L1732.0,2338.3 L1734.0,2338.3 L1736.0,2338.3 L1738.0,2338.3 L1740.0,2338.3 L1742.0,2338.3 L1744.0,2338.3 L1746.0,2338.3 L1748.0,2338.3 L1750.0,2338.3 L1752.0,2338.3 L1754.0,2338.3 L1756.0,2338.3 L1756.9,2338.3 L1758.0,2338.2 L1760.0,2337.3 L1762.0,2335.9 L1763.5,2334.8 L1764.0,2334.4 L1766.0,2332.2 L1768.0,2329.3 L1769.6,2326.7 L1770.0,2325.9 L1772.0,2321.3 L1774.0,2316.1 L1774.7,2314.5 L1776.0,2311.2 L1778.0,2306.1 L1780.0,2301.7 L1780.7,2300.3 L1782.0,2298.0 L1784.0,2294.5 L1786.0,2291.6 L1788.0,2290.2 L1788.4,2290.1 L1790.0,2290.8 L1792.0,2293.1 L1794.0,2296.2 L1794.9,2297.7 L1796.0,2299.9 L1798.0,2305.5 L1800.0,2311.4 L1800.0,2311.4 L1802.0,2317.0 L1804.0,2322.3 L1805.1,2324.6 L1806.0,2326.2 L1808.0,2329.4 L1810.0,2331.6 L1810.2,2331.7 L1812.0,2333.1 L1814.0,2334.5 L1816.0,2335.4 L1817.8,2335.8 L1818.0,2335.8 L1820.0,2335.9 L1822.0,2336.0 L1824.0,2336.1 L1826.0,2336.2 L1828.0,2336.3 L1830.0,2336.3 L1832.0,2336.4 L1834.0,2336.5 L1836.0,2336.5 L1838.0,2336.6 L1840.0,2336.6 L1842.0,2336.7 L1844.0,2336.7 L1846.0,2336.7 L1848.0,2336.7 L1850.0,2336.8 L1852.0,2336.8 L1854.0,2336.8 L1856.0,2336.8 L1858.0,2336.8 L1860.0,2336.8 L1860.9,2336.8 L1862.0,2336.8 L1864.0,2336.8 L1866.0,2336.8 L1868.0,2336.8 L1870.0,2336.8 L1872.0,2336.8 L1874.0,2336.8 L1876.0,2336.8 L1878.0,2336.8 L1880.0,2336.8 L1882.0,2336.8 L1884.0,2336.8 L1886.0,2336.8 L1888.0,2336.8 L1890.0,2336.8 L1892.0,2336.8 L1894.0,2336.8 L1896.0,2336.8 L1898.0,2336.8 L1898.9,2336.8 L1900.0,2336.7 L1902.0,2336.0 L1902.5,2335.8 L1904.0,2334.7 L1906.0,2333.3 L1906.5,2333.2 L1908.0,2333.9 L1910.0,2335.5 L1910.6,2335.8 L1912.0,2336.3 L1914.0,2336.8 L1914.1,2336.8 L1916.0,2337.0 L1918.0,2337.2 L1920.0,2337.4 L1922.0,2337.5 L1924.0,2337.7 L1926.0,2337.8 L1928.0,2337.9 L1930.0,2338.0 L1932.0,2338.1 L1934.0,2338.2 L1936.0,2338.2 L1938.0,2338.3 L1940.0,2338.3 L1942.0,2338.3 L1942.0,2338.3 L1944.0,2338.3 L1946.0,2338.2 L1948.0,2338.1 L1950.0,2338.0 L1952.0,2337.8 L1954.0,2337.6 L1956.0,2337.4 L1957.2,2337.3 L1958.0,2337.2 L1960.0,2337.0 L1962.0,2336.7 L1964.0,2336.4 L1966.0,2336.0 L1967.4,2335.8 L1968.0,2335.7 L1970.0,2335.3 L1972.0,2335.0 L1974.0,2334.6 L1976.0,2334.2 L1978.0,2333.7 L1980.0,2333.3 L1980.1,2333.2 L1982.0,2332.7 L1984.0,2332.1 L1986.0,2331.4 L1987.7,2330.7 L1988.0,2330.6 L1990.0,2329.7 L1992.0,2328.7 L1994.0,2327.5 L1995.3,2326.7 L1996.0,2326.2 L1998.0,2324.7 L2000.0,2322.6 L2000.4,2322.1 L2002.0,2318.0 L2003.9,2313.0 L2004.0,2312.8 L2006.0,2309.8 L2007.5,2308.9 L2008.0,2309.1 L2010.0,2311.2 L2011.0,2311.9 L2012.0,2312.1 L2014.0,2312.4 L2015.6,2312.5 L2016.0,2312.4 L2018.0,2311.9 L2020.0,2310.8 L2022.0,2309.6 L2023.2,2308.9 L2024.0,2308.5 L2026.0,2307.5 L2028.0,2306.6 L2030.0,2305.4 L2032.0,2304.0 L2033.3,2302.8 L2034.0,2302.0 L2036.0,2298.3 L2038.0,2293.6 L2038.4,2292.7 L2040.0,2288.1 L2041.9,2283.0 L2042.0,2282.9 L2044.0,2279.9 L2046.0,2278.5 L2046.0,2278.5 L2048.0,2279.1 L2050.0,2280.0 L2050.1,2280.0 L2052.0,2280.6 L2054.0,2281.0 L2054.6,2281.0 L2056.0,2280.6 L2058.0,2279.1 L2059.7,2278.0 L2060.0,2277.8 L2062.0,2276.9 L2063.8,2276.4 L2064.0,2276.5 L2066.0,2277.5 L2068.0,2278.8 L2068.8,2279.0 L2070.0,2278.9 L2072.0,2278.7 L2073.9,2278.5 L2074.0,2278.5 L2076.0,2278.0 L2078.0,2277.2 L2080.0,2276.3 L2082.0,2275.3 L2084.0,2274.4 L2084.0,2274.4 L2086.0,2273.6 L2088.0,2272.7 L2090.0,2271.8 L2092.0,2270.9 L2094.0,2269.9 L2094.2,2269.8 L2096.0,2269.0 L2098.0,2268.0 L2099.3,2267.3" stroke="#0000ff" stroke-width="5.20"/>
<path d="M430.0,2546.0 L432.0,2546.0 L434.0,2546.0 L436.0,2546.1 L438.0,2546.1 L440.0,2546.1 L442.0,2546.2 L444.0,2546.2 L446.0,2546.2 L448.0,2546.2 L450.0,2546.3 L452.0,2546.3 L454.0,2546.3 L456.0,2546.3 L458.0,2546.3 L460.0,2546.3 L462.0,2546.4 L464.0,2546.4 L466.0,2546.4 L468.0,2546.4 L470.0,2546.4 L472.0,2546.4 L474.0,2546.4 L476.0,2546.4 L478.0,2546.4 L480.0,2546.4 L482.0,2546.4 L484.0,2546.4 L486.0,2546.5 L488.0,2546.5 L490.0,2546.5 L492.0,2546.5 L494.0,2546.5 L496.0,2546.5 L498.0,2546.5 L500.0,2546.5 L502.0,2546.5 L504.0,2546.5 L506.0,2546.5 L506.1,2546.5 L508.0,2546.5 L510.0,2546.5 L512.0,2546.4 L514.0,2546.4 L516.0,2546.4 L518.0,2546.4 L520.0,2546.4 L522.0,2546.4 L524.0,2546.3 L526.0,2546.3 L528.0,2546.3 L530.0,2546.3 L532.0,2546.2 L534.0,2546.2 L536.0,2546.1 L538.0,2546.1 L540.0,2546.0 L542.0,2546.0 L544.0,2545.9 L546.0,2545.9 L548.0,2545.8 L550.0,2545.8 L552.0,2545.7 L554.0,2545.6 L556.0,2545.6 L558.0,2545.5 L559.3,2545.4 L560.0,2545.4 L562.0,2545.3 L564.0,2545.1 L566.0,2544.9 L568.0,2544.6 L569.5,2544.4 L570.0,2544.4 L572.0,2544.1 L574.0,2543.7 L576.0,2543.4 L578.0,2543.0 L580.0,2542.7 L582.0,2542.4 L582.2,2542.4 L584.0,2542.2 L586.0,2541.9 L588.0,2541.7 L590.0,2541.5 L592.0,2541.3 L594.0,2541.1 L596.0,2540.9 L598.0,2540.7 L600.0,2540.6 L602.0,2540.4 L602.4,2540.4 L604.0,2540.2 L606.0,2540.1 L608.0,2539.9 L610.0,2539.7 L612.0,2539.5 L614.0,2539.4 L616.0,2539.2 L618.0,2539.1 L620.0,2539.0 L622.0,2538.9 L624.0,2538.9 L625.3,2538.9 L626.0,2538.9 L628.0,2539.1 L630.0,2539.5 L632.0,2540.0 L634.0,2540.5 L635.4,2540.9 L636.0,2541.0 L638.0,2541.6 L640.0,2542.2 L642.0,2542.4 L642.0,2542.4 L644.0,2541.6 L646.0,2539.9 L648.0,2538.4 L648.1,2538.3 L650.0,2537.5 L652.0,2536.7 L653.2,2536.3 L654.0,2536.0 L656.0,2535.2 L658.0,2534.4 L660.0,2533.8 L662.0,2533.4 L663.3,2533.3 L664.0,2533.3 L666.0,2534.0 L668.0,2535.0 L670.0,2535.7 L670.9,2535.8 L672.0,2535.8 L674.0,2535.6 L676.0,2535.3 L678.0,2535.0 L680.0,2534.8 L681.1,2534.8 L682.0,2534.8 L684.0,2535.0 L686.0,2535.3 L688.0,2535.7 L688.7,2535.8 L690.0,2536.1 L692.0,2536.7 L694.0,2537.3 L696.0,2538.0 L698.0,2538.6 L698.8,2538.9 L700.0,2539.2 L702.0,2539.7 L704.0,2540.2 L706.0,2540.7 L708.0,2541.2 L709.0,2541.4 L710.0,2541.6 L712.0,2542.0 L714.0,2542.3 L716.0,2542.6 L718.0,2542.9 L720.0,2543.3 L722.0,2543.6 L724.0,2543.9 L724.2,2543.9 L726.0,2544.3 L728.0,2544.7 L730.0,2545.1 L732.0,2545.6 L734.0,2545.9 L736.0,2546.2 L738.0,2546.4 L739.4,2546.5 L740.0,2546.5 L742.0,2546.3 L744.0,2546.1 L746.0,2545.8 L748.0,2545.6 L749.5,2545.4 L750.0,2545.4 L752.0,2545.3 L754.0,2545.1 L756.0,2545.0 L758.0,2545.0 L759.7,2544.9 L760.0,2544.9 L762.0,2545.1 L764.0,2545.5 L766.0,2546.0 L768.0,2546.6 L770.0,2547.1 L772.0,2547.4 L772.3,2547.5 L774.0,2547.7 L776.0,2547.9 L778.0,2548.1 L780.0,2548.2 L782.0,2548.4 L784.0,2548.5 L785.0,2548.5 L786.0,2548.5 L788.0,2548.6 L790.0,2548.6 L792.0,2548.6 L794.0,2548.7 L796.0,2548.7 L798.0,2548.7 L800.0,2548.7 L802.0,2548.8 L804.0,2548.8 L806.0,2548.8 L808.0,2548.8 L810.0,2548.8 L812.0,2548.9 L814.0,2548.9 L816.0,2548.9 L818.0,2548.9 L820.0,2548.9 L822.0,2549.0 L824.0,2549.0 L825.6,2549.0 L826.0,2549.0 L828.0,2549.0 L830.0,2549.1 L832.0,2549.1 L834.0,2549.1 L836.0,2549.1 L838.0,2549.2 L840.0,2549.2 L842.0,2549.2 L844.0,2549.2 L846.0,2549.3 L848.0,2549.3 L850.0,2549.3 L852.0,2549.4 L854.0,2549.4 L856.0,2549.4 L858.0,2549.5 L860.0,2549.5 L862.0,2549.5 L864.0,2549.5 L866.0,2549.6 L868.0,2549.6 L870.0,2549.6 L872.0,2549.7 L874.0,2549.7 L876.0,2549.7 L878.0,2549.8 L880.0,2549.8 L882.0,2549.8 L884.0,2549.9 L886.0,2549.9 L888.0,2549.9 L890.0,2550.0 L892.0,2550.0 L894.0,2550.0 L896.0,2550.1 L898.0,2550.1 L900.0,2550.1 L902.0,2550.2" stroke="#ff0000" stroke-width="4.30"/>
<path d="M898.0,2550.1 L900.0,2550.1 L902.0,2550.2 L904.0,2550.2 L906.0,2550.2 L908.0,2550.3 L910.0,2550.3 L912.0,2550.3 L914.0,2550.4 L916.0,2550.4 L918.0,2550.4 L920.0,2550.5 L922.0,2550.5 L924.0,2550.5 L926.0,2550.6 L928.0,2550.6 L930.0,2550.6 L932.0,2550.6 L934.0,2550.7 L936.0,2550.7 L938.0,2550.7 L940.0,2550.8 L942.0,2550.8 L944.0,2550.8 L946.0,2550.9 L948.0,2550.9 L950.0,2550.9 L952.0,2550.9 L954.0,2551.0 L956.0,2551.0 L958.0,2551.0 L960.0,2551.0 L962.0,2551.0 L964.0,2551.1 L966.0,2551.1 L968.0,2551.1 L970.0,2551.1 L972.0,2551.1 L974.0,2551.2 L976.0,2551.2 L978.0,2551.2 L980.0,2551.2 L982.0,2551.2 L984.0,2551.2 L986.0,2551.3 L988.0,2551.3 L990.0,2551.3 L992.0,2551.3 L994.0,2551.3 L996.0,2551.3 L998.0,2551.3 L1000.0,2551.3 L1002.0,2551.3" stroke="#ff0000" stroke-width="4.30"/>
<path d="M998.0,2551.3 L1000.0,2551.3 L1002.0,2551.3 L1004.0,2551.4 L1006.0,2551.4 L1008.0,2551.4 L1010.0,2551.4 L1012.0,2551.4 L1014.0,2551.4 L1016.0,2551.4 L1018.0,2551.4 L1020.0,2551.4 L1022.0,2551.4 L1024.0,2551.4 L1026.0,2551.4 L1028.0,2551.4 L1030.0,2551.4 L1032.0,2551.4 L1034.0,2551.4 L1036.0,2551.4 L1038.0,2551.4 L1040.0,2551.3 L1042.0,2551.3 L1044.0,2551.3 L1046.0,2551.3 L1048.0,2551.3 L1050.0,2551.3 L1052.0,2551.3 L1054.0,2551.3 L1056.0,2551.2 L1058.0,2551.2 L1060.0,2551.2 L1062.0,2551.2 L1064.0,2551.2 L1066.0,2551.2 L1068.0,2551.1 L1070.0,2551.1 L1072.0,2551.1 L1074.0,2551.1 L1076.0,2551.1 L1078.0,2551.1 L1080.0,2551.1 L1082.0,2551.0 L1084.0,2551.0 L1086.0,2551.0 L1088.0,2551.0 L1090.0,2551.0 L1092.0,2551.0 L1094.0,2551.0 L1096.0,2551.0 L1098.0,2551.0 L1100.0,2551.0 L1102.0,2551.0 L1104.0,2551.0 L1106.0,2551.0 L1108.0,2551.0 L1110.0,2551.0 L1112.0,2551.0 L1114.0,2551.0 L1116.0,2551.0 L1118.0,2551.0 L1120.0,2551.0 L1122.0,2551.0 L1124.0,2551.0 L1126.0,2551.0 L1128.0,2551.0 L1130.0,2551.0 L1132.0,2551.1 L1134.0,2551.1 L1136.0,2551.1 L1138.0,2551.1 L1140.0,2551.1 L1142.0,2551.1 L1144.0,2551.1 L1146.0,2551.1 L1148.0,2551.1 L1150.0,2551.1 L1152.0,2551.1 L1154.0,2551.1 L1156.0,2551.2 L1158.0,2551.2 L1160.0,2551.2 L1162.0,2551.2 L1164.0,2551.2 L1166.0,2551.2 L1168.0,2551.2 L1170.0,2551.2 L1172.0,2551.2 L1174.0,2551.2 L1176.0,2551.3 L1178.0,2551.3 L1180.0,2551.3 L1182.0,2551.3 L1184.0,2551.3 L1186.0,2551.3 L1188.0,2551.3 L1190.0,2551.3 L1192.0,2551.4 L1194.0,2551.4 L1196.0,2551.4 L1198.0,2551.4 L1200.0,2551.4 L1202.0,2551.4 L1204.0,2551.4 L1206.0,2551.4 L1208.0,2551.4 L1210.0,2551.5 L1212.0,2551.5 L1214.0,2551.5 L1216.0,2551.5 L1218.0,2551.5 L1220.0,2551.5 L1222.0,2551.5 L1224.0,2551.5 L1226.0,2551.6 L1228.0,2551.6 L1230.0,2551.6 L1232.0,2551.6 L1234.0,2551.6 L1236.0,2551.6 L1238.0,2551.6 L1240.0,2551.6 L1242.0,2551.6 L1244.0,2551.6 L1246.0,2551.7 L1248.0,2551.7 L1250.0,2551.7 L1252.0,2551.7 L1254.0,2551.7 L1256.0,2551.7 L1258.0,2551.7 L1260.0,2551.7 L1262.0,2551.7 L1264.0,2551.7 L1266.0,2551.7 L1268.0,2551.7 L1270.0,2551.8 L1272.0,2551.8 L1274.0,2551.8 L1276.0,2551.8 L1278.0,2551.8 L1280.0,2551.8 L1282.0,2551.8 L1284.0,2551.8 L1286.0,2551.8 L1288.0,2551.8 L1290.0,2551.8 L1292.0,2551.8 L1294.0,2551.8 L1296.0,2551.8 L1298.0,2551.8 L1300.0,2551.8 L1302.0,2551.8 L1304.0,2551.8 L1306.0,2551.8 L1308.0,2551.8 L1310.0,2551.8 L1312.0,2551.8 L1314.0,2551.8 L1316.0,2551.8 L1318.0,2551.8 L1320.0,2551.8 L1322.0,2551.8 L1324.0,2551.8 L1326.0,2551.8 L1328.0,2551.8 L1330.0,2551.8 L1332.0,2551.8 L1334.0,2551.8 L1336.0,2551.8 L1338.0,2551.8 L1340.0,2551.8 L1342.0,2551.8 L1344.0,2551.8 L1346.0,2551.8 L1348.0,2551.8 L1350.0,2551.8 L1352.0,2551.8 L1354.0,2551.8 L1356.0,2551.8 L1358.0,2551.8 L1360.0,2551.8 L1362.0,2551.8 L1364.0,2551.8 L1366.0,2551.8 L1368.0,2551.8 L1370.0,2551.7 L1372.0,2551.7 L1374.0,2551.7 L1376.0,2551.7 L1378.0,2551.7 L1380.0,2551.7 L1382.0,2551.7 L1384.0,2551.7 L1386.0,2551.7 L1388.0,2551.7 L1390.0,2551.7 L1392.0,2551.7 L1394.0,2551.7 L1396.0,2551.7 L1398.0,2551.7 L1400.0,2551.7 L1402.0,2551.7 L1404.0,2551.7 L1406.0,2551.7 L1408.0,2551.7 L1410.0,2551.7 L1412.0,2551.7 L1414.0,2551.7 L1416.0,2551.7 L1418.0,2551.7 L1420.0,2551.6 L1422.0,2551.6 L1424.0,2551.6 L1426.0,2551.6 L1428.0,2551.6 L1430.0,2551.6 L1432.0,2551.6 L1434.0,2551.6 L1436.0,2551.6 L1438.0,2551.6 L1440.0,2551.6 L1442.0,2551.6 L1444.0,2551.6 L1446.0,2551.6 L1448.0,2551.6 L1450.0,2551.6 L1452.0,2551.5 L1454.0,2551.5 L1456.0,2551.5 L1458.0,2551.5 L1460.0,2551.5 L1462.0,2551.5 L1464.0,2551.5 L1466.0,2551.5 L1468.0,2551.5 L1470.0,2551.5 L1472.0,2551.5 L1474.0,2551.5 L1476.0,2551.5 L1478.0,2551.4 L1480.0,2551.4 L1482.0,2551.4 L1484.0,2551.4 L1486.0,2551.4 L1488.0,2551.4 L1490.0,2551.4 L1492.0,2551.4 L1494.0,2551.4 L1496.0,2551.4 L1498.0,2551.4 L1500.0,2551.3 L1502.0,2551.3 L1504.0,2551.3 L1506.0,2551.3 L1508.0,2551.3 L1510.0,2551.3 L1512.0,2551.3 L1514.0,2551.3 L1516.0,2551.3 L1518.0,2551.3 L1520.0,2551.2 L1522.0,2551.2" stroke="#ff0000" stroke-width="4.30"/>
<path d="M1518.0,2551.3 L1520.0,2551.2 L1522.0,2551.2 L1524.0,2551.2 L1526.0,2551.2 L1528.0,2551.2 L1530.0,2551.2 L1532.0,2551.2 L1534.0,2551.2 L1536.0,2551.1 L1538.0,2551.1 L1540.0,2551.1 L1542.0,2551.1 L1544.0,2551.1 L1546.0,2551.1 L1548.0,2551.1 L1550.0,2551.1 L1552.0,2551.1 L1554.0,2551.1 L1556.0,2551.1 L1558.0,2551.1 L1560.0,2551.0 L1562.0,2551.0 L1564.0,2551.0 L1566.0,2551.0 L1568.0,2551.0 L1570.0,2551.0 L1572.0,2551.0 L1574.0,2551.0 L1576.0,2551.0 L1578.0,2551.0 L1580.0,2551.0 L1582.0,2550.9" stroke="#ff0000" stroke-width="4.30"/>
<path d="M1578.0,2551.0 L1580.0,2551.0 L1582.0,2550.9 L1584.0,2550.9 L1586.0,2550.9 L1587.0,2550.9 L1588.0,2550.9 L1590.0,2550.9 L1592.0,2550.9 L1594.0,2550.8 L1596.0,2550.8 L1598.0,2550.8 L1600.0,2550.7 L1602.0,2550.7 L1604.0,2550.6 L1606.0,2550.5 L1608.0,2550.5 L1610.0,2550.4 L1612.0,2550.3 L1614.0,2550.3 L1616.0,2550.2 L1618.0,2550.1 L1620.0,2550.0 L1622.0,2549.9 L1624.0,2549.9 L1626.0,2549.8 L1628.0,2549.7 L1630.0,2549.6 L1632.0,2549.5 L1634.0,2549.5 L1636.0,2549.4 L1638.0,2549.3 L1640.0,2549.3 L1642.0,2549.2 L1644.0,2549.1 L1646.0,2549.1 L1647.9,2549.0 L1648.0,2549.0 L1650.0,2548.9 L1652.0,2548.9 L1654.0,2548.8 L1656.0,2548.8 L1658.0,2548.7 L1660.0,2548.7 L1662.0,2548.6 L1664.0,2548.6 L1666.0,2548.5 L1668.0,2548.4 L1670.0,2548.4 L1672.0,2548.3 L1674.0,2548.3 L1676.0,2548.2 L1678.0,2548.2 L1680.0,2548.1 L1682.0,2548.1 L1684.0,2548.0 L1686.0,2548.0 L1688.0,2547.9 L1690.0,2547.9 L1692.0,2547.9 L1694.0,2547.8 L1696.0,2547.8 L1698.0,2547.7 L1700.0,2547.7 L1702.0,2547.6 L1704.0,2547.6 L1706.0,2547.5 L1708.0,2547.5 L1708.7,2547.5 L1710.0,2547.4 L1712.0,2547.4 L1714.0,2547.4 L1716.0,2547.3 L1718.0,2547.3 L1720.0,2547.3 L1722.0,2547.3 L1724.0,2547.3 L1726.0,2547.2 L1728.0,2547.2 L1730.0,2547.2 L1732.0,2547.2 L1734.0,2547.2 L1736.0,2547.1 L1738.0,2547.1 L1740.0,2547.1 L1742.0,2547.0 L1744.0,2547.0 L1746.0,2547.0 L1748.0,2546.9 L1750.0,2546.8 L1752.0,2546.8 L1754.0,2546.7 L1756.0,2546.6 L1758.0,2546.5 L1759.4,2546.5 L1760.0,2546.4 L1762.0,2545.5 L1764.0,2543.9 L1765.5,2542.4 L1766.0,2541.9 L1768.0,2538.9 L1770.0,2534.7 L1770.6,2533.3 L1772.0,2529.1 L1774.0,2521.4 L1775.7,2514.5 L1776.0,2513.2 L1778.0,2504.1 L1779.7,2496.8 L1780.0,2495.8 L1782.0,2488.4 L1783.8,2484.1 L1784.0,2483.8 L1786.0,2481.5 L1788.0,2480.2 L1788.9,2480.0 L1790.0,2480.5 L1792.0,2483.0 L1793.4,2485.6 L1794.0,2487.0 L1796.0,2494.9 L1797.0,2499.3 L1798.0,2504.3 L1800.0,2515.0 L1801.0,2519.6 L1802.0,2523.2 L1804.0,2529.7 L1805.1,2532.3 L1806.0,2534.0 L1808.0,2537.1 L1810.0,2539.2 L1810.2,2539.4 L1812.0,2540.7 L1814.0,2541.9 L1816.0,2542.8 L1817.8,2543.4 L1818.0,2543.5 L1820.0,2544.1 L1822.0,2544.6 L1824.0,2545.0 L1826.0,2545.3 L1827.9,2545.4 L1828.0,2545.4 L1830.0,2545.5 L1832.0,2545.6 L1834.0,2545.6 L1836.0,2545.7 L1838.0,2545.7 L1840.0,2545.8 L1842.0,2545.8 L1844.0,2545.8 L1846.0,2545.9 L1848.0,2545.9 L1850.0,2545.9 L1852.0,2545.9 L1854.0,2545.9 L1856.0,2545.9 L1858.0,2545.9 L1860.0,2546.0 L1860.9,2546.0 L1862.0,2545.9 L1864.0,2545.9 L1866.0,2545.8 L1868.0,2545.7 L1870.0,2545.5 L1872.0,2545.4 L1874.0,2545.2 L1876.0,2545.1 L1878.0,2545.0 L1880.0,2544.9 L1881.2,2544.9 L1882.0,2544.9 L1884.0,2544.9 L1886.0,2544.9 L1888.0,2544.9 L1890.0,2544.9 L1892.0,2544.9 L1894.0,2544.9 L1896.0,2544.9 L1898.0,2544.9 L1900.0,2544.9 L1901.5,2544.9 L1902.0,2544.9 L1904.0,2544.4 L1906.0,2543.7 L1907.5,2543.4 L1908.0,2543.5 L1910.0,2544.4 L1912.0,2545.4 L1912.6,2545.4 L1914.0,2545.4 L1916.0,2545.4 L1918.0,2545.4 L1920.0,2545.4 L1922.0,2545.4 L1924.0,2545.4 L1926.0,2545.4 L1928.0,2545.4 L1930.0,2545.4 L1932.0,2545.4 L1934.0,2545.4 L1936.0,2545.4 L1938.0,2545.4 L1940.0,2545.4 L1942.0,2545.4 L1942.0,2545.4 L1944.0,2545.4 L1946.0,2545.2 L1948.0,2545.0 L1950.0,2544.7 L1952.0,2544.3 L1954.0,2544.0 L1956.0,2543.6 L1957.2,2543.4 L1958.0,2543.3 L1960.0,2543.0 L1962.0,2542.6 L1964.0,2542.2 L1966.0,2541.7 L1967.4,2541.4 L1968.0,2541.2 L1970.0,2540.5 L1972.0,2539.8 L1974.0,2538.9 L1976.0,2537.9 L1978.0,2536.9 L1980.0,2535.8 L1980.1,2535.8 L1982.0,2534.8 L1984.0,2533.6 L1986.0,2532.4 L1987.7,2531.2 L1988.0,2531.0 L1990.0,2529.4 L1992.0,2527.7 L1994.0,2525.8 L1995.3,2524.7 L1996.0,2524.0 L1998.0,2522.2 L2000.0,2520.3 L2002.0,2518.1 L2002.9,2517.0 L2004.0,2515.5 L2006.0,2512.2 L2008.0,2508.6 L2009.0,2506.9 L2010.0,2505.2 L2012.0,2501.8 L2014.0,2498.4 L2016.0,2495.1 L2018.0,2491.9 L2018.1,2491.7 L2020.0,2488.8 L2022.0,2485.7 L2024.0,2482.9 L2025.7,2480.5 L2026.0,2480.2 L2028.0,2477.7 L2030.0,2475.4 L2032.0,2473.1 L2033.3,2471.4 L2034.0,2470.5 L2036.0,2467.6 L2038.0,2464.5 L2039.4,2462.3 L2040.0,2461.3 L2042.0,2458.0 L2043.5,2455.2 L2044.0,2454.0 L2046.0,2448.8 L2047.5,2445.0 L2048.0,2444.0 L2050.0,2440.1 L2051.1,2438.4 L2052.0,2437.2 L2054.0,2434.8 L2056.0,2433.0 L2056.1,2432.9 L2058.0,2431.6 L2060.0,2430.4 L2061.2,2429.8 L2062.0,2429.5 L2064.0,2428.7 L2066.0,2427.9 L2066.3,2427.8 L2068.0,2426.7 L2070.0,2425.2 L2071.4,2424.2 L2072.0,2423.8 L2074.0,2422.4 L2076.0,2420.9 L2078.0,2419.5 L2080.0,2417.9 L2081.5,2416.6 L2082.0,2416.2 L2084.0,2414.2 L2086.0,2412.1 L2088.0,2409.8 L2090.0,2407.5 L2092.0,2405.3 L2094.0,2403.1 L2094.2,2402.9 L2096.0,2401.1 L2098.0,2399.1 L2099.3,2397.9" stroke="#ff0000" stroke-width="4.30"/>
<path d="M430.0,2753.4 L432.0,2753.7 L434.0,2754.0 L436.0,2754.3 L438.0,2754.6 L440.0,2754.9 L442.0,2755.2 L444.0,2755.4 L446.0,2755.6 L448.0,2755.8 L450.0,2755.9 L450.3,2755.9 L452.0,2756.0 L454.0,2756.1 L456.0,2756.2 L458.0,2756.3 L460.0,2756.4 L462.0,2756.5 L464.0,2756.5 L466.0,2756.6 L468.0,2756.7 L470.0,2756.8 L472.0,2756.8 L474.0,2756.9 L476.0,2757.0 L478.0,2757.0 L480.0,2757.1 L482.0,2757.1 L484.0,2757.2 L486.0,2757.2 L488.0,2757.3 L490.0,2757.3 L492.0,2757.3 L494.0,2757.4 L496.0,2757.4 L498.0,2757.4 L500.0,2757.4 L502.0,2757.4 L504.0,2757.4 L506.0,2757.4 L506.1,2757.4 L508.0,2757.4 L510.0,2757.4 L512.0,2757.4 L514.0,2757.4 L516.0,2757.4 L518.0,2757.4 L520.0,2757.4 L522.0,2757.4 L524.0,2757.4 L526.0,2757.4 L528.0,2757.4 L530.0,2757.4 L532.0,2757.4 L534.0,2757.4 L536.0,2757.4 L538.0,2757.4 L540.0,2757.4 L542.0,2757.4 L544.0,2757.4 L546.0,2757.4 L548.0,2757.4 L550.0,2757.4 L552.0,2757.4 L554.0,2757.4 L556.0,2757.4 L558.0,2757.4 L560.0,2757.4 L562.0,2757.4 L564.0,2757.4 L566.0,2757.4 L568.0,2757.4 L570.0,2757.4 L572.0,2757.4 L574.0,2757.4 L576.0,2757.4 L577.1,2757.4 L578.0,2757.4 L580.0,2757.2 L582.0,2756.9 L584.0,2756.6 L586.0,2756.2 L587.2,2755.9 L588.0,2755.8 L590.0,2755.4 L592.0,2754.9 L594.0,2754.4 L596.0,2753.8 L597.4,2753.4 L598.0,2753.2 L600.0,2752.5 L602.0,2751.7 L604.0,2750.9 L606.0,2750.0 L607.5,2749.3 L608.0,2749.1 L610.0,2748.0 L612.0,2746.9 L614.0,2746.1 L615.1,2745.8 L616.0,2745.6 L618.0,2745.3 L620.0,2745.1 L622.0,2744.9 L624.0,2744.8 L625.3,2744.8 L626.0,2744.8 L628.0,2745.7 L630.0,2747.0 L632.0,2748.4 L632.9,2748.8 L634.0,2749.3 L636.0,2750.2 L638.0,2751.0 L639.0,2751.4 L640.0,2751.7 L642.0,2752.3 L643.0,2752.4 L644.0,2752.2 L646.0,2751.5 L648.0,2750.4 L648.1,2750.3 L650.0,2749.1 L652.0,2747.6 L653.2,2746.8 L654.0,2746.2 L656.0,2744.8 L658.0,2743.4 L658.2,2743.2 L660.0,2741.8 L662.0,2740.7 L662.3,2740.7 L664.0,2741.5 L666.0,2743.4 L666.3,2743.7 L668.0,2745.4 L670.0,2747.5 L670.9,2748.3 L672.0,2749.1 L674.0,2750.3 L676.0,2751.3 L677.0,2751.9 L678.0,2752.4 L680.0,2753.5 L682.0,2754.4 L683.6,2754.9 L684.0,2755.0 L686.0,2755.3 L688.0,2755.6 L690.0,2755.8 L692.0,2756.0 L694.0,2756.2 L696.0,2756.3 L698.0,2756.5 L700.0,2756.6 L702.0,2756.8 L703.9,2756.9 L704.0,2756.9 L706.0,2757.1 L708.0,2757.3 L710.0,2757.4 L712.0,2757.5 L714.0,2757.7 L716.0,2757.8 L718.0,2757.9 L720.0,2758.1 L722.0,2758.3 L724.0,2758.4 L724.2,2758.5 L726.0,2758.6 L728.0,2758.9 L730.0,2759.1 L732.0,2759.4 L734.0,2759.7 L736.0,2760.0 L738.0,2760.3 L739.4,2760.5 L740.0,2760.6 L742.0,2760.9 L744.0,2761.3 L746.0,2761.7 L748.0,2761.9 L749.5,2762.0 L750.0,2762.0 L752.0,2761.7 L754.0,2761.3 L755.6,2761.0 L756.0,2760.9 L758.0,2760.5 L760.0,2760.2 L762.0,2760.0 L762.2,2760.0 L764.0,2760.0 L766.0,2760.1 L768.0,2760.2 L770.0,2760.3 L772.0,2760.4 L774.0,2760.6 L776.0,2760.7 L778.0,2760.9 L780.0,2761.0 L780.0,2761.0 L782.0,2761.1 L784.0,2761.2 L786.0,2761.3 L788.0,2761.4 L790.0,2761.5 L792.0,2761.6 L794.0,2761.7 L796.0,2761.7 L798.0,2761.8 L800.0,2761.9 L802.0,2761.9 L804.0,2762.0 L805.3,2762.0 L806.0,2762.0 L808.0,2762.0 L810.0,2762.1 L812.0,2762.1 L814.0,2762.1 L816.0,2762.2 L818.0,2762.2 L820.0,2762.2 L822.0,2762.2 L824.0,2762.3 L826.0,2762.3 L828.0,2762.3 L830.0,2762.3 L832.0,2762.4 L834.0,2762.4 L836.0,2762.4 L838.0,2762.4 L840.0,2762.5 L842.0,2762.5 L844.0,2762.5 L846.0,2762.5 L848.0,2762.6 L850.0,2762.6 L852.0,2762.6 L854.0,2762.6 L856.0,2762.6 L858.0,2762.7 L860.0,2762.7 L862.0,2762.7 L864.0,2762.7 L866.0,2762.7 L868.0,2762.8 L870.0,2762.8 L872.0,2762.8 L874.0,2762.8 L876.0,2762.8 L878.0,2762.9 L880.0,2762.9 L882.0,2762.9 L884.0,2762.9 L886.0,2762.9 L888.0,2762.9 L890.0,2763.0 L892.0,2763.0 L894.0,2763.0 L896.0,2763.0 L898.0,2763.0 L900.0,2763.0 L902.0,2763.1" stroke="#000000" stroke-width="4.00"/>
<path d="M898.0,2763.0 L900.0,2763.0 L902.0,2763.1 L904.0,2763.1 L906.0,2763.1 L908.0,2763.1 L910.0,2763.1 L912.0,2763.1 L914.0,2763.1 L916.0,2763.2 L918.0,2763.2 L920.0,2763.2 L922.0,2763.2 L924.0,2763.2 L926.0,2763.2 L928.0,2763.2 L930.0,2763.2 L932.0,2763.3 L934.0,2763.3 L936.0,2763.3 L938.0,2763.3 L940.0,2763.3 L942.0,2763.3 L944.0,2763.3 L946.0,2763.3 L948.0,2763.3 L950.0,2763.3 L952.0,2763.4 L954.0,2763.4 L956.0,2763.4 L958.0,2763.4 L960.0,2763.4 L962.0,2763.4 L964.0,2763.4 L966.0,2763.4 L968.0,2763.5 L970.0,2763.5 L972.0,2763.5 L974.0,2763.5 L976.0,2763.5 L978.0,2763.5 L980.0,2763.5 L982.0,2763.5 L984.0,2763.5 L986.0,2763.5 L988.0,2763.6 L990.0,2763.6 L992.0,2763.6 L994.0,2763.6 L996.0,2763.6 L998.0,2763.6 L1000.0,2763.6 L1002.0,2763.6" stroke="#000000" stroke-width="4.00"/>
<path d="M998.0,2763.6 L1000.0,2763.6 L1002.0,2763.6 L1004.0,2763.6 L1006.0,2763.6 L1008.0,2763.6 L1010.0,2763.6 L1012.0,2763.6 L1014.0,2763.6 L1016.0,2763.6 L1018.0,2763.7 L1020.0,2763.7 L1022.0,2763.7 L1024.0,2763.7 L1026.0,2763.7 L1028.0,2763.7 L1030.0,2763.7 L1032.0,2763.7 L1034.0,2763.7 L1036.0,2763.7 L1038.0,2763.7 L1040.0,2763.7 L1042.0,2763.7 L1044.0,2763.7 L1046.0,2763.7 L1048.0,2763.7 L1050.0,2763.7 L1052.0,2763.7 L1054.0,2763.7 L1056.0,2763.6 L1058.0,2763.6 L1060.0,2763.6 L1062.0,2763.6 L1064.0,2763.6 L1066.0,2763.6 L1068.0,2763.6 L1070.0,2763.6 L1072.0,2763.6 L1074.0,2763.6 L1076.0,2763.6 L1078.0,2763.6 L1080.0,2763.6 L1082.0,2763.5 L1084.0,2763.5 L1086.0,2763.5 L1088.0,2763.5 L1090.0,2763.5 L1092.0,2763.5 L1094.0,2763.5 L1096.0,2763.5 L1098.0,2763.5 L1100.0,2763.5 L1102.0,2763.5 L1104.0,2763.5 L1106.0,2763.5 L1108.0,2763.5 L1110.0,2763.5 L1112.0,2763.5 L1114.0,2763.5 L1116.0,2763.5 L1118.0,2763.5 L1120.0,2763.5 L1122.0,2763.5 L1124.0,2763.5 L1126.0,2763.5 L1128.0,2763.5 L1130.0,2763.5 L1132.0,2763.5 L1134.0,2763.5 L1136.0,2763.5 L1138.0,2763.5 L1140.0,2763.5 L1142.0,2763.5 L1144.0,2763.5 L1146.0,2763.6 L1148.0,2763.6 L1150.0,2763.6 L1152.0,2763.6 L1154.0,2763.6 L1156.0,2763.6 L1158.0,2763.6 L1160.0,2763.6 L1162.0,2763.6 L1164.0,2763.6 L1166.0,2763.6 L1168.0,2763.6 L1170.0,2763.6 L1172.0,2763.7 L1174.0,2763.7 L1176.0,2763.7 L1178.0,2763.7 L1180.0,2763.7 L1182.0,2763.7 L1184.0,2763.8 L1186.0,2763.9 L1188.0,2764.0 L1190.0,2765.0 L1192.0,2766.0 L1194.0,2765.5 L1196.0,2764.7 L1197.0,2764.5 L1198.0,2764.5 L1200.0,2764.5 L1202.0,2764.5 L1204.0,2764.6 L1206.0,2764.6 L1208.0,2764.7 L1210.0,2764.7 L1212.0,2764.8 L1214.0,2764.8 L1216.0,2764.9 L1218.0,2764.9 L1220.0,2765.0 L1222.0,2765.0 L1224.0,2765.0 L1225.0,2765.0 L1226.0,2765.0 L1228.0,2764.7 L1230.0,2764.3 L1232.0,2763.9 L1234.0,2763.6 L1235.0,2763.5 L1236.0,2763.5 L1238.0,2763.4 L1240.0,2763.3 L1242.0,2763.3 L1244.0,2763.2 L1246.0,2763.2 L1248.0,2763.1 L1250.0,2763.1 L1252.0,2763.1 L1254.0,2763.0 L1256.0,2763.0 L1258.0,2763.0 L1260.0,2763.0 L1262.0,2763.0 L1264.0,2763.0 L1266.0,2763.1 L1268.0,2763.2 L1270.0,2763.2 L1272.0,2763.3 L1274.0,2763.4 L1276.0,2763.5 L1278.0,2763.6 L1280.0,2763.7 L1282.0,2763.8 L1284.0,2763.9 L1286.0,2763.9 L1288.0,2764.0 L1290.0,2764.0 L1292.0,2764.0 L1294.0,2764.0 L1296.0,2764.0 L1298.0,2764.0 L1300.0,2764.0 L1302.0,2764.0 L1304.0,2764.1 L1306.0,2764.1 L1308.0,2764.1 L1310.0,2764.1 L1312.0,2764.1 L1314.0,2764.1 L1316.0,2764.1 L1318.0,2764.1 L1320.0,2764.1 L1322.0,2764.1 L1324.0,2764.1 L1326.0,2764.1 L1328.0,2764.1 L1330.0,2764.2 L1332.0,2764.2 L1334.0,2764.2 L1336.0,2764.2 L1338.0,2764.2 L1340.0,2764.2 L1342.0,2764.2 L1344.0,2764.2 L1346.0,2764.2 L1348.0,2764.2 L1350.0,2764.2 L1352.0,2764.2 L1354.0,2764.2 L1356.0,2764.2 L1358.0,2764.2 L1360.0,2764.2 L1362.0,2764.2 L1364.0,2764.3 L1366.0,2764.3 L1368.0,2764.3 L1370.0,2764.3 L1372.0,2764.3 L1374.0,2764.3 L1376.0,2764.3 L1378.0,2764.3 L1380.0,2764.3 L1382.0,2764.3 L1384.0,2764.3 L1386.0,2764.3 L1388.0,2764.3 L1390.0,2764.3 L1392.0,2764.3 L1394.0,2764.3 L1396.0,2764.3 L1398.0,2764.3 L1400.0,2764.3 L1402.0,2764.3 L1404.0,2764.3 L1406.0,2764.4 L1408.0,2764.4 L1410.0,2764.4 L1412.0,2764.4 L1414.0,2764.4 L1416.0,2764.4 L1418.0,2764.4 L1420.0,2764.4 L1422.0,2764.4 L1424.0,2764.4 L1426.0,2764.4 L1428.0,2764.4 L1430.0,2764.4 L1432.0,2764.4 L1434.0,2764.4 L1436.0,2764.4 L1438.0,2764.4 L1440.0,2764.4 L1442.0,2764.4 L1444.0,2764.4 L1446.0,2764.4 L1448.0,2764.4 L1450.0,2764.4 L1452.0,2764.4 L1454.0,2764.4 L1456.0,2764.4 L1458.0,2764.4 L1460.0,2764.4 L1462.0,2764.4 L1464.0,2764.4 L1466.0,2764.4 L1468.0,2764.4 L1470.0,2764.4 L1472.0,2764.4 L1474.0,2764.5 L1476.0,2764.5 L1478.0,2764.5 L1480.0,2764.5 L1482.0,2764.5 L1484.0,2764.5 L1486.0,2764.5 L1488.0,2764.5 L1490.0,2764.5 L1492.0,2764.5 L1494.0,2764.5 L1496.0,2764.5 L1498.0,2764.5 L1500.0,2764.5 L1502.0,2764.5 L1504.0,2764.5 L1506.0,2764.5 L1508.0,2764.5 L1510.0,2764.5 L1512.0,2764.5 L1514.0,2764.5 L1516.0,2764.5 L1518.0,2764.5 L1520.0,2764.5 L1522.0,2764.5" stroke="#000000" stroke-width="4.00"/>
<path d="M1518.0,2764.5 L1520.0,2764.5 L1522.0,2764.5 L1524.0,2764.5 L1526.0,2764.5 L1528.0,2764.5 L1530.0,2764.5 L1532.0,2764.5 L1534.0,2764.5 L1536.0,2764.5 L1538.0,2764.5 L1540.0,2764.5 L1542.0,2764.5 L1544.0,2764.5 L1546.0,2764.5 L1548.0,2764.5 L1550.0,2764.5 L1552.0,2764.5 L1554.0,2764.5 L1556.0,2764.5 L1558.0,2764.5 L1560.0,2764.4 L1562.0,2764.4 L1564.0,2764.4 L1566.0,2764.4 L1568.0,2764.4 L1570.0,2764.4 L1572.0,2764.4 L1574.0,2764.4 L1576.0,2764.4 L1578.0,2764.4 L1580.0,2764.4 L1582.0,2764.4" stroke="#000000" stroke-width="4.00"/>
<path d="M1578.0,2764.4 L1580.0,2764.4 L1582.0,2764.4 L1584.0,2764.4 L1586.0,2764.4 L1587.0,2764.4 L1588.0,2764.4 L1590.0,2764.4 L1592.0,2764.3 L1594.0,2764.3 L1596.0,2764.3 L1598.0,2764.3 L1600.0,2764.2 L1602.0,2764.2 L1604.0,2764.1 L1606.0,2764.1 L1608.0,2764.0 L1610.0,2763.9 L1612.0,2763.9 L1614.0,2763.8 L1616.0,2763.7 L1618.0,2763.7 L1620.0,2763.6 L1622.0,2763.5 L1624.0,2763.5 L1626.0,2763.4 L1628.0,2763.3 L1630.0,2763.3 L1632.0,2763.2 L1634.0,2763.1 L1636.0,2763.1 L1637.7,2763.0 L1638.0,2763.0 L1640.0,2763.0 L1642.0,2762.9 L1644.0,2762.9 L1646.0,2762.8 L1648.0,2762.7 L1650.0,2762.7 L1652.0,2762.6 L1654.0,2762.6 L1656.0,2762.5 L1658.0,2762.5 L1660.0,2762.4 L1662.0,2762.4 L1664.0,2762.3 L1666.0,2762.2 L1668.0,2762.2 L1670.0,2762.1 L1672.0,2762.1 L1674.0,2762.0 L1676.0,2762.0 L1678.0,2761.9 L1680.0,2761.8 L1682.0,2761.8 L1684.0,2761.7 L1686.0,2761.7 L1688.0,2761.6 L1690.0,2761.6 L1692.0,2761.5 L1694.0,2761.4 L1696.0,2761.4 L1698.0,2761.3 L1700.0,2761.3 L1702.0,2761.2 L1704.0,2761.1 L1706.0,2761.1 L1708.0,2761.0 L1708.7,2761.0 L1710.0,2761.0 L1712.0,2760.9 L1714.0,2760.9 L1716.0,2760.8 L1718.0,2760.8 L1720.0,2760.7 L1722.0,2760.7 L1724.0,2760.7 L1726.0,2760.6 L1728.0,2760.6 L1730.0,2760.6 L1732.0,2760.5 L1734.0,2760.5 L1736.0,2760.4 L1738.0,2760.4 L1740.0,2760.3 L1742.0,2760.3 L1744.0,2760.2 L1746.0,2760.1 L1748.0,2760.0 L1750.0,2759.9 L1752.0,2759.8 L1754.0,2759.7 L1756.0,2759.5 L1756.9,2759.5 L1758.0,2759.3 L1760.0,2758.6 L1762.0,2757.6 L1763.0,2756.9 L1764.0,2756.1 L1766.0,2753.6 L1767.6,2750.8 L1768.0,2749.8 L1770.0,2742.8 L1771.6,2735.6 L1772.0,2733.8 L1774.0,2723.0 L1775.7,2712.8 L1776.0,2710.7 L1778.0,2696.5 L1779.7,2684.9 L1780.0,2683.3 L1782.0,2671.7 L1783.8,2664.6 L1784.0,2664.1 L1786.0,2659.9 L1788.0,2657.3 L1788.9,2657.0 L1790.0,2657.5 L1792.0,2660.4 L1792.9,2662.1 L1794.0,2665.3 L1796.0,2674.8 L1796.5,2677.3 L1798.0,2687.4 L1800.0,2702.5 L1800.0,2702.7 L1802.0,2717.9 L1803.6,2728.0 L1804.0,2730.1 L1806.0,2738.7 L1807.6,2743.2 L1808.0,2744.0 L1810.0,2747.1 L1812.0,2749.3 L1812.7,2749.8 L1814.0,2750.8 L1816.0,2752.1 L1818.0,2753.1 L1820.0,2753.8 L1820.3,2753.9 L1822.0,2754.3 L1824.0,2754.8 L1826.0,2755.2 L1828.0,2755.6 L1830.0,2756.0 L1832.0,2756.3 L1834.0,2756.5 L1836.0,2756.7 L1838.0,2756.9 L1840.0,2756.9 L1840.6,2756.9 L1842.0,2756.9 L1844.0,2756.9 L1846.0,2756.8 L1848.0,2756.8 L1850.0,2756.7 L1852.0,2756.6 L1854.0,2756.5 L1856.0,2756.4 L1858.0,2756.3 L1860.0,2756.2 L1862.0,2756.1 L1864.0,2756.1 L1866.0,2756.0 L1868.0,2755.9 L1870.0,2755.9 L1871.0,2755.9 L1872.0,2755.9 L1874.0,2756.0 L1876.0,2756.0 L1878.0,2756.1 L1880.0,2756.2 L1882.0,2756.3 L1884.0,2756.5 L1886.0,2756.6 L1888.0,2756.7 L1890.0,2756.9 L1891.3,2756.9 L1892.0,2757.0 L1894.0,2757.1 L1896.0,2757.2 L1898.0,2757.4 L1900.0,2757.6 L1902.0,2757.7 L1904.0,2757.9 L1906.0,2758.0 L1908.0,2758.2 L1910.0,2758.3 L1912.0,2758.4 L1914.0,2758.4 L1916.0,2758.5 L1916.7,2758.5 L1918.0,2758.5 L1920.0,2758.5 L1922.0,2758.5 L1924.0,2758.5 L1926.0,2758.5 L1928.0,2758.5 L1930.0,2758.5 L1932.0,2758.5 L1934.0,2758.5 L1936.0,2758.5 L1938.0,2758.5 L1940.0,2758.5 L1942.0,2758.5 L1942.0,2758.5 L1944.0,2758.4 L1946.0,2758.3 L1948.0,2758.0 L1950.0,2757.7 L1952.0,2757.4 L1954.0,2757.0 L1956.0,2756.7 L1957.2,2756.4 L1958.0,2756.3 L1960.0,2755.8 L1962.0,2755.3 L1964.0,2754.6 L1966.0,2753.9 L1967.4,2753.4 L1968.0,2753.1 L1970.0,2752.2 L1972.0,2751.1 L1974.0,2750.0 L1976.0,2748.8 L1977.5,2747.8 L1978.0,2747.5 L1980.0,2746.3 L1982.0,2745.0 L1984.0,2743.6 L1986.0,2742.1 L1987.7,2740.7 L1988.0,2740.4 L1990.0,2738.5 L1992.0,2736.4 L1994.0,2734.0 L1996.0,2731.6 L1996.8,2730.6 L1998.0,2729.0 L2000.0,2726.3 L2002.0,2723.3 L2004.0,2720.2 L2005.4,2717.9 L2006.0,2716.9 L2008.0,2713.1 L2010.0,2709.1 L2012.0,2705.2 L2012.0,2705.2 L2014.0,2701.8 L2016.0,2698.5 L2018.0,2695.2 L2018.1,2695.1 L2020.0,2691.9 L2022.0,2688.6 L2024.0,2685.2 L2025.7,2682.4 L2026.0,2681.9 L2028.0,2678.6 L2030.0,2675.4 L2032.0,2672.0 L2033.3,2669.7 L2034.0,2668.4 L2036.0,2664.5 L2038.0,2660.5 L2040.0,2656.4 L2040.9,2654.5 L2042.0,2652.3 L2044.0,2648.3 L2046.0,2644.3 L2048.0,2640.3 L2048.5,2639.3 L2050.0,2636.3 L2052.0,2632.1 L2053.6,2629.1 L2054.0,2628.5 L2056.0,2625.1 L2058.0,2622.2 L2058.7,2621.5 L2060.0,2620.3 L2062.0,2618.9 L2063.8,2618.0 L2064.0,2617.9 L2066.0,2617.3 L2068.0,2616.8 L2068.8,2616.4 L2070.0,2615.7 L2072.0,2613.5 L2074.0,2611.0 L2074.9,2609.9 L2076.0,2608.5 L2078.0,2605.8 L2080.0,2603.1 L2081.5,2601.2 L2082.0,2600.7 L2084.0,2598.5 L2086.0,2596.5 L2088.0,2594.5 L2090.0,2592.6 L2092.0,2590.7 L2094.0,2588.7 L2094.2,2588.5 L2096.0,2586.7 L2098.0,2584.7 L2099.3,2583.5" stroke="#000000" stroke-width="4.00"/>
</g>
<rect x="434" y="1658" width="1660" height="1197" fill="none" stroke="#000" stroke-width="4.8"/>
<path d="M434.0,2855v25.5 M526.2,2855v14 M618.4,2855v25.5 M710.7,2855v14 M802.9,2855v25.5 M895.1,2855v14 M987.3,2855v25.5 M1079.6,2855v14 M1171.8,2855v25.5 M1264.0,2855v14 M1356.2,2855v25.5 M1448.4,2855v14 M1540.7,2855v25.5 M1632.9,2855v14 M1725.1,2855v25.5 M1817.3,2855v14 M1909.6,2855v25.5 M2001.8,2855v14 M2094.0,2855v25.5" stroke="#000" stroke-width="4.5" fill="none"/>
<text transform="translate(371.66,2934.70) scale(1.0401,1)" font-family='"Liberation Sans", sans-serif' font-size="53.50" fill="#000">3200</text>
<text transform="translate(556.11,2934.70) scale(1.0401,1)" font-family='"Liberation Sans", sans-serif' font-size="53.50" fill="#000">3000</text>
<text transform="translate(739.84,2934.70) scale(1.0462,1)" font-family='"Liberation Sans", sans-serif' font-size="53.50" fill="#000">2800</text>
<text transform="translate(924.28,2934.70) scale(1.0462,1)" font-family='"Liberation Sans", sans-serif' font-size="53.50" fill="#000">2600</text>
<text transform="translate(1108.73,2934.70) scale(1.0462,1)" font-family='"Liberation Sans", sans-serif' font-size="53.50" fill="#000">2400</text>
<text transform="translate(1293.17,2934.70) scale(1.0462,1)" font-family='"Liberation Sans", sans-serif' font-size="53.50" fill="#000">2200</text>
<text transform="translate(1477.62,2934.70) scale(1.0462,1)" font-family='"Liberation Sans", sans-serif' font-size="53.50" fill="#000">2000</text>
<text transform="translate(1660.61,2934.70) scale(1.0586,1)" font-family='"Liberation Sans", sans-serif' font-size="53.50" fill="#000">1800</text>
<text transform="translate(1845.06,2934.70) scale(1.0586,1)" font-family='"Liberation Sans", sans-serif' font-size="53.50" fill="#000">1600</text>
<text transform="translate(2029.50,2934.70) scale(1.0586,1)" font-family='"Liberation Sans", sans-serif' font-size="53.50" fill="#000">1400</text>
<text transform="translate(962.35,3040.20) scale(1.0613,1)" font-family='"Liberation Sans", sans-serif' font-size="65.50" fill="#000">Wavenumber (cm</text>
<text transform="translate(1507.47,3016.20) scale(0.8922,1)" font-family='"Liberation Sans", sans-serif' font-size="43.00" fill="#000">-1</text>
<text transform="translate(1547.20,3040.20) scale(1.0140,1)" font-family='"Liberation Sans", sans-serif' font-size="65.50" fill="#000">)</text>
<text transform="translate(571.00,1718.40) scale(1.0826,1)" font-family='"Liberation Sans", sans-serif' font-size="65.50" fill="#000">C-H</text>
<text transform="translate(1716.35,1724.50) scale(1.0845,1)" font-family='"Liberation Sans", sans-serif' font-size="65.50" fill="#000">C=O</text>
<text transform="translate(1155.49,1870.00) scale(1.0747,1)" font-family='"Liberation Sans", sans-serif' font-size="65.50" fill="#000">PS100</text>
<text transform="translate(1039.84,2085.30) scale(1.0650,1)" font-family='"Liberation Sans", sans-serif' font-size="65.50" fill="#000">PS75PMMA25</text>
<text transform="translate(1040.92,2316.40) scale(1.0703,1)" font-family='"Liberation Sans", sans-serif' font-size="65.50" fill="#000">PS50PMMA50</text>
<text transform="translate(1040.93,2527.40) scale(1.0683,1)" font-family='"Liberation Sans", sans-serif' font-size="65.50" fill="#000">PS25PMMA75</text>
<text transform="translate(1115.90,2734.80) scale(1.0726,1)" font-family='"Liberation Sans", sans-serif' font-size="65.50" fill="#000">PMMA100</text>
<text transform="translate(443.75,1758.31) scale(0.8007,0.6467)" font-family='"Liberation Serif", serif' font-size="100" fill="#000">ν</text>
<text transform="translate(477.02,1780.26) scale(1.1405,1)" font-family='"Liberation Sans", sans-serif' font-size="45.00" fill="#000">aromatic</text>
<text transform="translate(758.19,1759.30) scale(0.8838,0.6683)" font-family='"Liberation Serif", serif' font-size="100" fill="#000">ν</text>
<text transform="translate(798.08,1780.26) scale(1.1333,1)" font-family='"Liberation Sans", sans-serif' font-size="45.00" fill="#000">aliphatic</text>
<line x1="520.3" y1="1804.6" x2="564.5" y2="1847.1" stroke="#000" stroke-width="4.8"/>
<polygon points="584.7,1866.5 554.7,1851.5 568.5,1837.1" fill="#000"/>
<line x1="801.8" y1="1808.2" x2="776.5" y2="1851.0" stroke="#000" stroke-width="4.8"/>
<polygon points="762.2,1875.1 769.9,1842.5 787.1,1852.6" fill="#000"/>
<text transform="translate(470.63,2640.89) scale(0.8007,0.6683)" font-family='"Liberation Serif", serif' font-size="100" fill="#000">ν</text>
<text transform="translate(504.49,2664.38) scale(1.1581,1)" font-family='"Liberation Sans", sans-serif' font-size="45.00" fill="#000">CH3</text>
<text transform="translate(699.86,2640.85) scale(0.8600,0.7007)" font-family='"Liberation Serif", serif' font-size="100" fill="#000">ν</text>
<text transform="translate(737.85,2663.36) scale(1.1330,1)" font-family='"Liberation Sans", sans-serif' font-size="45.00" fill="#000">CH2</text>
<line x1="547.7" y1="2679.6" x2="592.3" y2="2722.2" stroke="#000" stroke-width="4.8"/>
<polygon points="612.6,2741.5 582.5,2726.6 596.3,2712.2" fill="#000"/>
<line x1="723.2" y1="2670.5" x2="692.5" y2="2708.5" stroke="#000" stroke-width="4.8"/>
<polygon points="675.0,2730.3 687.2,2699.1 702.8,2711.7" fill="#000"/>
<text transform="translate(1842.10,2631.43) scale(0.8140,0.6745)" font-family='"Liberation Serif", serif' font-size="100" fill="#000">ν</text>
<text transform="translate(1878.64,2653.22) scale(1.1242,1)" font-family='"Liberation Sans", sans-serif' font-size="45.00" fill="#000">C=O</text>
<line x1="1851.8" y1="2641.6" x2="1830.4" y2="2661.8" stroke="#000" stroke-width="4.8"/>
<polygon points="1810.2,2681.1 1826.5,2651.8 1840.2,2666.3" fill="#000"/>
<text font-family='"Liberation Sans", sans-serif' font-size="80.00" fill="#000"><tspan x="18.70" y="2885.50" textLength="24.50" lengthAdjust="spacingAndGlyphs">(</tspan><tspan x="50.52" y="2888.40" textLength="42.64" lengthAdjust="spacingAndGlyphs">b</tspan><tspan x="102.18" y="2885.50" textLength="23.25" lengthAdjust="spacingAndGlyphs">)</tspan></text>
<clipPath id="clipc"><rect x="434" y="3326" width="1660" height="1196.6000000000004"/></clipPath>
<rect x="544.8" y="3326.0" width="272.5" height="1196.6" fill="#ffff7a"/>
<rect x="1740.5" y="3326.0" width="104.7" height="1196.6" fill="#c8c8c8"/>
<rect x="1571.2" y="3326.0" width="169.8" height="101.0" fill="#c8c8c8"/>
<g clip-path="url(#clipc)" fill="none" stroke-linejoin="round" stroke-linecap="round">
<path d="M430.0,3617.4 L432.0,3617.4 L434.0,3617.5 L436.0,3617.6 L438.0,3617.7 L440.0,3617.7 L442.0,3617.8 L444.0,3617.9 L446.0,3618.0 L448.0,3618.0 L450.0,3618.1 L452.0,3618.2 L454.0,3618.3 L456.0,3618.3 L458.0,3618.4 L460.0,3618.5 L462.0,3618.5 L464.0,3618.6 L466.0,3618.7 L468.0,3618.7 L470.0,3618.8 L472.0,3618.8 L474.0,3618.9 L476.0,3619.0 L478.0,3619.0 L480.0,3619.1 L482.0,3619.1 L484.0,3619.1 L486.0,3619.2 L488.0,3619.2 L490.0,3619.3 L492.0,3619.3 L494.0,3619.3 L496.0,3619.3 L498.0,3619.3 L500.0,3619.4 L502.0,3619.4 L504.0,3619.4 L506.0,3619.4 L506.1,3619.4 L508.0,3619.4 L510.0,3619.4 L512.0,3619.4 L514.0,3619.4 L516.0,3619.4 L518.0,3619.4 L520.0,3619.4 L522.0,3619.4 L524.0,3619.4 L526.0,3619.4 L528.0,3619.4 L530.0,3619.4 L532.0,3619.4 L534.0,3619.4 L536.0,3619.4 L538.0,3619.4 L540.0,3619.4 L542.0,3619.4 L544.0,3619.4 L546.0,3619.4 L548.0,3619.4 L550.0,3619.4 L552.0,3619.4 L554.0,3619.4 L556.0,3619.4 L558.0,3619.4 L560.0,3619.4 L562.0,3619.4 L564.0,3619.4 L566.0,3619.4 L568.0,3619.4 L570.0,3619.4 L572.0,3619.4 L574.0,3619.4 L576.0,3619.4 L578.0,3619.4 L580.0,3619.4 L582.0,3619.4 L584.0,3619.4 L586.0,3619.4 L588.0,3619.4 L590.0,3619.4 L592.0,3619.4 L594.0,3619.4 L596.0,3619.4 L598.0,3619.4 L600.0,3619.4 L602.0,3619.4 L604.0,3619.4 L606.0,3619.4 L607.5,3619.4 L608.0,3619.4 L610.0,3619.2 L612.0,3618.8 L614.0,3618.4 L616.0,3617.8 L617.7,3617.4 L618.0,3617.3 L620.0,3616.6 L622.0,3615.8 L624.0,3614.9 L625.3,3614.3 L626.0,3613.9 L628.0,3612.7 L630.0,3611.4 L632.0,3609.9 L632.9,3609.2 L634.0,3608.4 L636.0,3606.9 L638.0,3605.4 L640.0,3603.7 L642.0,3601.7 L643.0,3600.6 L644.0,3599.4 L646.0,3596.2 L648.0,3592.5 L650.0,3589.0 L650.6,3587.9 L652.0,3585.8 L654.0,3582.7 L655.7,3580.3 L656.0,3579.9 L658.0,3577.4 L660.0,3575.3 L660.8,3574.7 L662.0,3574.0 L664.0,3573.1 L665.8,3572.7 L666.0,3572.7 L668.0,3573.2 L670.0,3574.0 L670.4,3574.2 L672.0,3575.4 L674.0,3577.3 L674.5,3577.8 L676.0,3579.4 L678.0,3581.6 L680.0,3583.9 L682.0,3586.2 L683.6,3587.9 L684.0,3588.4 L686.0,3590.5 L688.0,3592.5 L690.0,3594.5 L691.2,3595.5 L692.0,3596.2 L694.0,3597.9 L696.0,3599.4 L698.0,3600.7 L698.8,3601.1 L700.0,3601.7 L702.0,3602.7 L704.0,3603.6 L706.0,3604.1 L706.4,3604.2 L708.0,3604.3 L710.0,3604.4 L712.0,3604.5 L714.0,3604.7 L714.0,3604.7 L716.0,3605.5 L718.0,3607.0 L719.1,3607.7 L720.0,3608.3 L722.0,3609.9 L724.0,3610.8 L724.2,3610.8 L726.0,3610.0 L728.0,3608.0 L729.2,3606.7 L730.0,3605.9 L732.0,3603.6 L733.3,3602.1 L734.0,3601.4 L736.0,3599.4 L737.4,3598.6 L738.0,3598.4 L740.0,3598.1 L740.4,3598.1 L742.0,3598.8 L744.0,3600.7 L744.5,3601.1 L746.0,3602.7 L748.0,3605.1 L748.5,3605.7 L750.0,3607.3 L752.0,3609.5 L754.0,3611.7 L754.6,3612.3 L756.0,3613.8 L758.0,3616.0 L759.7,3617.4 L760.0,3617.5 L762.0,3618.6 L764.0,3619.4 L766.0,3620.0 L767.3,3620.4 L768.0,3620.6 L770.0,3621.1 L772.0,3621.5 L774.0,3621.8 L774.9,3621.9 L776.0,3622.0 L778.0,3622.1 L780.0,3622.3 L782.0,3622.4 L784.0,3622.5 L786.0,3622.6 L788.0,3622.7 L790.0,3622.7 L792.0,3622.8 L794.0,3622.9 L796.0,3622.9 L798.0,3623.0 L800.0,3623.1 L802.0,3623.1 L804.0,3623.2 L806.0,3623.2 L808.0,3623.3 L810.0,3623.3 L812.0,3623.3 L814.0,3623.4 L815.5,3623.4 L816.0,3623.5 L818.0,3623.5 L820.0,3623.6 L822.0,3623.6 L824.0,3623.7 L826.0,3623.7 L828.0,3623.8 L830.0,3623.8 L832.0,3623.9 L834.0,3623.9 L836.0,3624.0 L838.0,3624.1 L840.0,3624.1 L842.0,3624.2 L844.0,3624.2 L846.0,3624.3 L848.0,3624.3 L850.0,3624.4 L852.0,3624.4 L854.0,3624.5 L856.0,3624.5 L858.0,3624.6 L860.0,3624.7 L862.0,3624.7 L864.0,3624.8 L866.0,3624.8 L868.0,3624.9 L870.0,3624.9 L872.0,3625.0 L874.0,3625.0 L876.0,3625.1 L878.0,3625.1 L880.0,3625.2 L882.0,3625.2 L884.0,3625.3 L886.0,3625.3 L888.0,3625.4 L890.0,3625.4 L892.0,3625.5 L894.0,3625.5 L896.0,3625.6 L898.0,3625.6 L900.0,3625.7 L902.0,3625.7" stroke="#008c00" stroke-width="5.10"/>
<path d="M898.0,3625.6 L900.0,3625.7 L902.0,3625.7 L904.0,3625.8 L906.0,3625.8 L908.0,3625.9 L910.0,3625.9 L912.0,3626.0 L914.0,3626.0 L916.0,3626.0 L918.0,3626.1 L920.0,3626.1 L922.0,3626.2 L924.0,3626.2 L926.0,3626.3 L928.0,3626.3 L930.0,3626.4 L932.0,3626.4 L934.0,3626.4 L936.0,3626.5 L938.0,3626.5 L940.0,3626.5 L942.0,3626.6 L944.0,3626.6 L946.0,3626.7 L948.0,3626.7 L950.0,3626.7 L952.0,3626.8 L954.0,3626.8 L956.0,3626.8 L958.0,3626.9 L960.0,3626.9 L962.0,3627.0 L964.0,3627.0 L966.0,3627.0 L968.0,3627.0 L970.0,3627.1 L972.0,3627.1 L974.0,3627.1 L976.0,3627.2 L978.0,3627.2 L980.0,3627.2 L982.0,3627.3 L984.0,3627.3 L986.0,3627.3 L988.0,3627.3 L990.0,3627.4 L992.0,3627.4 L994.0,3627.4 L996.0,3627.4 L998.0,3627.4 L1000.0,3627.5 L1002.0,3627.5" stroke="#008c00" stroke-width="4.72"/>
<path d="M998.0,3627.4 L1000.0,3627.5 L1002.0,3627.5 L1004.0,3627.5 L1006.0,3627.5 L1008.0,3627.5 L1010.0,3627.5 L1012.0,3627.5 L1014.0,3627.6 L1016.0,3627.6 L1018.0,3627.6 L1020.0,3627.6 L1022.0,3627.6 L1024.0,3627.6 L1026.0,3627.6 L1028.0,3627.6 L1030.0,3627.6 L1032.0,3627.6 L1034.0,3627.6 L1036.0,3627.6 L1038.0,3627.6 L1040.0,3627.6 L1042.0,3627.6 L1044.0,3627.6 L1046.0,3627.6 L1048.0,3627.6 L1050.0,3627.6 L1052.0,3627.6 L1054.0,3627.6 L1056.0,3627.6 L1058.0,3627.6 L1060.0,3627.5 L1062.0,3627.5 L1064.0,3627.5 L1066.0,3627.5 L1068.0,3627.5 L1070.0,3627.5 L1072.0,3627.5 L1074.0,3627.5 L1076.0,3627.5 L1078.0,3627.5 L1080.0,3627.5 L1082.0,3627.4 L1084.0,3627.4 L1086.0,3627.4 L1088.0,3627.4 L1090.0,3627.4 L1092.0,3627.4 L1094.0,3627.4 L1096.0,3627.4 L1098.0,3627.4 L1100.0,3627.4 L1102.0,3627.4 L1104.0,3627.4 L1106.0,3627.4 L1108.0,3627.4 L1110.0,3627.4 L1112.0,3627.4 L1114.0,3627.4 L1116.0,3627.4 L1118.0,3627.4 L1120.0,3627.4 L1122.0,3627.4 L1124.0,3627.4 L1126.0,3627.4 L1128.0,3627.4 L1130.0,3627.4 L1132.0,3627.4 L1134.0,3627.4 L1136.0,3627.4 L1138.0,3627.4 L1140.0,3627.5 L1142.0,3627.5 L1144.0,3627.5 L1146.0,3627.5 L1148.0,3627.5 L1150.0,3627.5 L1152.0,3627.5 L1154.0,3627.5 L1156.0,3627.5 L1158.0,3627.5 L1160.0,3627.5 L1162.0,3627.6 L1164.0,3627.6 L1166.0,3627.6 L1168.0,3627.6 L1170.0,3627.6 L1172.0,3627.6 L1174.0,3627.6 L1176.0,3627.7 L1178.0,3627.7 L1180.0,3627.7 L1182.0,3627.8 L1184.0,3628.1 L1186.0,3628.5 L1188.0,3628.8 L1190.0,3628.9 L1192.0,3628.4 L1194.0,3627.5 L1196.0,3626.9 L1198.0,3626.7 L1200.0,3626.5 L1202.0,3626.4 L1204.0,3626.2 L1206.0,3626.1 L1208.0,3626.0 L1210.0,3626.0 L1212.0,3625.9 L1214.0,3625.9 L1215.0,3625.9 L1216.0,3625.9 L1218.0,3625.9 L1220.0,3625.9 L1222.0,3626.0 L1224.0,3626.0 L1226.0,3626.0 L1228.0,3626.1 L1230.0,3626.1 L1232.0,3626.2 L1234.0,3626.2 L1236.0,3626.3 L1238.0,3626.3 L1240.0,3626.4 L1242.0,3626.5 L1244.0,3626.6 L1246.0,3626.8 L1248.0,3626.9 L1250.0,3627.1 L1252.0,3627.3 L1254.0,3627.5 L1256.0,3627.6 L1258.0,3627.8 L1260.0,3627.9 L1262.0,3628.0 L1264.0,3628.1 L1266.0,3628.2 L1268.0,3628.3 L1270.0,3628.4 L1272.0,3628.5 L1274.0,3628.5 L1276.0,3628.6 L1278.0,3628.7 L1280.0,3628.7 L1282.0,3628.8 L1284.0,3628.8 L1286.0,3628.9 L1288.0,3628.9 L1290.0,3628.9 L1292.0,3628.9 L1294.0,3628.9 L1296.0,3628.9 L1298.0,3628.9 L1300.0,3628.9 L1302.0,3628.9 L1304.0,3628.9 L1306.0,3628.9 L1308.0,3628.9 L1310.0,3628.9 L1312.0,3628.9 L1314.0,3628.9 L1316.0,3628.9 L1318.0,3628.9 L1320.0,3628.9 L1322.0,3628.9 L1324.0,3628.9 L1326.0,3628.9 L1328.0,3628.9 L1330.0,3628.9 L1332.0,3628.9 L1334.0,3628.9 L1336.0,3628.9 L1338.0,3628.9 L1340.0,3628.9 L1342.0,3628.9 L1344.0,3628.9 L1346.0,3628.9 L1348.0,3628.9 L1350.0,3628.9 L1352.0,3628.9 L1354.0,3628.9 L1356.0,3628.9 L1358.0,3628.9 L1360.0,3628.9 L1362.0,3628.9 L1364.0,3628.9 L1366.0,3628.9 L1368.0,3628.9 L1370.0,3628.9 L1372.0,3628.8 L1374.0,3628.8 L1376.0,3628.8 L1378.0,3628.8 L1380.0,3628.8 L1382.0,3628.8 L1384.0,3628.8 L1386.0,3628.8 L1388.0,3628.8 L1390.0,3628.8 L1392.0,3628.8 L1394.0,3628.8 L1396.0,3628.8 L1398.0,3628.8 L1400.0,3628.8 L1402.0,3628.8 L1404.0,3628.8 L1406.0,3628.8 L1408.0,3628.8 L1410.0,3628.8 L1412.0,3628.8 L1414.0,3628.8 L1416.0,3628.8 L1418.0,3628.8 L1420.0,3628.8 L1422.0,3628.8 L1424.0,3628.8 L1426.0,3628.8 L1428.0,3628.8 L1430.0,3628.8 L1432.0,3628.8 L1434.0,3628.8 L1436.0,3628.8 L1438.0,3628.7 L1440.0,3628.7 L1442.0,3628.7 L1444.0,3628.7 L1446.0,3628.7 L1448.0,3628.7 L1450.0,3628.7 L1452.0,3628.7 L1454.0,3628.7 L1456.0,3628.7 L1458.0,3628.7 L1460.0,3628.7 L1462.0,3628.7 L1464.0,3628.7 L1466.0,3628.7 L1468.0,3628.7 L1470.0,3628.7 L1472.0,3628.7 L1474.0,3628.7 L1476.0,3628.7 L1478.0,3628.7 L1480.0,3628.7 L1482.0,3628.7 L1484.0,3628.7 L1486.0,3628.6 L1488.0,3628.6 L1490.0,3628.6 L1492.0,3628.6 L1494.0,3628.6 L1496.0,3628.6 L1498.0,3628.6 L1500.0,3628.6 L1502.0,3628.6 L1504.0,3628.6 L1506.0,3628.6 L1508.0,3628.6 L1510.0,3628.6 L1512.0,3628.6 L1514.0,3628.6 L1516.0,3628.6 L1518.0,3628.6 L1520.0,3628.6 L1522.0,3628.6" stroke="#008c00" stroke-width="4.33"/>
<path d="M1518.0,3628.6 L1520.0,3628.6 L1522.0,3628.6 L1524.0,3628.6 L1526.0,3628.6 L1528.0,3628.5 L1530.0,3628.5 L1532.0,3628.5 L1534.0,3628.5 L1536.0,3628.5 L1538.0,3628.5 L1540.0,3628.5 L1542.0,3628.5 L1544.0,3628.5 L1546.0,3628.5 L1548.0,3628.5 L1550.0,3628.5 L1552.0,3628.5 L1554.0,3628.5 L1556.0,3628.4 L1558.0,3628.4 L1560.0,3628.4 L1562.0,3628.4 L1564.0,3628.4 L1566.0,3628.4 L1568.0,3628.4 L1570.0,3628.4 L1572.0,3628.4 L1574.0,3628.4 L1576.0,3628.4 L1578.0,3628.3 L1580.0,3628.3 L1582.0,3628.3" stroke="#008c00" stroke-width="4.72"/>
<path d="M1578.0,3628.3 L1580.0,3628.3 L1582.0,3628.3 L1584.0,3628.3 L1586.0,3628.3 L1587.0,3628.3 L1588.0,3628.3 L1590.0,3628.3 L1592.0,3628.3 L1594.0,3628.3 L1596.0,3628.3 L1598.0,3628.3 L1600.0,3628.2 L1602.0,3628.2 L1604.0,3628.2 L1606.0,3628.2 L1608.0,3628.2 L1610.0,3628.2 L1612.0,3628.2 L1614.0,3628.2 L1616.0,3628.2 L1618.0,3628.1 L1620.0,3628.1 L1622.0,3628.1 L1624.0,3628.1 L1626.0,3628.1 L1628.0,3628.1 L1630.0,3628.1 L1632.0,3628.1 L1634.0,3628.0 L1636.0,3628.0 L1637.7,3628.0 L1638.0,3628.0 L1640.0,3628.0 L1642.0,3628.0 L1644.0,3628.0 L1646.0,3627.9 L1648.0,3627.9 L1650.0,3627.9 L1652.0,3627.9 L1654.0,3627.8 L1656.0,3627.8 L1658.0,3627.8 L1660.0,3627.7 L1662.0,3627.7 L1664.0,3627.7 L1666.0,3627.6 L1668.0,3627.6 L1670.0,3627.5 L1672.0,3627.5 L1674.0,3627.4 L1676.0,3627.4 L1678.0,3627.3 L1680.0,3627.3 L1682.0,3627.2 L1684.0,3627.2 L1686.0,3627.1 L1688.0,3627.0 L1690.0,3627.0 L1692.0,3626.9 L1694.0,3626.8 L1696.0,3626.7 L1698.0,3626.7 L1700.0,3626.6 L1702.0,3626.5 L1704.0,3626.4 L1706.0,3626.3 L1708.0,3626.2 L1710.0,3626.2 L1712.0,3626.1 L1713.8,3626.0 L1714.0,3626.0 L1716.0,3625.8 L1718.0,3625.7 L1720.0,3625.5 L1722.0,3625.3 L1724.0,3625.1 L1726.0,3624.9 L1728.0,3624.6 L1730.0,3624.3 L1732.0,3624.0 L1734.0,3623.7 L1736.0,3623.4 L1738.0,3623.1 L1739.2,3622.9 L1740.0,3622.8 L1742.0,3622.5 L1744.0,3622.1 L1746.0,3621.7 L1748.0,3621.2 L1749.3,3620.9 L1750.0,3620.7 L1752.0,3620.0 L1754.0,3619.2 L1756.0,3618.2 L1758.0,3617.2 L1759.4,3616.3 L1760.0,3616.0 L1762.0,3614.7 L1764.0,3612.9 L1764.5,3612.3 L1766.0,3609.6 L1768.0,3603.9 L1769.6,3598.1 L1770.0,3596.3 L1772.0,3584.8 L1773.6,3572.7 L1774.0,3569.8 L1776.0,3550.1 L1777.2,3537.2 L1778.0,3528.5 L1780.0,3505.6 L1780.7,3496.6 L1782.0,3480.9 L1784.0,3454.8 L1784.3,3451.0 L1786.0,3428.4 L1787.8,3405.3 L1788.0,3403.6 L1790.0,3381.5 L1790.9,3374.9 L1792.0,3369.4 L1793.4,3365.8 L1794.0,3367.1 L1795.5,3377.5 L1796.0,3383.7 L1797.5,3410.4 L1798.0,3421.9 L1799.5,3461.1 L1800.0,3473.6 L1801.5,3511.9 L1802.0,3522.1 L1803.6,3552.4 L1804.0,3558.8 L1806.0,3582.1 L1806.1,3582.9 L1808.0,3594.0 L1809.1,3598.1 L1810.0,3600.2 L1812.0,3604.1 L1814.0,3606.9 L1815.2,3608.2 L1816.0,3608.9 L1818.0,3610.5 L1820.0,3611.7 L1822.0,3612.8 L1822.8,3613.3 L1824.0,3614.0 L1826.0,3615.0 L1828.0,3616.1 L1830.0,3617.1 L1830.4,3617.4 L1832.0,3618.2 L1834.0,3619.4 L1836.0,3620.5 L1838.0,3621.4 L1838.1,3621.4 L1840.0,3622.1 L1842.0,3622.8 L1844.0,3623.3 L1845.7,3623.4 L1846.0,3623.4 L1848.0,3623.4 L1850.0,3623.3 L1852.0,3623.2 L1854.0,3623.0 L1856.0,3622.9 L1858.0,3622.7 L1860.0,3622.5 L1860.9,3622.4 L1862.0,3622.3 L1864.0,3622.1 L1866.0,3621.8 L1868.0,3621.6 L1870.0,3621.3 L1872.0,3621.1 L1874.0,3621.0 L1876.0,3620.9 L1876.1,3620.9 L1878.0,3620.9 L1880.0,3621.1 L1882.0,3621.3 L1884.0,3621.5 L1886.0,3621.8 L1888.0,3622.0 L1890.0,3622.3 L1891.3,3622.4 L1892.0,3622.5 L1894.0,3622.7 L1896.0,3623.0 L1898.0,3623.2 L1900.0,3623.5 L1902.0,3623.8 L1904.0,3624.0 L1906.0,3624.2 L1908.0,3624.3 L1910.0,3624.4 L1911.6,3624.5 L1912.0,3624.5 L1914.0,3624.5 L1916.0,3624.5 L1918.0,3624.5 L1920.0,3624.5 L1922.0,3624.5 L1924.0,3624.5 L1926.0,3624.5 L1928.0,3624.5 L1930.0,3624.5 L1932.0,3624.5 L1934.0,3624.5 L1936.0,3624.5 L1938.0,3624.5 L1940.0,3624.5 L1942.0,3624.5 L1942.0,3624.5 L1944.0,3624.4 L1946.0,3624.3 L1948.0,3624.0 L1950.0,3623.7 L1952.0,3623.4 L1954.0,3623.0 L1956.0,3622.7 L1957.2,3622.4 L1958.0,3622.3 L1960.0,3621.8 L1962.0,3621.2 L1964.0,3620.6 L1966.0,3619.9 L1967.4,3619.4 L1968.0,3619.2 L1970.0,3618.4 L1972.0,3617.5 L1974.0,3616.6 L1976.0,3615.6 L1977.5,3614.8 L1978.0,3614.6 L1980.0,3613.4 L1982.0,3612.2 L1984.0,3610.9 L1986.0,3609.5 L1987.7,3608.2 L1988.0,3608.0 L1990.0,3606.4 L1992.0,3604.6 L1994.0,3602.8 L1996.0,3600.9 L1997.8,3599.1 L1998.0,3598.9 L2000.0,3597.0 L2002.0,3595.0 L2004.0,3592.8 L2006.0,3590.5 L2008.0,3587.9 L2008.0,3587.9 L2010.0,3584.7 L2012.0,3580.9 L2014.0,3576.9 L2014.0,3576.8 L2016.0,3572.5 L2018.0,3567.9 L2018.1,3567.6 L2020.0,3563.5 L2022.0,3559.4 L2022.2,3559.0 L2024.0,3555.3 L2025.7,3552.4 L2026.0,3552.1 L2028.0,3549.9 L2030.0,3548.1 L2030.8,3547.4 L2032.0,3546.3 L2034.0,3544.8 L2035.9,3543.3 L2036.0,3543.2 L2038.0,3541.3 L2040.0,3539.3 L2042.0,3537.2 L2043.5,3535.7 L2044.0,3535.1 L2046.0,3533.0 L2048.0,3530.8 L2050.0,3528.4 L2051.1,3527.1 L2052.0,3525.8 L2054.0,3522.8 L2056.0,3519.6 L2057.7,3516.9 L2058.0,3516.4 L2060.0,3513.2 L2062.0,3509.9 L2063.8,3506.8 L2064.0,3506.3 L2066.0,3502.1 L2068.0,3497.5 L2068.8,3495.6 L2070.0,3492.8 L2072.0,3487.9 L2073.9,3484.0 L2074.0,3483.8 L2076.0,3480.7 L2076.9,3479.9 L2078.0,3479.4 L2080.0,3478.9 L2080.0,3478.9 L2082.0,3478.9 L2084.0,3478.9 L2086.0,3478.9 L2086.6,3478.9 L2088.0,3477.9 L2090.0,3474.8 L2090.6,3473.8 L2092.0,3471.9 L2094.0,3469.0 L2094.2,3468.7 L2096.0,3466.3 L2098.0,3463.7 L2099.3,3462.2" stroke="#008c00" stroke-width="5.10"/>
<path d="M430.0,3816.7 L432.0,3816.7 L434.0,3816.8 L436.0,3816.8 L438.0,3816.9 L440.0,3816.9 L442.0,3817.0 L444.0,3817.0 L446.0,3817.1 L448.0,3817.1 L450.0,3817.2 L452.0,3817.2 L454.0,3817.3 L456.0,3817.3 L458.0,3817.4 L460.0,3817.4 L462.0,3817.5 L464.0,3817.5 L466.0,3817.6 L468.0,3817.6 L470.0,3817.6 L472.0,3817.7 L474.0,3817.7 L476.0,3817.8 L478.0,3817.8 L480.0,3817.8 L482.0,3817.9 L484.0,3817.9 L486.0,3817.9 L488.0,3818.0 L490.0,3818.0 L492.0,3818.0 L494.0,3818.1 L496.0,3818.1 L498.0,3818.1 L500.0,3818.1 L502.0,3818.2 L504.0,3818.2 L506.0,3818.2 L506.1,3818.2 L508.0,3818.2 L510.0,3818.2 L512.0,3818.3 L514.0,3818.3 L516.0,3818.3 L518.0,3818.3 L520.0,3818.3 L522.0,3818.4 L524.0,3818.4 L526.0,3818.4 L528.0,3818.4 L530.0,3818.4 L532.0,3818.4 L534.0,3818.5 L536.0,3818.5 L538.0,3818.5 L540.0,3818.5 L542.0,3818.5 L544.0,3818.5 L546.0,3818.6 L548.0,3818.6 L550.0,3818.6 L552.0,3818.6 L554.0,3818.6 L556.0,3818.6 L558.0,3818.6 L560.0,3818.6 L562.0,3818.7 L564.0,3818.7 L566.0,3818.7 L568.0,3818.7 L570.0,3818.7 L572.0,3818.7 L574.0,3818.7 L576.0,3818.7 L578.0,3818.7 L580.0,3818.7 L582.0,3818.7 L582.2,3818.7 L584.0,3818.7 L586.0,3818.6 L588.0,3818.5 L590.0,3818.4 L592.0,3818.3 L594.0,3818.1 L596.0,3818.0 L598.0,3817.8 L599.9,3817.7 L600.0,3817.7 L602.0,3817.5 L604.0,3817.4 L606.0,3817.3 L608.0,3817.1 L610.0,3816.9 L612.0,3816.7 L612.6,3816.7 L614.0,3816.5 L616.0,3816.3 L618.0,3816.0 L620.0,3815.6 L622.0,3815.3 L624.0,3814.9 L625.3,3814.6 L626.0,3814.5 L628.0,3814.1 L630.0,3813.6 L632.0,3813.0 L632.9,3812.6 L634.0,3812.0 L636.0,3810.4 L638.0,3808.4 L639.0,3807.5 L640.0,3806.6 L642.0,3804.9 L644.0,3803.0 L645.6,3801.5 L646.0,3801.0 L648.0,3798.5 L650.0,3796.0 L650.6,3795.4 L652.0,3794.1 L654.0,3792.4 L655.7,3791.3 L656.0,3791.2 L658.0,3790.1 L660.0,3789.4 L660.8,3789.3 L662.0,3789.3 L664.0,3789.3 L665.8,3789.3 L666.0,3789.3 L668.0,3789.7 L670.0,3790.5 L672.0,3791.6 L673.4,3792.3 L674.0,3792.6 L676.0,3793.6 L678.0,3794.7 L680.0,3795.8 L682.0,3797.0 L683.6,3797.9 L684.0,3798.1 L686.0,3799.4 L688.0,3800.6 L690.0,3801.8 L692.0,3803.0 L693.7,3804.0 L694.0,3804.1 L696.0,3805.1 L698.0,3806.1 L700.0,3807.0 L701.3,3807.5 L702.0,3807.8 L704.0,3808.8 L706.0,3809.7 L708.0,3810.4 L709.0,3810.6 L710.0,3810.7 L712.0,3810.9 L714.0,3811.0 L716.0,3811.1 L718.0,3811.2 L720.0,3811.4 L721.6,3811.6 L722.0,3811.7 L724.0,3812.8 L725.7,3813.6 L726.0,3813.7 L728.0,3814.1 L729.2,3814.1 L730.0,3813.9 L732.0,3812.2 L732.8,3811.6 L734.0,3810.9 L736.0,3809.9 L736.8,3809.6 L738.0,3809.2 L740.0,3808.8 L741.9,3808.6 L742.0,3808.6 L744.0,3809.2 L746.0,3810.5 L747.0,3811.1 L748.0,3811.7 L750.0,3812.9 L752.0,3814.1 L752.1,3814.1 L754.0,3815.4 L756.0,3816.7 L758.0,3817.9 L758.7,3818.2 L760.0,3818.9 L762.0,3819.8 L764.0,3820.5 L764.7,3820.7 L766.0,3821.0 L768.0,3821.4 L770.0,3821.7 L772.0,3821.9 L774.0,3822.1 L774.9,3822.3 L776.0,3822.4 L778.0,3822.6 L780.0,3822.9 L782.0,3823.1 L784.0,3823.2 L785.0,3823.3 L786.0,3823.3 L788.0,3823.3 L790.0,3823.4 L792.0,3823.4 L794.0,3823.4 L796.0,3823.5 L798.0,3823.5 L800.0,3823.5 L802.0,3823.5 L804.0,3823.6 L806.0,3823.6 L808.0,3823.6 L810.0,3823.6 L812.0,3823.6 L814.0,3823.6 L816.0,3823.7 L818.0,3823.7 L820.0,3823.7 L822.0,3823.7 L824.0,3823.7 L825.6,3823.8 L826.0,3823.8 L828.0,3823.8 L830.0,3823.9 L832.0,3823.9 L834.0,3824.0 L836.0,3824.0 L838.0,3824.1 L840.0,3824.1 L842.0,3824.2 L844.0,3824.2 L846.0,3824.3 L848.0,3824.4 L850.0,3824.4 L852.0,3824.5 L854.0,3824.6 L856.0,3824.6 L858.0,3824.7 L860.0,3824.8 L862.0,3824.9 L864.0,3824.9 L866.0,3825.0 L868.0,3825.1 L870.0,3825.1 L872.0,3825.2 L874.0,3825.3 L876.0,3825.3 L878.0,3825.4 L880.0,3825.4 L882.0,3825.5 L884.0,3825.6 L886.0,3825.6 L888.0,3825.7 L890.0,3825.7 L892.0,3825.7 L894.0,3825.8 L896.0,3825.8 L896.6,3825.8 L898.0,3825.8 L900.0,3825.8 L902.0,3825.9" stroke="#ff00ff" stroke-width="5.20"/>
<path d="M898.0,3825.8 L900.0,3825.8 L902.0,3825.9 L904.0,3825.9 L906.0,3825.9 L908.0,3825.9 L910.0,3826.0 L912.0,3826.0 L914.0,3826.0 L916.0,3826.0 L918.0,3826.1 L920.0,3826.1 L922.0,3826.1 L924.0,3826.1 L926.0,3826.2 L928.0,3826.2 L930.0,3826.2 L932.0,3826.2 L934.0,3826.2 L936.0,3826.3 L938.0,3826.3 L940.0,3826.3 L942.0,3826.3 L944.0,3826.3 L946.0,3826.4 L948.0,3826.4 L950.0,3826.4 L952.0,3826.4 L954.0,3826.5 L956.0,3826.5 L958.0,3826.5 L960.0,3826.6 L962.0,3826.6 L964.0,3826.6 L966.0,3826.7 L968.0,3826.7 L970.0,3826.7 L972.0,3826.8 L974.0,3826.8 L976.0,3826.8 L978.0,3826.8 L980.0,3826.9 L982.0,3826.9 L984.0,3826.9 L986.0,3826.9 L988.0,3827.0 L990.0,3827.0 L992.0,3827.0 L994.0,3827.0 L996.0,3827.1 L998.0,3827.1 L1000.0,3827.1 L1002.0,3827.1" stroke="#ff00ff" stroke-width="4.81"/>
<path d="M998.0,3827.1 L1000.0,3827.1 L1002.0,3827.1 L1004.0,3827.2 L1006.0,3827.2 L1008.0,3827.2 L1010.0,3827.2 L1012.0,3827.2 L1014.0,3827.3 L1016.0,3827.3 L1018.0,3827.3 L1020.0,3827.3 L1022.0,3827.3 L1024.0,3827.4 L1026.0,3827.4 L1028.0,3827.4 L1030.0,3827.4 L1032.0,3827.4 L1034.0,3827.4 L1036.0,3827.4 L1038.0,3827.4 L1040.0,3827.5 L1042.0,3827.5 L1044.0,3827.5 L1046.0,3827.5 L1048.0,3827.5 L1050.0,3827.5 L1052.0,3827.5 L1054.0,3827.5 L1056.0,3827.5 L1058.0,3827.5 L1060.0,3827.5 L1062.0,3827.5 L1064.0,3827.5 L1066.0,3827.5 L1068.0,3827.5 L1070.0,3827.5 L1072.0,3827.5 L1074.0,3827.5 L1076.0,3827.5 L1078.0,3827.5 L1080.0,3827.5 L1082.0,3827.5 L1084.0,3827.4 L1086.0,3827.4 L1088.0,3827.4 L1090.0,3827.4 L1092.0,3827.4 L1094.0,3827.4 L1096.0,3827.4 L1098.0,3827.4 L1100.0,3827.4 L1102.0,3827.4 L1104.0,3827.4 L1106.0,3827.4 L1108.0,3827.4 L1110.0,3827.4 L1112.0,3827.4 L1114.0,3827.4 L1116.0,3827.4 L1118.0,3827.4 L1120.0,3827.4 L1122.0,3827.4 L1124.0,3827.4 L1126.0,3827.4 L1128.0,3827.4 L1130.0,3827.4 L1132.0,3827.4 L1134.0,3827.4 L1136.0,3827.5 L1138.0,3827.5 L1140.0,3827.5 L1142.0,3827.5 L1144.0,3827.5 L1146.0,3827.5 L1148.0,3827.5 L1150.0,3827.5 L1152.0,3827.5 L1154.0,3827.5 L1156.0,3827.5 L1158.0,3827.5 L1160.0,3827.5 L1162.0,3827.5 L1164.0,3827.6 L1166.0,3827.6 L1168.0,3827.6 L1170.0,3827.6 L1172.0,3827.6 L1174.0,3827.6 L1176.0,3827.6 L1178.0,3827.6 L1180.0,3827.6 L1182.0,3827.6 L1184.0,3827.6 L1186.0,3827.7 L1188.0,3827.7 L1190.0,3827.7 L1192.0,3827.7 L1194.0,3827.7 L1196.0,3827.7 L1198.0,3827.7 L1200.0,3827.7 L1202.0,3827.7 L1204.0,3827.7 L1206.0,3827.8 L1208.0,3827.8 L1210.0,3827.8 L1212.0,3827.8 L1214.0,3827.8 L1216.0,3827.8 L1218.0,3827.8 L1220.0,3827.8 L1222.0,3827.8 L1224.0,3827.9 L1226.0,3827.9 L1228.0,3827.9 L1230.0,3827.9 L1232.0,3827.9 L1234.0,3827.9 L1236.0,3827.9 L1238.0,3827.9 L1240.0,3827.9 L1242.0,3827.9 L1244.0,3828.0 L1246.0,3828.0 L1248.0,3828.0 L1250.0,3828.0 L1252.0,3828.0 L1254.0,3828.0 L1256.0,3828.0 L1258.0,3828.0 L1260.0,3828.0 L1262.0,3828.0 L1264.0,3828.1 L1266.0,3828.1 L1268.0,3828.1 L1270.0,3828.1 L1272.0,3828.1 L1274.0,3828.1 L1276.0,3828.1 L1278.0,3828.1 L1280.0,3828.1 L1282.0,3828.1 L1284.0,3828.1 L1286.0,3828.2 L1288.0,3828.2 L1290.0,3828.2 L1292.0,3828.2 L1294.0,3828.2 L1296.0,3828.2 L1298.0,3828.2 L1300.0,3828.2 L1302.0,3828.2 L1304.0,3828.2 L1306.0,3828.2 L1308.0,3828.2 L1310.0,3828.2 L1312.0,3828.2 L1314.0,3828.2 L1316.0,3828.3 L1318.0,3828.3 L1320.0,3828.3 L1322.0,3828.3 L1324.0,3828.3 L1326.0,3828.3 L1328.0,3828.3 L1330.0,3828.3 L1332.0,3828.3 L1334.0,3828.3 L1336.0,3828.3 L1338.0,3828.3 L1340.0,3828.3 L1342.0,3828.3 L1344.0,3828.3 L1346.0,3828.3 L1348.0,3828.4 L1350.0,3828.4 L1352.0,3828.4 L1354.0,3828.4 L1356.0,3828.4 L1358.0,3828.4 L1360.0,3828.4 L1362.0,3828.4 L1364.0,3828.4 L1366.0,3828.4 L1368.0,3828.4 L1370.0,3828.4 L1372.0,3828.4 L1374.0,3828.4 L1376.0,3828.4 L1378.0,3828.5 L1380.0,3828.5 L1382.0,3828.5 L1384.0,3828.5 L1386.0,3828.5 L1388.0,3828.5 L1390.0,3828.5 L1392.0,3828.5 L1394.0,3828.5 L1396.0,3828.5 L1398.0,3828.5 L1400.0,3828.5 L1402.0,3828.5 L1404.0,3828.5 L1406.0,3828.5 L1408.0,3828.6 L1410.0,3828.6 L1412.0,3828.6 L1414.0,3828.6 L1416.0,3828.6 L1418.0,3828.6 L1420.0,3828.6 L1422.0,3828.6 L1424.0,3828.6 L1426.0,3828.6 L1428.0,3828.6 L1430.0,3828.6 L1432.0,3828.6 L1434.0,3828.6 L1436.0,3828.6 L1438.0,3828.6 L1440.0,3828.7 L1442.0,3828.7 L1444.0,3828.7 L1446.0,3828.7 L1448.0,3828.7 L1450.0,3828.7 L1452.0,3828.7 L1454.0,3828.7 L1456.0,3828.7 L1458.0,3828.7 L1460.0,3828.7 L1462.0,3828.7 L1464.0,3828.7 L1466.0,3828.7 L1468.0,3828.7 L1470.0,3828.7 L1472.0,3828.7 L1474.0,3828.7 L1476.0,3828.7 L1478.0,3828.8 L1480.0,3828.8 L1482.0,3828.8 L1484.0,3828.8 L1486.0,3828.8 L1488.0,3828.8 L1490.0,3828.8 L1492.0,3828.8 L1494.0,3828.8 L1496.0,3828.8 L1498.0,3828.8 L1500.0,3828.8 L1502.0,3828.8 L1504.0,3828.8 L1506.0,3828.8 L1508.0,3828.8 L1510.0,3828.8 L1512.0,3828.8 L1514.0,3828.8 L1516.0,3828.8 L1518.0,3828.8 L1520.0,3828.8 L1522.0,3828.8" stroke="#ff00ff" stroke-width="4.42"/>
<path d="M1518.0,3828.8 L1520.0,3828.8 L1522.0,3828.8 L1524.0,3828.8 L1526.0,3828.8 L1528.0,3828.9 L1530.0,3828.9 L1532.0,3828.9 L1534.0,3828.9 L1536.0,3828.9 L1538.0,3828.9 L1540.0,3828.9 L1542.0,3828.9 L1544.0,3828.8 L1546.0,3828.8 L1548.0,3828.8 L1550.0,3828.8 L1552.0,3828.8 L1554.0,3828.8 L1556.0,3828.7 L1558.0,3828.7 L1560.0,3828.7 L1562.0,3828.7 L1564.0,3828.7 L1566.0,3828.6 L1568.0,3828.6 L1570.0,3828.6 L1572.0,3828.6 L1574.0,3828.6 L1576.0,3828.6 L1578.0,3828.5 L1580.0,3828.5 L1582.0,3828.5" stroke="#ff00ff" stroke-width="4.81"/>
<path d="M1578.0,3828.5 L1580.0,3828.5 L1582.0,3828.5 L1584.0,3828.5 L1586.0,3828.5 L1587.0,3828.5 L1588.0,3828.4 L1590.0,3828.4 L1592.0,3828.4 L1594.0,3828.4 L1596.0,3828.3 L1598.0,3828.3 L1600.0,3828.3 L1602.0,3828.2 L1604.0,3828.2 L1606.0,3828.2 L1608.0,3828.1 L1610.0,3828.1 L1612.0,3828.0 L1614.0,3828.0 L1616.0,3827.9 L1618.0,3827.9 L1620.0,3827.8 L1622.0,3827.8 L1624.0,3827.7 L1626.0,3827.7 L1628.0,3827.6 L1630.0,3827.6 L1632.0,3827.5 L1634.0,3827.4 L1636.0,3827.4 L1637.7,3827.3 L1638.0,3827.3 L1640.0,3827.3 L1642.0,3827.2 L1644.0,3827.2 L1646.0,3827.1 L1648.0,3827.1 L1650.0,3827.0 L1652.0,3827.0 L1654.0,3826.9 L1656.0,3826.9 L1658.0,3826.8 L1660.0,3826.7 L1662.0,3826.7 L1664.0,3826.6 L1666.0,3826.5 L1668.0,3826.4 L1670.0,3826.3 L1672.0,3826.3 L1674.0,3826.2 L1676.0,3826.1 L1678.0,3826.0 L1680.0,3825.9 L1682.0,3825.8 L1684.0,3825.7 L1686.0,3825.6 L1688.0,3825.5 L1690.0,3825.5 L1692.0,3825.4 L1694.0,3825.3 L1696.0,3825.2 L1698.0,3825.1 L1700.0,3825.0 L1702.0,3824.9 L1704.0,3824.8 L1706.0,3824.7 L1708.0,3824.6 L1710.0,3824.5 L1712.0,3824.4 L1713.8,3824.3 L1714.0,3824.3 L1716.0,3824.2 L1718.0,3824.1 L1720.0,3824.0 L1722.0,3823.9 L1724.0,3823.8 L1726.0,3823.6 L1728.0,3823.5 L1730.0,3823.4 L1732.0,3823.3 L1734.0,3823.1 L1736.0,3823.0 L1738.0,3822.8 L1739.2,3822.8 L1740.0,3822.7 L1742.0,3822.5 L1744.0,3822.4 L1746.0,3822.2 L1748.0,3821.9 L1749.3,3821.7 L1750.0,3821.6 L1752.0,3821.1 L1754.0,3820.4 L1756.0,3819.5 L1758.0,3818.4 L1758.4,3818.2 L1760.0,3817.2 L1762.0,3815.6 L1764.0,3813.3 L1764.5,3812.6 L1766.0,3809.7 L1768.0,3803.5 L1768.6,3801.5 L1770.0,3794.7 L1772.0,3782.0 L1772.1,3781.2 L1774.0,3765.5 L1775.7,3750.7 L1776.0,3748.1 L1778.0,3732.7 L1779.7,3720.3 L1780.0,3718.5 L1782.0,3705.0 L1783.8,3694.9 L1784.0,3693.9 L1786.0,3685.2 L1787.3,3681.3 L1788.0,3680.0 L1790.0,3677.3 L1790.4,3677.2 L1792.0,3678.9 L1793.4,3682.3 L1794.0,3684.2 L1796.0,3696.4 L1796.5,3700.0 L1798.0,3717.1 L1799.0,3730.5 L1800.0,3744.6 L1801.5,3766.0 L1802.0,3771.4 L1804.0,3790.9 L1804.1,3791.3 L1806.0,3799.6 L1807.6,3804.0 L1808.0,3804.8 L1810.0,3808.4 L1812.0,3810.9 L1812.7,3811.6 L1814.0,3812.7 L1816.0,3814.0 L1818.0,3815.1 L1820.0,3816.0 L1820.3,3816.2 L1822.0,3816.8 L1824.0,3817.5 L1826.0,3818.1 L1828.0,3818.6 L1830.0,3819.1 L1830.4,3819.2 L1832.0,3819.6 L1834.0,3820.0 L1836.0,3820.5 L1838.0,3820.9 L1840.0,3821.2 L1842.0,3821.5 L1844.0,3821.7 L1845.7,3821.7 L1846.0,3821.7 L1848.0,3821.7 L1850.0,3821.4 L1852.0,3821.2 L1854.0,3820.8 L1856.0,3820.5 L1858.0,3820.1 L1860.0,3819.8 L1860.9,3819.7 L1862.0,3819.6 L1864.0,3819.3 L1866.0,3819.1 L1868.0,3818.8 L1870.0,3818.6 L1872.0,3818.4 L1874.0,3818.2 L1876.0,3818.2 L1876.1,3818.2 L1878.0,3818.3 L1880.0,3818.4 L1882.0,3818.7 L1884.0,3819.0 L1886.0,3819.4 L1888.0,3819.7 L1890.0,3820.0 L1891.3,3820.2 L1892.0,3820.3 L1894.0,3820.6 L1896.0,3820.9 L1898.0,3821.3 L1900.0,3821.6 L1902.0,3821.9 L1904.0,3822.2 L1906.0,3822.4 L1908.0,3822.6 L1910.0,3822.7 L1911.6,3822.8 L1912.0,3822.8 L1914.0,3822.8 L1916.0,3822.7 L1918.0,3822.7 L1920.0,3822.7 L1922.0,3822.6 L1924.0,3822.6 L1926.0,3822.5 L1928.0,3822.4 L1930.0,3822.3 L1932.0,3822.3 L1934.0,3822.2 L1936.0,3822.1 L1938.0,3822.0 L1940.0,3821.9 L1942.0,3821.7 L1942.0,3821.7 L1944.0,3821.6 L1946.0,3821.4 L1948.0,3821.2 L1950.0,3820.9 L1952.0,3820.6 L1954.0,3820.3 L1956.0,3819.9 L1957.2,3819.7 L1958.0,3819.6 L1960.0,3819.1 L1962.0,3818.5 L1964.0,3817.8 L1966.0,3817.2 L1967.4,3816.7 L1968.0,3816.5 L1970.0,3815.8 L1972.0,3815.0 L1974.0,3814.2 L1976.0,3813.3 L1977.5,3812.6 L1978.0,3812.4 L1980.0,3811.4 L1982.0,3810.2 L1984.0,3809.0 L1986.0,3807.7 L1987.7,3806.5 L1988.0,3806.3 L1990.0,3804.8 L1992.0,3803.2 L1994.0,3801.5 L1996.0,3799.7 L1997.8,3797.9 L1998.0,3797.7 L2000.0,3795.7 L2002.0,3793.6 L2004.0,3791.4 L2006.0,3788.9 L2008.0,3786.2 L2008.0,3786.2 L2010.0,3783.0 L2012.0,3779.2 L2014.0,3775.2 L2015.6,3772.0 L2016.0,3771.2 L2018.0,3766.9 L2020.0,3762.4 L2022.0,3758.1 L2023.2,3755.8 L2024.0,3754.3 L2026.0,3750.8 L2028.0,3747.5 L2030.0,3744.4 L2032.0,3741.2 L2033.3,3739.1 L2034.0,3738.0 L2036.0,3734.7 L2038.0,3731.4 L2040.0,3728.2 L2042.0,3725.0 L2043.5,3722.8 L2044.0,3722.1 L2046.0,3719.2 L2048.0,3716.4 L2050.0,3713.8 L2052.0,3711.2 L2053.6,3709.2 L2054.0,3708.7 L2056.0,3706.5 L2058.0,3704.4 L2060.0,3702.3 L2062.0,3700.0 L2063.8,3697.5 L2064.0,3697.1 L2066.0,3693.0 L2068.0,3688.2 L2069.8,3683.8 L2070.0,3683.4 L2072.0,3678.7 L2073.9,3674.7 L2074.0,3674.5 L2076.0,3671.1 L2078.0,3668.6 L2078.0,3668.5 L2080.0,3666.7 L2081.5,3665.5 L2082.0,3665.2 L2084.0,3663.8 L2086.0,3662.4 L2086.6,3662.0 L2088.0,3660.8 L2090.0,3658.8 L2092.0,3656.8 L2094.0,3654.6 L2094.2,3654.4 L2096.0,3652.3 L2098.0,3649.9 L2099.3,3648.3" stroke="#ff00ff" stroke-width="5.20"/>
<path d="M430.0,3999.7 L432.0,3999.8 L434.0,3999.9 L436.0,3999.9 L438.0,4000.0 L440.0,4000.1 L442.0,4000.2 L444.0,4000.3 L446.0,4000.4 L448.0,4000.4 L450.0,4000.5 L452.0,4000.6 L454.0,4000.7 L456.0,4000.7 L458.0,4000.8 L460.0,4000.9 L462.0,4001.0 L464.0,4001.0 L466.0,4001.1 L468.0,4001.2 L470.0,4001.2 L472.0,4001.3 L474.0,4001.4 L476.0,4001.4 L478.0,4001.5 L480.0,4001.6 L482.0,4001.6 L484.0,4001.7 L486.0,4001.7 L488.0,4001.8 L490.0,4001.9 L492.0,4001.9 L494.0,4002.0 L496.0,4002.0 L498.0,4002.0 L500.0,4002.1 L502.0,4002.1 L504.0,4002.2 L506.0,4002.2 L506.1,4002.2 L508.0,4002.3 L510.0,4002.3 L512.0,4002.3 L514.0,4002.4 L516.0,4002.4 L518.0,4002.4 L520.0,4002.5 L522.0,4002.5 L524.0,4002.6 L526.0,4002.6 L528.0,4002.6 L530.0,4002.7 L532.0,4002.7 L534.0,4002.7 L536.0,4002.8 L538.0,4002.8 L540.0,4002.8 L542.0,4002.9 L544.0,4002.9 L546.0,4002.9 L548.0,4003.0 L550.0,4003.0 L552.0,4003.0 L554.0,4003.0 L556.0,4003.1 L558.0,4003.1 L560.0,4003.1 L562.0,4003.1 L564.0,4003.2 L566.0,4003.2 L568.0,4003.2 L570.0,4003.2 L572.0,4003.2 L574.0,4003.2 L576.0,4003.2 L578.0,4003.2 L580.0,4003.2 L582.0,4003.2 L582.2,4003.2 L584.0,4003.2 L586.0,4003.1 L588.0,4002.9 L590.0,4002.6 L592.0,4002.4 L593.3,4002.2 L594.0,4002.1 L596.0,4001.9 L598.0,4001.5 L600.0,4001.2 L602.0,4000.8 L602.4,4000.7 L604.0,4000.3 L606.0,3999.8 L608.0,3999.2 L610.0,3998.7 L610.1,3998.7 L612.0,3998.2 L614.0,3997.7 L616.0,3997.3 L617.7,3997.1 L618.0,3997.1 L620.0,3997.1 L622.0,3997.0 L624.0,3997.0 L626.0,3996.9 L628.0,3996.9 L630.0,3996.9 L632.0,3996.9 L634.0,3996.8 L636.0,3996.8 L638.0,3996.7 L640.0,3996.7 L640.5,3996.6 L642.0,3996.4 L644.0,3995.6 L646.0,3994.6 L647.1,3994.1 L648.0,3993.6 L650.0,3992.5 L652.0,3991.2 L653.2,3990.6 L654.0,3990.1 L656.0,3989.1 L658.0,3988.1 L658.2,3988.0 L660.0,3987.1 L662.0,3986.2 L663.3,3986.0 L664.0,3986.1 L666.0,3987.0 L668.0,3988.3 L668.4,3988.5 L670.0,3989.6 L672.0,3991.0 L673.4,3992.1 L674.0,3992.5 L676.0,3993.8 L678.0,3995.2 L680.0,3996.5 L681.1,3997.1 L682.0,3997.8 L684.0,3999.2 L686.0,4000.6 L688.0,4001.5 L688.7,4001.7 L690.0,4002.0 L692.0,4002.3 L694.0,4002.5 L696.0,4002.8 L698.0,4002.9 L700.0,4003.1 L701.3,4003.2 L702.0,4003.3 L704.0,4003.5 L706.0,4003.6 L708.0,4003.7 L710.0,4003.9 L712.0,4004.1 L714.0,4004.2 L714.0,4004.2 L716.0,4004.5 L718.0,4004.9 L720.0,4005.4 L722.0,4005.8 L724.0,4006.1 L726.0,4006.3 L726.7,4006.3 L728.0,4006.2 L730.0,4005.9 L732.0,4005.5 L733.3,4005.3 L734.0,4005.2 L736.0,4005.0 L738.0,4004.8 L739.4,4004.8 L740.0,4004.8 L742.0,4005.5 L744.0,4006.5 L745.5,4007.3 L746.0,4007.6 L748.0,4008.8 L750.0,4010.1 L752.0,4010.8 L752.1,4010.8 L754.0,4011.1 L756.0,4011.3 L758.0,4011.4 L760.0,4011.5 L762.0,4011.6 L764.0,4011.7 L766.0,4011.8 L767.3,4011.9 L768.0,4011.9 L770.0,4012.0 L772.0,4012.0 L774.0,4012.1 L776.0,4012.1 L778.0,4012.2 L780.0,4012.2 L782.0,4012.3 L784.0,4012.3 L785.0,4012.4 L786.0,4012.4 L788.0,4012.5 L790.0,4012.6 L792.0,4012.7 L794.0,4012.8 L796.0,4013.0 L798.0,4013.1 L800.0,4013.2 L802.0,4013.4 L804.0,4013.5 L806.0,4013.7 L808.0,4013.8 L810.0,4014.0 L812.0,4014.1 L814.0,4014.3 L816.0,4014.4 L818.0,4014.5 L820.0,4014.6 L822.0,4014.7 L824.0,4014.8 L825.6,4014.9 L826.0,4014.9 L828.0,4015.0 L830.0,4015.1 L832.0,4015.1 L834.0,4015.2 L836.0,4015.3 L838.0,4015.3 L840.0,4015.4 L842.0,4015.5 L844.0,4015.6 L846.0,4015.6 L848.0,4015.7 L850.0,4015.8 L852.0,4015.8 L854.0,4015.9 L856.0,4016.0 L858.0,4016.0 L860.0,4016.1 L862.0,4016.2 L864.0,4016.3 L866.0,4016.3 L868.0,4016.4 L870.0,4016.5 L872.0,4016.5 L874.0,4016.6 L876.0,4016.6 L878.0,4016.7 L880.0,4016.8 L882.0,4016.8 L884.0,4016.9 L886.0,4017.0 L888.0,4017.0 L890.0,4017.1 L892.0,4017.1 L894.0,4017.2 L896.0,4017.3 L898.0,4017.3 L900.0,4017.4 L902.0,4017.4" stroke="#0000ff" stroke-width="5.20"/>
<path d="M898.0,4017.3 L900.0,4017.4 L902.0,4017.4 L904.0,4017.5 L906.0,4017.5 L908.0,4017.6 L910.0,4017.7 L912.0,4017.7 L914.0,4017.8 L916.0,4017.8 L918.0,4017.9 L920.0,4017.9 L922.0,4018.0 L924.0,4018.0 L926.0,4018.1 L928.0,4018.1 L930.0,4018.2 L932.0,4018.2 L934.0,4018.3 L936.0,4018.3 L938.0,4018.4 L940.0,4018.4 L942.0,4018.4 L944.0,4018.5 L946.0,4018.5 L948.0,4018.6 L950.0,4018.6 L952.0,4018.7 L954.0,4018.7 L956.0,4018.7 L958.0,4018.8 L960.0,4018.8 L962.0,4018.8 L964.0,4018.9 L966.0,4018.9 L968.0,4018.9 L970.0,4018.9 L972.0,4019.0 L974.0,4019.0 L976.0,4019.0 L978.0,4019.1 L980.0,4019.1 L982.0,4019.1 L984.0,4019.1 L986.0,4019.2 L988.0,4019.2 L990.0,4019.2 L992.0,4019.2 L994.0,4019.2 L996.0,4019.2 L998.0,4019.3 L1000.0,4019.3 L1002.0,4019.3" stroke="#0000ff" stroke-width="4.81"/>
<path d="M998.0,4019.3 L1000.0,4019.3 L1002.0,4019.3 L1004.0,4019.3 L1006.0,4019.3 L1008.0,4019.3 L1010.0,4019.3 L1012.0,4019.3 L1014.0,4019.4 L1016.0,4019.4 L1018.0,4019.4 L1020.0,4019.4 L1022.0,4019.4 L1024.0,4019.4 L1026.0,4019.4 L1028.0,4019.4 L1030.0,4019.4 L1032.0,4019.4 L1034.0,4019.4 L1036.0,4019.4 L1038.0,4019.4 L1040.0,4019.4 L1042.0,4019.3 L1044.0,4019.3 L1046.0,4019.3 L1048.0,4019.3 L1050.0,4019.3 L1052.0,4019.3 L1054.0,4019.3 L1056.0,4019.3 L1058.0,4019.3 L1060.0,4019.3 L1062.0,4019.3 L1064.0,4019.3 L1066.0,4019.2 L1068.0,4019.2 L1070.0,4019.2 L1072.0,4019.2 L1074.0,4019.2 L1076.0,4019.2 L1078.0,4019.2 L1080.0,4019.2 L1082.0,4019.2 L1084.0,4019.2 L1086.0,4019.2 L1088.0,4019.1 L1090.0,4019.1 L1092.0,4019.1 L1094.0,4019.1 L1096.0,4019.1 L1098.0,4019.1 L1100.0,4019.1 L1102.0,4019.1 L1104.0,4019.1 L1106.0,4019.1 L1108.0,4019.1 L1110.0,4019.1 L1112.0,4019.1 L1114.0,4019.1 L1116.0,4019.1 L1118.0,4019.0 L1120.0,4019.0 L1122.0,4019.0 L1124.0,4019.0 L1126.0,4019.0 L1128.0,4019.0 L1130.0,4019.0 L1132.0,4019.0 L1132.2,4019.0 L1134.0,4019.0 L1136.0,4019.0 L1138.0,4019.0 L1140.0,4019.0 L1142.0,4019.0 L1144.0,4019.0 L1146.0,4019.0 L1148.0,4019.0 L1150.0,4019.0 L1152.0,4019.0 L1154.0,4019.0 L1156.0,4019.0 L1158.0,4019.0 L1160.0,4019.0 L1162.0,4019.0 L1164.0,4019.0 L1166.0,4019.0 L1168.0,4019.0 L1170.0,4019.0 L1172.0,4019.0 L1174.0,4019.0 L1176.0,4019.0 L1178.0,4019.0 L1180.0,4019.0 L1180.3,4019.0 L1182.0,4018.2 L1182.9,4017.5 L1184.0,4016.4 L1185.4,4015.5 L1186.0,4015.7 L1188.0,4018.1 L1189.0,4019.5 L1190.0,4021.4 L1192.0,4024.1 L1192.0,4024.1 L1194.0,4023.1 L1195.6,4022.1 L1196.0,4021.8 L1198.0,4020.8 L1199.1,4020.6 L1200.0,4020.9 L1202.0,4022.9 L1202.7,4023.6 L1204.0,4025.2 L1205.7,4026.6 L1206.0,4026.6 L1208.0,4026.5 L1210.0,4026.2 L1210.3,4026.1 L1212.0,4026.0 L1214.0,4025.7 L1214.3,4025.6 L1216.0,4024.1 L1218.0,4021.1 L1218.4,4020.6 L1220.0,4018.0 L1222.0,4015.6 L1222.4,4015.5 L1224.0,4017.7 L1226.0,4022.6 L1226.0,4022.6 L1228.0,4027.3 L1229.5,4029.2 L1230.0,4029.1 L1232.0,4028.2 L1233.1,4027.7 L1234.0,4027.3 L1236.0,4026.7 L1236.1,4026.6 L1238.0,4025.8 L1240.0,4024.7 L1240.2,4024.6 L1242.0,4023.5 L1243.7,4022.6 L1244.0,4022.5 L1246.0,4022.0 L1248.0,4021.5 L1250.0,4021.2 L1252.0,4020.9 L1253.9,4020.6 L1254.0,4020.5 L1256.0,4020.2 L1258.0,4019.8 L1260.0,4019.4 L1262.0,4019.1 L1264.0,4019.0 L1264.0,4019.0 L1266.0,4019.1 L1268.0,4019.1 L1270.0,4019.3 L1272.0,4019.4 L1274.0,4019.5 L1274.2,4019.5 L1276.0,4019.7 L1278.0,4019.9 L1280.0,4020.2 L1282.0,4020.4 L1284.0,4020.5 L1284.3,4020.6 L1286.0,4020.6 L1288.0,4020.7 L1290.0,4020.8 L1292.0,4020.8 L1294.0,4020.9 L1296.0,4020.9 L1298.0,4021.0 L1300.0,4021.1 L1302.0,4021.1 L1304.0,4021.2 L1306.0,4021.2 L1308.0,4021.3 L1310.0,4021.3 L1312.0,4021.4 L1314.0,4021.4 L1316.0,4021.5 L1318.0,4021.5 L1320.0,4021.6 L1322.0,4021.6 L1324.0,4021.6 L1326.0,4021.7 L1328.0,4021.7 L1330.0,4021.8 L1332.0,4021.8 L1334.0,4021.8 L1336.0,4021.9 L1338.0,4021.9 L1340.0,4021.9 L1342.0,4022.0 L1344.0,4022.0 L1346.0,4022.0 L1348.0,4022.1 L1350.0,4022.1 L1352.0,4022.1 L1354.0,4022.1 L1356.0,4022.2 L1358.0,4022.2 L1360.0,4022.2 L1362.0,4022.2 L1364.0,4022.3 L1366.0,4022.3 L1368.0,4022.3 L1370.0,4022.3 L1372.0,4022.4 L1374.0,4022.4 L1376.0,4022.4 L1378.0,4022.4 L1380.0,4022.4 L1382.0,4022.5 L1384.0,4022.5 L1386.0,4022.5 L1388.0,4022.5 L1390.0,4022.5 L1392.0,4022.6 L1394.0,4022.6 L1396.0,4022.6 L1398.0,4022.6 L1400.0,4022.6 L1402.0,4022.7 L1404.0,4022.7 L1406.0,4022.7 L1408.0,4022.7 L1410.0,4022.7 L1412.0,4022.8 L1414.0,4022.8 L1416.0,4022.8 L1418.0,4022.8 L1420.0,4022.9 L1422.0,4022.9 L1424.0,4022.9 L1426.0,4022.9 L1428.0,4023.0 L1430.0,4023.0 L1432.0,4023.0 L1434.0,4023.1 L1436.0,4023.1 L1436.5,4023.1 L1438.0,4023.1 L1440.0,4023.1 L1442.0,4023.2 L1444.0,4023.2 L1446.0,4023.2 L1448.0,4023.3 L1450.0,4023.3 L1452.0,4023.3 L1454.0,4023.4 L1456.0,4023.4 L1458.0,4023.4 L1460.0,4023.4 L1462.0,4023.5 L1464.0,4023.5 L1466.0,4023.5 L1468.0,4023.6 L1470.0,4023.6 L1472.0,4023.6 L1474.0,4023.6 L1476.0,4023.7 L1478.0,4023.7 L1480.0,4023.7 L1482.0,4023.8 L1484.0,4023.8 L1486.0,4023.8 L1488.0,4023.8 L1490.0,4023.9 L1492.0,4023.9 L1494.0,4023.9 L1496.0,4024.0 L1498.0,4024.0 L1500.0,4024.0 L1502.0,4024.0 L1504.0,4024.1 L1506.0,4024.1 L1508.0,4024.1 L1510.0,4024.2 L1512.0,4024.2 L1514.0,4024.2 L1516.0,4024.2 L1518.0,4024.3 L1520.0,4024.3 L1522.0,4024.3" stroke="#0000ff" stroke-width="4.42"/>
<path d="M1518.0,4024.3 L1520.0,4024.3 L1522.0,4024.3 L1524.0,4024.3 L1526.0,4024.4 L1528.0,4024.4 L1530.0,4024.4 L1532.0,4024.5 L1534.0,4024.5 L1536.0,4024.5 L1538.0,4024.5 L1540.0,4024.6 L1542.0,4024.6 L1544.0,4024.6 L1546.0,4024.7 L1548.0,4024.7 L1550.0,4024.7 L1552.0,4024.8 L1554.0,4024.8 L1556.0,4024.8 L1558.0,4024.8 L1560.0,4024.9 L1562.0,4024.9 L1564.0,4024.9 L1566.0,4025.0 L1568.0,4025.0 L1570.0,4025.0 L1572.0,4025.1 L1574.0,4025.1 L1576.0,4025.1 L1578.0,4025.1 L1580.0,4025.2 L1582.0,4025.2" stroke="#0000ff" stroke-width="4.81"/>
<path d="M1578.0,4025.1 L1580.0,4025.2 L1582.0,4025.2 L1584.0,4025.2 L1586.0,4025.3 L1588.0,4025.3 L1590.0,4025.4 L1592.0,4025.4 L1594.0,4025.4 L1596.0,4025.5 L1598.0,4025.5 L1600.0,4025.5 L1602.0,4025.6 L1604.0,4025.6 L1606.0,4025.7 L1608.0,4025.7 L1610.0,4025.7 L1612.0,4025.8 L1614.0,4025.8 L1616.0,4025.8 L1618.0,4025.9 L1620.0,4025.9 L1622.0,4025.9 L1624.0,4026.0 L1626.0,4026.0 L1628.0,4026.0 L1630.0,4026.0 L1632.0,4026.0 L1634.0,4026.0 L1636.0,4026.0 L1637.7,4026.1 L1638.0,4026.1 L1640.0,4026.1 L1642.0,4026.1 L1644.0,4026.1 L1646.0,4026.1 L1648.0,4026.1 L1650.0,4026.1 L1652.0,4026.1 L1654.0,4026.1 L1656.0,4026.1 L1658.0,4026.1 L1660.0,4026.1 L1662.0,4026.1 L1664.0,4026.1 L1666.0,4026.1 L1668.0,4026.1 L1670.0,4026.1 L1672.0,4026.1 L1674.0,4026.1 L1676.0,4026.1 L1678.0,4026.1 L1680.0,4026.1 L1682.0,4026.1 L1684.0,4026.1 L1686.0,4026.1 L1688.0,4026.1 L1690.0,4026.1 L1692.0,4026.1 L1694.0,4026.1 L1696.0,4026.1 L1698.0,4026.1 L1700.0,4026.1 L1702.0,4026.1 L1704.0,4026.1 L1706.0,4026.1 L1708.0,4026.1 L1710.0,4026.1 L1712.0,4026.1 L1713.8,4026.1 L1714.0,4026.1 L1716.0,4026.0 L1718.0,4026.0 L1720.0,4026.0 L1722.0,4025.9 L1724.0,4025.8 L1726.0,4025.7 L1728.0,4025.6 L1730.0,4025.5 L1732.0,4025.4 L1734.0,4025.3 L1736.0,4025.2 L1738.0,4025.1 L1739.2,4025.0 L1740.0,4025.0 L1742.0,4024.9 L1744.0,4024.8 L1746.0,4024.8 L1748.0,4024.6 L1749.3,4024.5 L1750.0,4024.5 L1752.0,4024.1 L1754.0,4023.6 L1756.0,4022.9 L1758.0,4022.2 L1758.4,4022.0 L1760.0,4021.3 L1762.0,4019.9 L1764.0,4018.0 L1764.5,4017.4 L1766.0,4014.4 L1768.0,4007.9 L1768.6,4005.8 L1770.0,3999.8 L1772.0,3989.2 L1772.6,3985.5 L1774.0,3976.2 L1776.0,3960.5 L1776.7,3955.1 L1778.0,3944.2 L1780.0,3927.4 L1780.7,3922.1 L1782.0,3913.7 L1784.0,3902.2 L1784.8,3899.3 L1786.0,3896.0 L1788.0,3892.1 L1788.9,3891.7 L1790.0,3892.5 L1792.0,3896.6 L1792.4,3897.7 L1794.0,3905.8 L1795.5,3917.0 L1796.0,3921.9 L1798.0,3944.6 L1798.5,3950.0 L1800.0,3965.9 L1801.5,3980.4 L1802.0,3984.1 L1804.0,3998.1 L1804.6,4000.7 L1806.0,4005.1 L1808.0,4009.4 L1808.6,4010.3 L1810.0,4012.0 L1812.0,4013.8 L1814.0,4015.3 L1814.2,4015.4 L1816.0,4016.5 L1818.0,4017.5 L1820.0,4018.3 L1820.3,4018.4 L1822.0,4019.0 L1824.0,4019.7 L1826.0,4020.3 L1828.0,4020.8 L1830.0,4021.3 L1832.0,4021.8 L1833.0,4022.0 L1834.0,4022.2 L1836.0,4022.8 L1838.0,4023.3 L1840.0,4023.8 L1842.0,4024.2 L1844.0,4024.5 L1845.7,4024.5 L1846.0,4024.5 L1848.0,4024.5 L1850.0,4024.5 L1852.0,4024.4 L1854.0,4024.4 L1856.0,4024.3 L1858.0,4024.2 L1860.0,4024.1 L1862.0,4024.1 L1863.4,4024.0 L1864.0,4024.0 L1866.0,4023.9 L1868.0,4023.9 L1870.0,4023.8 L1872.0,4023.7 L1874.0,4023.7 L1876.0,4023.6 L1878.0,4023.5 L1880.0,4023.5 L1881.2,4023.5 L1882.0,4023.5 L1884.0,4023.6 L1886.0,4023.8 L1888.0,4024.0 L1890.0,4024.3 L1892.0,4024.6 L1894.0,4024.8 L1896.0,4025.0 L1896.4,4025.0 L1898.0,4025.2 L1900.0,4025.4 L1902.0,4025.5 L1904.0,4025.7 L1906.0,4025.8 L1908.0,4026.0 L1910.0,4026.0 L1911.6,4026.1 L1912.0,4026.1 L1914.0,4026.1 L1916.0,4026.1 L1918.0,4026.1 L1920.0,4026.1 L1922.0,4026.1 L1924.0,4026.1 L1926.0,4026.1 L1928.0,4026.1 L1930.0,4026.1 L1932.0,4026.1 L1934.0,4026.1 L1936.0,4026.1 L1938.0,4026.1 L1940.0,4026.1 L1942.0,4026.1 L1942.0,4026.1 L1944.0,4026.0 L1946.0,4025.9 L1948.0,4025.6 L1950.0,4025.3 L1952.0,4025.0 L1954.0,4024.6 L1956.0,4024.3 L1957.2,4024.0 L1958.0,4023.9 L1960.0,4023.4 L1962.0,4022.8 L1964.0,4022.1 L1966.0,4021.5 L1967.4,4021.0 L1968.0,4020.8 L1970.0,4020.1 L1972.0,4019.3 L1974.0,4018.5 L1976.0,4017.6 L1977.5,4016.9 L1978.0,4016.7 L1980.0,4015.7 L1982.0,4014.6 L1984.0,4013.4 L1986.0,4012.0 L1987.7,4010.8 L1988.0,4010.6 L1990.0,4008.9 L1992.0,4007.0 L1994.0,4004.9 L1996.0,4002.7 L1997.8,4000.7 L1998.0,4000.5 L2000.0,3998.2 L2002.0,3995.8 L2004.0,3993.3 L2006.0,3990.7 L2008.0,3988.0 L2008.0,3988.0 L2010.0,3985.1 L2012.0,3982.2 L2014.0,3979.1 L2016.0,3976.0 L2018.0,3973.0 L2018.1,3972.8 L2020.0,3969.9 L2022.0,3966.9 L2024.0,3963.8 L2026.0,3960.8 L2028.0,3957.9 L2028.3,3957.6 L2030.0,3955.2 L2032.0,3952.5 L2034.0,3949.9 L2036.0,3947.4 L2038.0,3944.9 L2038.4,3944.4 L2040.0,3942.4 L2042.0,3940.0 L2044.0,3937.6 L2046.0,3935.2 L2048.0,3932.9 L2048.5,3932.2 L2050.0,3930.5 L2052.0,3928.1 L2054.0,3925.8 L2056.0,3923.7 L2056.1,3923.6 L2058.0,3922.0 L2060.0,3920.5 L2061.2,3919.5 L2062.0,3918.9 L2064.0,3917.2 L2064.8,3917.0 L2066.0,3917.0 L2068.0,3917.0 L2068.8,3917.0 L2070.0,3916.7 L2072.0,3915.1 L2073.9,3913.5 L2074.0,3913.4 L2076.0,3911.9 L2078.0,3910.3 L2080.0,3908.7 L2082.0,3907.0 L2084.0,3905.4 L2084.0,3905.3 L2086.0,3903.7 L2088.0,3902.0 L2090.0,3900.3 L2092.0,3898.6 L2094.0,3896.9 L2094.2,3896.7 L2096.0,3895.2 L2098.0,3893.7 L2099.3,3892.7" stroke="#0000ff" stroke-width="5.20"/>
<path d="M430.0,4207.1 L432.0,4207.2 L434.0,4207.3 L436.0,4207.4 L438.0,4207.4 L440.0,4207.5 L442.0,4207.6 L444.0,4207.7 L446.0,4207.8 L448.0,4207.9 L450.0,4207.9 L452.0,4208.0 L454.0,4208.1 L456.0,4208.2 L458.0,4208.3 L460.0,4208.4 L462.0,4208.4 L464.0,4208.5 L466.0,4208.6 L468.0,4208.7 L470.0,4208.8 L472.0,4208.8 L474.0,4208.9 L476.0,4209.0 L478.0,4209.1 L480.0,4209.2 L482.0,4209.2 L484.0,4209.3 L486.0,4209.4 L488.0,4209.5 L490.0,4209.5 L492.0,4209.6 L494.0,4209.7 L496.0,4209.8 L498.0,4209.8 L500.0,4209.9 L502.0,4210.0 L504.0,4210.1 L506.0,4210.1 L506.1,4210.1 L508.0,4210.2 L510.0,4210.3 L512.0,4210.4 L514.0,4210.4 L516.0,4210.5 L518.0,4210.6 L520.0,4210.7 L522.0,4210.8 L524.0,4210.9 L526.0,4211.0 L528.0,4211.1 L530.0,4211.2 L532.0,4211.2 L534.0,4211.3 L536.0,4211.4 L538.0,4211.5 L540.0,4211.6 L542.0,4211.6 L544.0,4211.7 L546.0,4211.8 L548.0,4211.8 L550.0,4211.9 L552.0,4212.0 L554.0,4212.0 L556.0,4212.1 L558.0,4212.1 L560.0,4212.1 L562.0,4212.1 L564.0,4212.2 L566.0,4212.2 L566.9,4212.2 L568.0,4212.2 L570.0,4212.1 L572.0,4212.1 L574.0,4212.0 L576.0,4211.9 L578.0,4211.8 L580.0,4211.7 L582.0,4211.5 L584.0,4211.4 L586.0,4211.2 L587.2,4211.2 L588.0,4211.1 L590.0,4210.9 L592.0,4210.7 L594.0,4210.5 L596.0,4210.2 L598.0,4209.9 L600.0,4209.6 L602.0,4209.4 L604.0,4209.1 L606.0,4208.8 L607.5,4208.6 L608.0,4208.6 L610.0,4208.3 L612.0,4208.1 L614.0,4207.8 L616.0,4207.6 L618.0,4207.4 L620.0,4207.1 L622.0,4206.9 L624.0,4206.6 L626.0,4206.3 L627.8,4206.1 L628.0,4206.1 L630.0,4205.8 L632.0,4205.5 L634.0,4205.2 L636.0,4204.9 L638.0,4204.6 L640.0,4204.2 L642.0,4203.8 L643.0,4203.5 L644.0,4203.2 L646.0,4202.4 L648.0,4201.5 L649.1,4201.0 L650.0,4200.6 L652.0,4199.7 L654.0,4198.9 L655.7,4198.5 L656.0,4198.4 L658.0,4198.2 L660.0,4198.0 L662.0,4198.0 L662.3,4198.0 L664.0,4198.0 L666.0,4198.0 L668.0,4198.0 L668.4,4198.0 L670.0,4197.6 L672.0,4196.7 L673.4,4195.9 L674.0,4195.7 L676.0,4194.6 L678.0,4193.6 L678.5,4193.4 L680.0,4192.8 L682.0,4192.1 L682.6,4191.9 L684.0,4191.4 L686.0,4190.9 L686.1,4190.9 L688.0,4191.7 L689.7,4192.9 L690.0,4193.1 L692.0,4194.6 L693.7,4195.9 L694.0,4196.1 L696.0,4197.8 L698.0,4199.6 L699.8,4201.0 L700.0,4201.1 L702.0,4202.6 L704.0,4203.9 L706.0,4204.9 L706.4,4205.1 L708.0,4205.6 L710.0,4206.2 L712.0,4206.7 L714.0,4207.1 L714.0,4207.1 L716.0,4207.5 L718.0,4207.9 L720.0,4208.3 L722.0,4208.5 L724.0,4208.6 L724.2,4208.6 L726.0,4208.6 L728.0,4208.6 L730.0,4208.6 L732.0,4208.6 L734.0,4208.6 L734.3,4208.6 L736.0,4208.6 L738.0,4208.5 L740.0,4208.3 L741.9,4208.1 L742.0,4208.1 L744.0,4207.6 L746.0,4206.9 L747.0,4206.6 L748.0,4206.2 L750.0,4205.5 L752.0,4205.1 L752.1,4205.1 L754.0,4205.9 L756.0,4207.7 L757.1,4208.6 L758.0,4209.2 L760.0,4210.7 L762.0,4212.0 L762.2,4212.2 L764.0,4213.2 L766.0,4214.2 L768.0,4215.1 L769.8,4215.7 L770.0,4215.8 L772.0,4216.3 L774.0,4216.8 L776.0,4217.2 L778.0,4217.5 L780.0,4217.7 L780.0,4217.8 L782.0,4217.9 L784.0,4218.1 L786.0,4218.3 L788.0,4218.4 L790.0,4218.6 L792.0,4218.7 L794.0,4218.9 L796.0,4219.0 L798.0,4219.1 L800.0,4219.2 L802.0,4219.3 L804.0,4219.4 L806.0,4219.5 L808.0,4219.6 L810.0,4219.7 L812.0,4219.7 L814.0,4219.8 L816.0,4219.9 L818.0,4220.0 L820.0,4220.1 L822.0,4220.1 L824.0,4220.2 L825.6,4220.3 L826.0,4220.3 L828.0,4220.4 L830.0,4220.5 L832.0,4220.5 L834.0,4220.6 L836.0,4220.7 L838.0,4220.8 L840.0,4220.9 L842.0,4221.0 L844.0,4221.1 L846.0,4221.1 L848.0,4221.2 L850.0,4221.3 L852.0,4221.4 L854.0,4221.5 L856.0,4221.6 L858.0,4221.6 L860.0,4221.7 L862.0,4221.8 L864.0,4221.9 L866.0,4222.0 L868.0,4222.1 L870.0,4222.1 L872.0,4222.2 L874.0,4222.3 L876.0,4222.4 L878.0,4222.5 L880.0,4222.6 L882.0,4222.6 L884.0,4222.7 L886.0,4222.8 L888.0,4222.9 L890.0,4223.0 L892.0,4223.0 L894.0,4223.1 L896.0,4223.2 L898.0,4223.3 L900.0,4223.4 L902.0,4223.4" stroke="#ff0000" stroke-width="4.30"/>
<path d="M898.0,4223.3 L900.0,4223.4 L902.0,4223.4 L904.0,4223.5 L906.0,4223.6 L908.0,4223.7 L910.0,4223.7 L912.0,4223.8 L914.0,4223.9 L916.0,4224.0 L918.0,4224.0 L920.0,4224.1 L922.0,4224.2 L924.0,4224.3 L926.0,4224.3 L928.0,4224.4 L930.0,4224.5 L932.0,4224.5 L934.0,4224.6 L936.0,4224.7 L938.0,4224.7 L940.0,4224.8 L942.0,4224.8 L944.0,4224.9 L946.0,4225.0 L948.0,4225.0 L950.0,4225.1 L952.0,4225.2 L954.0,4225.2 L956.0,4225.3 L958.0,4225.3 L960.0,4225.4 L962.0,4225.5 L964.0,4225.5 L966.0,4225.6 L968.0,4225.6 L970.0,4225.7 L972.0,4225.7 L974.0,4225.8 L976.0,4225.9 L978.0,4225.9 L980.0,4226.0 L982.0,4226.0 L984.0,4226.0 L986.0,4226.1 L988.0,4226.1 L990.0,4226.2 L992.0,4226.2 L994.0,4226.3 L996.0,4226.3 L998.0,4226.3 L1000.0,4226.4 L1002.0,4226.4" stroke="#ff0000" stroke-width="4.30"/>
<path d="M998.0,4226.3 L1000.0,4226.4 L1002.0,4226.4 L1004.0,4226.4 L1006.0,4226.5 L1008.0,4226.5 L1010.0,4226.5 L1012.0,4226.5 L1014.0,4226.6 L1016.0,4226.6 L1018.0,4226.6 L1020.0,4226.6 L1022.0,4226.6 L1024.0,4226.6 L1026.0,4226.7 L1028.0,4226.7 L1030.0,4226.7 L1032.0,4226.7 L1034.0,4226.7 L1036.0,4226.7 L1038.0,4226.7 L1040.0,4226.6 L1042.0,4226.6 L1044.0,4226.6 L1046.0,4226.6 L1048.0,4226.5 L1050.0,4226.5 L1052.0,4226.4 L1054.0,4226.4 L1056.0,4226.3 L1058.0,4226.3 L1060.0,4226.2 L1062.0,4226.2 L1064.0,4226.1 L1066.0,4226.1 L1068.0,4226.0 L1070.0,4225.9 L1072.0,4225.9 L1074.0,4225.8 L1076.0,4225.7 L1078.0,4225.7 L1080.0,4225.6 L1082.0,4225.5 L1084.0,4225.4 L1086.0,4225.4 L1088.0,4225.3 L1090.0,4225.2 L1092.0,4225.1 L1094.0,4225.1 L1096.0,4225.0 L1098.0,4224.9 L1100.0,4224.8 L1102.0,4224.8 L1104.0,4224.7 L1106.0,4224.7 L1108.0,4224.6 L1110.0,4224.5 L1112.0,4224.5 L1114.0,4224.4 L1116.0,4224.4 L1118.0,4224.4 L1120.0,4224.3 L1122.0,4224.3 L1124.0,4224.3 L1126.0,4224.2 L1128.0,4224.2 L1130.0,4224.2 L1132.0,4224.2 L1132.2,4224.2 L1134.0,4224.2 L1136.0,4224.2 L1138.0,4224.3 L1140.0,4224.3 L1142.0,4224.4 L1144.0,4224.5 L1146.0,4224.5 L1148.0,4224.6 L1150.0,4224.7 L1152.0,4224.8 L1154.0,4224.9 L1156.0,4225.0 L1158.0,4225.1 L1160.0,4225.2 L1162.0,4225.2 L1164.0,4225.3 L1166.0,4225.4 L1168.0,4225.5 L1170.0,4225.6 L1172.0,4225.6 L1174.0,4225.7 L1176.0,4225.7 L1178.0,4225.7 L1180.0,4225.7 L1180.3,4225.7 L1182.0,4224.9 L1182.9,4224.2 L1184.0,4223.1 L1185.4,4222.2 L1186.0,4222.4 L1188.0,4225.3 L1189.0,4226.8 L1190.0,4228.4 L1192.0,4230.8 L1192.0,4230.8 L1194.0,4230.3 L1196.0,4229.3 L1197.1,4228.8 L1198.0,4228.4 L1200.0,4227.5 L1202.0,4226.9 L1203.2,4226.8 L1204.0,4226.8 L1206.0,4227.1 L1208.0,4227.6 L1209.2,4227.8 L1210.0,4227.9 L1212.0,4228.1 L1214.0,4228.3 L1214.3,4228.3 L1216.0,4227.8 L1218.0,4226.9 L1218.4,4226.8 L1220.0,4226.2 L1222.0,4225.8 L1222.4,4225.7 L1224.0,4226.7 L1226.0,4228.8 L1226.0,4228.8 L1228.0,4230.3 L1229.5,4230.8 L1230.0,4230.7 L1232.0,4229.2 L1233.6,4227.8 L1234.0,4227.5 L1236.0,4226.1 L1238.0,4225.0 L1238.7,4224.7 L1240.0,4224.4 L1242.0,4224.0 L1244.0,4223.6 L1246.0,4223.3 L1248.0,4223.1 L1250.0,4222.8 L1251.3,4222.7 L1252.0,4222.6 L1254.0,4222.4 L1256.0,4222.2 L1258.0,4222.0 L1260.0,4221.8 L1262.0,4221.7 L1264.0,4221.7 L1264.0,4221.7 L1266.0,4221.8 L1268.0,4222.2 L1270.0,4222.7 L1272.0,4223.2 L1274.0,4223.7 L1274.2,4223.7 L1276.0,4224.1 L1278.0,4224.6 L1280.0,4225.1 L1282.0,4225.5 L1284.0,4225.7 L1284.3,4225.7 L1286.0,4225.8 L1288.0,4225.8 L1290.0,4225.9 L1292.0,4225.9 L1294.0,4226.0 L1296.0,4226.0 L1298.0,4226.1 L1300.0,4226.1 L1302.0,4226.1 L1304.0,4226.2 L1306.0,4226.2 L1308.0,4226.3 L1310.0,4226.3 L1312.0,4226.3 L1314.0,4226.4 L1316.0,4226.4 L1318.0,4226.4 L1320.0,4226.4 L1322.0,4226.5 L1324.0,4226.5 L1326.0,4226.5 L1328.0,4226.5 L1330.0,4226.6 L1332.0,4226.6 L1334.0,4226.6 L1336.0,4226.6 L1338.0,4226.7 L1340.0,4226.7 L1342.0,4226.7 L1344.0,4226.7 L1346.0,4226.7 L1348.0,4226.7 L1350.0,4226.8 L1352.0,4226.8 L1354.0,4226.8 L1356.0,4226.8 L1358.0,4226.8 L1360.0,4226.8 L1362.0,4226.8 L1364.0,4226.9 L1366.0,4226.9 L1368.0,4226.9 L1370.0,4226.9 L1372.0,4226.9 L1374.0,4226.9 L1376.0,4226.9 L1378.0,4226.9 L1380.0,4226.9 L1382.0,4227.0 L1384.0,4227.0 L1386.0,4227.0 L1388.0,4227.0 L1390.0,4227.0 L1392.0,4227.0 L1394.0,4227.0 L1396.0,4227.0 L1398.0,4227.0 L1400.0,4227.0 L1402.0,4227.1 L1404.0,4227.1 L1406.0,4227.1 L1408.0,4227.1 L1410.0,4227.1 L1412.0,4227.1 L1414.0,4227.1 L1416.0,4227.1 L1418.0,4227.1 L1420.0,4227.1 L1422.0,4227.2 L1424.0,4227.2 L1426.0,4227.2 L1428.0,4227.2 L1430.0,4227.2 L1432.0,4227.2 L1434.0,4227.2 L1436.0,4227.3 L1436.5,4227.3 L1438.0,4227.3 L1440.0,4227.3 L1442.0,4227.3 L1444.0,4227.3 L1446.0,4227.3 L1448.0,4227.4 L1450.0,4227.4 L1452.0,4227.4 L1454.0,4227.4 L1456.0,4227.4 L1458.0,4227.4 L1460.0,4227.4 L1462.0,4227.5 L1464.0,4227.5 L1466.0,4227.5 L1468.0,4227.5 L1470.0,4227.5 L1472.0,4227.5 L1474.0,4227.5 L1476.0,4227.6 L1478.0,4227.6 L1480.0,4227.6 L1482.0,4227.6 L1484.0,4227.6 L1486.0,4227.6 L1488.0,4227.6 L1490.0,4227.6 L1492.0,4227.7 L1494.0,4227.7 L1496.0,4227.7 L1498.0,4227.7 L1500.0,4227.7 L1502.0,4227.7 L1504.0,4227.7 L1506.0,4227.7 L1508.0,4227.8 L1510.0,4227.8 L1512.0,4227.8 L1514.0,4227.8 L1516.0,4227.8 L1518.0,4227.8 L1520.0,4227.8 L1522.0,4227.8" stroke="#ff0000" stroke-width="4.30"/>
<path d="M1518.0,4227.8 L1520.0,4227.8 L1522.0,4227.8 L1524.0,4227.9 L1526.0,4227.9 L1528.0,4227.9 L1530.0,4227.9 L1532.0,4227.9 L1534.0,4227.9 L1536.0,4227.9 L1538.0,4228.0 L1540.0,4228.0 L1542.0,4228.0 L1544.0,4228.0 L1546.0,4228.0 L1548.0,4228.0 L1550.0,4228.0 L1552.0,4228.0 L1554.0,4228.0 L1556.0,4228.0 L1558.0,4228.0 L1560.0,4228.0 L1562.0,4228.0 L1564.0,4228.0 L1566.0,4228.0 L1568.0,4228.0 L1570.0,4228.0 L1572.0,4228.0 L1574.0,4228.1 L1576.0,4228.1 L1578.0,4228.1 L1580.0,4228.1 L1582.0,4228.1" stroke="#ff0000" stroke-width="4.30"/>
<path d="M1578.0,4228.1 L1580.0,4228.1 L1582.0,4228.1 L1584.0,4228.1 L1586.0,4228.1 L1588.0,4228.1 L1590.0,4228.1 L1592.0,4228.2 L1594.0,4228.2 L1596.0,4228.2 L1598.0,4228.2 L1600.0,4228.2 L1602.0,4228.2 L1604.0,4228.3 L1606.0,4228.3 L1608.0,4228.3 L1610.0,4228.3 L1612.0,4228.3 L1614.0,4228.3 L1616.0,4228.4 L1618.0,4228.4 L1620.0,4228.4 L1622.0,4228.4 L1624.0,4228.4 L1626.0,4228.4 L1628.0,4228.4 L1630.0,4228.4 L1632.0,4228.4 L1634.0,4228.4 L1636.0,4228.4 L1637.7,4228.4 L1638.0,4228.4 L1640.0,4228.4 L1642.0,4228.4 L1644.0,4228.4 L1646.0,4228.4 L1648.0,4228.4 L1650.0,4228.3 L1652.0,4228.3 L1654.0,4228.3 L1656.0,4228.3 L1658.0,4228.3 L1660.0,4228.2 L1662.0,4228.2 L1664.0,4228.2 L1666.0,4228.2 L1668.0,4228.1 L1670.0,4228.1 L1672.0,4228.1 L1674.0,4228.1 L1676.0,4228.0 L1678.0,4228.0 L1680.0,4228.0 L1682.0,4228.0 L1684.0,4227.9 L1686.0,4227.9 L1688.0,4227.9 L1688.4,4227.9 L1690.0,4227.9 L1692.0,4227.9 L1694.0,4227.8 L1696.0,4227.8 L1698.0,4227.8 L1700.0,4227.8 L1702.0,4227.8 L1704.0,4227.8 L1706.0,4227.8 L1708.0,4227.8 L1710.0,4227.8 L1712.0,4227.8 L1714.0,4227.8 L1716.0,4227.8 L1718.0,4227.8 L1720.0,4227.7 L1722.0,4227.7 L1724.0,4227.7 L1726.0,4227.7 L1728.0,4227.7 L1730.0,4227.7 L1732.0,4227.7 L1734.0,4227.7 L1736.0,4227.7 L1738.0,4227.7 L1740.0,4227.6 L1742.0,4227.6 L1744.0,4227.6 L1746.0,4227.6 L1748.0,4227.6 L1750.0,4227.5 L1752.0,4227.5 L1754.0,4227.5 L1756.0,4227.4 L1758.0,4227.4 L1759.4,4227.4 L1760.0,4227.3 L1762.0,4226.4 L1764.0,4224.8 L1764.5,4224.3 L1766.0,4222.7 L1768.0,4219.8 L1768.6,4218.8 L1770.0,4215.7 L1772.0,4210.4 L1772.6,4208.6 L1774.0,4204.2 L1776.0,4197.1 L1776.7,4194.9 L1778.0,4191.1 L1780.0,4185.8 L1780.7,4184.3 L1782.0,4182.1 L1784.0,4179.5 L1784.3,4179.2 L1786.0,4177.9 L1787.8,4177.2 L1788.0,4177.2 L1790.0,4178.8 L1791.4,4180.7 L1792.0,4181.8 L1794.0,4187.0 L1794.4,4188.3 L1796.0,4194.0 L1797.5,4200.0 L1798.0,4202.0 L1800.0,4209.7 L1800.5,4211.2 L1802.0,4214.5 L1804.0,4217.7 L1804.1,4217.7 L1806.0,4219.7 L1808.0,4221.2 L1810.0,4222.3 L1810.2,4222.3 L1812.0,4222.9 L1814.0,4223.3 L1816.0,4223.7 L1818.0,4224.0 L1820.0,4224.3 L1820.3,4224.3 L1822.0,4224.6 L1824.0,4224.8 L1826.0,4225.1 L1828.0,4225.3 L1830.0,4225.4 L1830.4,4225.4 L1832.0,4225.4 L1834.0,4225.4 L1836.0,4225.4 L1838.0,4225.4 L1840.0,4225.4 L1842.0,4225.4 L1844.0,4225.4 L1846.0,4225.4 L1848.0,4225.4 L1850.0,4225.4 L1852.0,4225.4 L1854.0,4225.4 L1856.0,4225.4 L1858.0,4225.4 L1860.0,4225.4 L1860.9,4225.4 L1862.0,4225.3 L1864.0,4225.0 L1866.0,4224.6 L1868.0,4224.1 L1870.0,4223.6 L1871.0,4223.3 L1872.0,4223.1 L1874.0,4222.4 L1876.0,4221.7 L1878.0,4221.3 L1878.6,4221.3 L1880.0,4221.4 L1882.0,4221.8 L1884.0,4222.3 L1886.0,4222.8 L1886.2,4222.8 L1888.0,4223.1 L1890.0,4223.5 L1892.0,4223.8 L1894.0,4224.1 L1896.0,4224.4 L1898.0,4224.6 L1900.0,4224.8 L1901.5,4224.8 L1902.0,4224.9 L1904.0,4224.9 L1906.0,4225.0 L1908.0,4225.0 L1910.0,4225.0 L1912.0,4225.1 L1914.0,4225.1 L1916.0,4225.2 L1918.0,4225.2 L1920.0,4225.2 L1922.0,4225.2 L1924.0,4225.3 L1926.0,4225.3 L1928.0,4225.3 L1930.0,4225.3 L1932.0,4225.3 L1934.0,4225.3 L1936.0,4225.3 L1938.0,4225.3 L1940.0,4225.4 L1942.0,4225.4 L1942.0,4225.4 L1944.0,4225.3 L1946.0,4225.2 L1948.0,4224.9 L1950.0,4224.6 L1952.0,4224.3 L1954.0,4223.9 L1956.0,4223.6 L1957.2,4223.3 L1958.0,4223.2 L1960.0,4222.7 L1962.0,4222.1 L1964.0,4221.5 L1966.0,4220.8 L1967.4,4220.3 L1968.0,4220.0 L1970.0,4219.2 L1972.0,4218.2 L1974.0,4217.2 L1976.0,4216.1 L1977.5,4215.2 L1978.0,4214.9 L1980.0,4213.8 L1982.0,4212.6 L1984.0,4211.3 L1986.0,4209.9 L1987.7,4208.6 L1988.0,4208.4 L1990.0,4206.5 L1992.0,4204.5 L1994.0,4202.3 L1996.0,4200.0 L1997.8,4198.0 L1998.0,4197.8 L2000.0,4195.5 L2002.0,4193.2 L2004.0,4190.9 L2006.0,4188.4 L2008.0,4185.8 L2008.0,4185.7 L2010.0,4182.8 L2012.0,4179.7 L2014.0,4176.4 L2016.0,4173.0 L2018.0,4169.7 L2018.1,4169.6 L2020.0,4166.5 L2022.0,4163.1 L2024.0,4159.8 L2026.0,4156.5 L2028.0,4153.2 L2028.3,4152.8 L2030.0,4150.0 L2032.0,4146.9 L2034.0,4143.8 L2036.0,4140.7 L2038.0,4137.7 L2038.4,4137.1 L2040.0,4134.7 L2042.0,4131.7 L2044.0,4128.7 L2046.0,4125.9 L2048.0,4123.1 L2048.5,4122.4 L2050.0,4120.5 L2052.0,4118.0 L2054.0,4115.5 L2056.0,4113.2 L2057.7,4111.2 L2058.0,4110.9 L2060.0,4108.6 L2062.0,4106.4 L2064.0,4104.3 L2066.0,4102.4 L2066.3,4102.1 L2068.0,4100.7 L2070.0,4099.1 L2072.0,4097.6 L2073.9,4096.0 L2074.0,4095.9 L2076.0,4094.1 L2078.0,4092.1 L2080.0,4090.0 L2081.5,4088.4 L2082.0,4087.9 L2084.0,4085.7 L2086.0,4083.6 L2088.0,4081.3 L2090.0,4079.0 L2092.0,4076.7 L2094.0,4074.4 L2094.2,4074.2 L2096.0,4072.1 L2098.0,4069.7 L2099.3,4068.1" stroke="#ff0000" stroke-width="4.30"/>
<path d="M430.0,4429.2 L432.0,4429.3 L434.0,4429.3 L436.0,4429.4 L438.0,4429.4 L440.0,4429.5 L442.0,4429.6 L444.0,4429.6 L446.0,4429.7 L448.0,4429.7 L450.0,4429.8 L452.0,4429.8 L454.0,4429.9 L456.0,4429.9 L458.0,4430.0 L460.0,4430.0 L462.0,4430.1 L464.0,4430.1 L466.0,4430.2 L468.0,4430.2 L470.0,4430.3 L472.0,4430.3 L474.0,4430.4 L476.0,4430.4 L478.0,4430.4 L480.0,4430.5 L482.0,4430.5 L484.0,4430.5 L486.0,4430.6 L488.0,4430.6 L490.0,4430.6 L492.0,4430.6 L494.0,4430.7 L496.0,4430.7 L498.0,4430.7 L500.0,4430.7 L502.0,4430.7 L504.0,4430.7 L506.0,4430.7 L506.1,4430.7 L508.0,4430.7 L510.0,4430.7 L512.0,4430.7 L514.0,4430.7 L516.0,4430.7 L518.0,4430.7 L520.0,4430.7 L522.0,4430.7 L524.0,4430.7 L526.0,4430.7 L528.0,4430.7 L530.0,4430.7 L532.0,4430.7 L534.0,4430.7 L536.0,4430.7 L538.0,4430.7 L540.0,4430.7 L542.0,4430.7 L544.0,4430.7 L546.0,4430.7 L548.0,4430.7 L550.0,4430.7 L552.0,4430.7 L554.0,4430.7 L556.0,4430.7 L558.0,4430.7 L560.0,4430.7 L562.0,4430.7 L564.0,4430.7 L566.0,4430.7 L568.0,4430.7 L570.0,4430.7 L572.0,4430.7 L574.0,4430.7 L576.0,4430.7 L577.1,4430.7 L578.0,4430.7 L580.0,4430.5 L582.0,4430.2 L584.0,4429.8 L586.0,4429.4 L587.2,4429.2 L588.0,4429.0 L590.0,4428.6 L592.0,4428.1 L594.0,4427.6 L596.0,4427.0 L597.4,4426.7 L598.0,4426.5 L600.0,4425.9 L602.0,4425.3 L604.0,4424.7 L606.0,4424.1 L607.5,4423.6 L608.0,4423.5 L610.0,4422.8 L612.0,4422.2 L614.0,4421.7 L615.1,4421.6 L616.0,4421.5 L618.0,4421.4 L620.0,4421.2 L622.0,4421.1 L624.0,4421.1 L625.3,4421.1 L626.0,4421.1 L628.0,4421.7 L630.0,4422.7 L632.0,4423.7 L632.9,4424.1 L634.0,4424.6 L636.0,4425.5 L638.0,4426.3 L639.0,4426.7 L640.0,4427.0 L642.0,4427.6 L643.0,4427.7 L644.0,4427.5 L646.0,4426.7 L648.0,4425.7 L648.1,4425.6 L650.0,4424.8 L652.0,4423.8 L653.2,4423.1 L654.0,4422.6 L656.0,4421.2 L658.0,4419.7 L658.2,4419.6 L660.0,4418.2 L662.0,4417.0 L662.3,4417.0 L664.0,4417.8 L666.0,4419.8 L666.3,4420.1 L668.0,4421.6 L670.0,4423.5 L670.9,4424.1 L672.0,4424.7 L674.0,4425.6 L676.0,4426.3 L677.0,4426.7 L678.0,4426.9 L680.0,4427.5 L682.0,4427.9 L683.6,4428.2 L684.0,4428.2 L686.0,4428.5 L688.0,4428.7 L690.0,4429.0 L692.0,4429.1 L694.0,4429.3 L696.0,4429.5 L698.0,4429.6 L700.0,4429.8 L702.0,4430.0 L703.9,4430.2 L704.0,4430.2 L706.0,4430.4 L708.0,4430.7 L710.0,4430.9 L712.0,4431.2 L714.0,4431.4 L716.0,4431.7 L718.0,4431.9 L720.0,4432.2 L722.0,4432.5 L724.0,4432.7 L724.2,4432.7 L726.0,4433.0 L728.0,4433.2 L730.0,4433.5 L732.0,4433.7 L734.0,4434.0 L736.0,4434.3 L738.0,4434.6 L739.4,4434.8 L740.0,4434.9 L742.0,4435.3 L744.0,4435.9 L746.0,4436.4 L748.0,4436.7 L749.5,4436.8 L750.0,4436.8 L752.0,4436.2 L754.0,4435.4 L755.6,4434.8 L756.0,4434.7 L758.0,4434.1 L760.0,4433.5 L762.0,4433.3 L762.2,4433.2 L764.0,4433.3 L766.0,4433.4 L768.0,4433.7 L770.0,4433.9 L772.0,4434.2 L774.0,4434.5 L776.0,4434.8 L778.0,4435.1 L780.0,4435.3 L780.0,4435.3 L782.0,4435.4 L784.0,4435.6 L786.0,4435.8 L788.0,4435.9 L790.0,4436.0 L792.0,4436.2 L794.0,4436.3 L796.0,4436.4 L798.0,4436.5 L800.0,4436.6 L802.0,4436.7 L804.0,4436.8 L805.3,4436.8 L806.0,4436.8 L808.0,4436.9 L810.0,4436.9 L812.0,4437.0 L814.0,4437.0 L816.0,4437.0 L818.0,4437.1 L820.0,4437.1 L822.0,4437.2 L824.0,4437.2 L826.0,4437.3 L828.0,4437.3 L830.0,4437.3 L832.0,4437.4 L834.0,4437.4 L836.0,4437.5 L838.0,4437.5 L840.0,4437.5 L842.0,4437.6 L844.0,4437.6 L846.0,4437.7 L848.0,4437.7 L850.0,4437.7 L852.0,4437.8 L854.0,4437.8 L856.0,4437.8 L858.0,4437.9 L860.0,4437.9 L862.0,4437.9 L864.0,4438.0 L866.0,4438.0 L868.0,4438.0 L870.0,4438.1 L872.0,4438.1 L874.0,4438.1 L876.0,4438.2 L878.0,4438.2 L880.0,4438.2 L882.0,4438.3 L884.0,4438.3 L886.0,4438.3 L888.0,4438.3 L890.0,4438.4 L892.0,4438.4 L894.0,4438.4 L896.0,4438.5 L898.0,4438.5 L900.0,4438.5 L902.0,4438.5" stroke="#000000" stroke-width="4.00"/>
<path d="M898.0,4438.5 L900.0,4438.5 L902.0,4438.5 L904.0,4438.6 L906.0,4438.6 L908.0,4438.6 L910.0,4438.6 L912.0,4438.7 L914.0,4438.7 L916.0,4438.7 L918.0,4438.7 L920.0,4438.7 L922.0,4438.8 L924.0,4438.8 L926.0,4438.8 L928.0,4438.8 L930.0,4438.8 L932.0,4438.9 L934.0,4438.9 L936.0,4438.9 L938.0,4438.9 L940.0,4438.9 L942.0,4439.0 L944.0,4439.0 L946.0,4439.0 L948.0,4439.0 L950.0,4439.0 L952.0,4439.0 L954.0,4439.1 L956.0,4439.1 L958.0,4439.1 L960.0,4439.1 L962.0,4439.2 L964.0,4439.2 L966.0,4439.2 L968.0,4439.2 L970.0,4439.2 L972.0,4439.3 L974.0,4439.3 L976.0,4439.3 L978.0,4439.3 L980.0,4439.3 L982.0,4439.3 L984.0,4439.4 L986.0,4439.4 L988.0,4439.4 L990.0,4439.4 L992.0,4439.4 L994.0,4439.4 L996.0,4439.4 L998.0,4439.5 L1000.0,4439.5 L1002.0,4439.5" stroke="#000000" stroke-width="4.00"/>
<path d="M998.0,4439.5 L1000.0,4439.5 L1002.0,4439.5 L1004.0,4439.5 L1006.0,4439.5 L1008.0,4439.5 L1010.0,4439.5 L1012.0,4439.5 L1014.0,4439.5 L1016.0,4439.6 L1018.0,4439.6 L1020.0,4439.6 L1022.0,4439.6 L1024.0,4439.6 L1026.0,4439.6 L1028.0,4439.6 L1030.0,4439.6 L1032.0,4439.6 L1034.0,4439.6 L1036.0,4439.6 L1038.0,4439.6 L1040.0,4439.6 L1042.0,4439.6 L1044.0,4439.6 L1046.0,4439.5 L1048.0,4439.5 L1050.0,4439.5 L1052.0,4439.5 L1054.0,4439.4 L1056.0,4439.4 L1058.0,4439.4 L1060.0,4439.3 L1062.0,4439.3 L1064.0,4439.2 L1066.0,4439.2 L1068.0,4439.1 L1070.0,4439.1 L1072.0,4439.0 L1074.0,4439.0 L1076.0,4438.9 L1078.0,4438.9 L1080.0,4438.8 L1082.0,4438.8 L1084.0,4438.7 L1086.0,4438.7 L1088.0,4438.6 L1090.0,4438.6 L1092.0,4438.5 L1094.0,4438.5 L1096.0,4438.4 L1098.0,4438.3 L1100.0,4438.3 L1102.0,4438.2 L1104.0,4438.2 L1106.0,4438.2 L1108.0,4438.1 L1110.0,4438.1 L1112.0,4438.0 L1114.0,4438.0 L1116.0,4438.0 L1118.0,4437.9 L1120.0,4437.9 L1122.0,4437.9 L1124.0,4437.9 L1126.0,4437.9 L1128.0,4437.8 L1130.0,4437.8 L1132.0,4437.8 L1132.2,4437.8 L1134.0,4437.8 L1136.0,4437.8 L1138.0,4437.8 L1140.0,4437.8 L1142.0,4437.8 L1144.0,4437.9 L1146.0,4437.9 L1148.0,4437.9 L1150.0,4437.9 L1152.0,4437.9 L1154.0,4437.9 L1156.0,4437.9 L1158.0,4437.9 L1160.0,4437.9 L1162.0,4437.9 L1164.0,4438.0 L1166.0,4438.0 L1168.0,4438.0 L1170.0,4438.0 L1172.0,4438.0 L1174.0,4438.1 L1176.0,4438.1 L1178.0,4438.1 L1180.0,4438.2 L1182.0,4438.2 L1184.0,4438.3 L1186.0,4438.3 L1187.9,4438.3 L1188.0,4438.3 L1190.0,4439.3 L1192.0,4440.6 L1193.0,4440.9 L1194.0,4440.7 L1196.0,4439.6 L1198.0,4438.9 L1198.1,4438.9 L1200.0,4438.9 L1202.0,4438.9 L1204.0,4438.9 L1206.0,4438.9 L1208.0,4438.9 L1210.0,4438.9 L1212.0,4438.9 L1214.0,4438.9 L1216.0,4438.9 L1218.0,4438.9 L1220.0,4438.9 L1222.0,4438.9 L1223.4,4438.9 L1224.0,4438.9 L1226.0,4439.6 L1228.0,4440.3 L1228.5,4440.4 L1230.0,4440.1 L1232.0,4439.3 L1233.6,4438.9 L1234.0,4438.8 L1236.0,4438.7 L1238.0,4438.6 L1240.0,4438.4 L1242.0,4438.3 L1244.0,4438.2 L1246.0,4438.2 L1248.0,4438.1 L1250.0,4438.0 L1252.0,4438.0 L1254.0,4437.9 L1256.0,4437.9 L1258.0,4437.9 L1260.0,4437.9 L1262.0,4437.8 L1264.0,4437.8 L1264.0,4437.8 L1266.0,4437.8 L1268.0,4437.8 L1270.0,4437.9 L1272.0,4437.9 L1274.0,4437.9 L1276.0,4437.9 L1278.0,4437.9 L1280.0,4437.9 L1282.0,4438.0 L1284.0,4438.0 L1286.0,4438.0 L1288.0,4438.1 L1290.0,4438.1 L1292.0,4438.2 L1294.0,4438.2 L1296.0,4438.3 L1298.0,4438.3 L1300.0,4438.4 L1302.0,4438.5 L1304.0,4438.6 L1306.0,4438.7 L1308.0,4438.8 L1309.7,4438.9 L1310.0,4438.9 L1312.0,4439.6 L1314.0,4440.3 L1314.7,4440.4 L1316.0,4440.1 L1318.0,4439.3 L1319.8,4438.9 L1320.0,4438.9 L1322.0,4438.9 L1324.0,4438.9 L1326.0,4438.9 L1328.0,4438.9 L1330.0,4438.9 L1332.0,4438.9 L1334.0,4438.9 L1336.0,4438.9 L1338.0,4438.9 L1340.0,4438.9 L1342.0,4438.9 L1344.0,4438.9 L1346.0,4438.9 L1348.0,4438.9 L1350.0,4438.9 L1352.0,4438.9 L1354.0,4438.9 L1356.0,4438.9 L1358.0,4438.9 L1360.0,4438.9 L1362.0,4438.9 L1364.0,4438.9 L1366.0,4438.9 L1368.0,4438.9 L1370.0,4438.9 L1372.0,4438.9 L1374.0,4438.9 L1376.0,4438.9 L1378.0,4438.9 L1380.0,4438.9 L1382.0,4438.9 L1384.0,4438.9 L1386.0,4438.9 L1388.0,4438.9 L1390.0,4438.9 L1392.0,4438.9 L1394.0,4438.9 L1396.0,4438.9 L1398.0,4438.9 L1400.0,4438.9 L1402.0,4438.9 L1404.0,4438.9 L1406.0,4438.9 L1408.0,4438.9 L1410.0,4438.9 L1412.0,4438.9 L1414.0,4438.9 L1416.0,4438.9 L1418.0,4438.9 L1420.0,4438.9 L1422.0,4438.9 L1424.0,4438.9 L1426.0,4438.9 L1428.0,4439.0 L1430.0,4439.0 L1432.0,4439.0 L1434.0,4439.0 L1436.0,4439.0 L1438.0,4439.0 L1440.0,4439.0 L1442.0,4439.0 L1444.0,4439.0 L1446.0,4439.0 L1448.0,4439.0 L1450.0,4439.0 L1452.0,4439.0 L1454.0,4439.0 L1456.0,4439.0 L1458.0,4439.0 L1460.0,4439.0 L1462.0,4439.0 L1464.0,4439.0 L1466.0,4439.0 L1468.0,4439.0 L1470.0,4439.0 L1472.0,4439.0 L1474.0,4439.0 L1476.0,4439.1 L1478.0,4439.1 L1480.0,4439.1 L1482.0,4439.1 L1484.0,4439.1 L1486.0,4439.1 L1488.0,4439.1 L1490.0,4439.1 L1492.0,4439.1 L1494.0,4439.1 L1496.0,4439.1 L1498.0,4439.1 L1500.0,4439.1 L1502.0,4439.1 L1504.0,4439.1 L1506.0,4439.1 L1508.0,4439.1 L1510.0,4439.1 L1512.0,4439.1 L1514.0,4439.2 L1516.0,4439.2 L1518.0,4439.2 L1520.0,4439.2 L1522.0,4439.2" stroke="#000000" stroke-width="4.00"/>
<path d="M1518.0,4439.2 L1520.0,4439.2 L1522.0,4439.2 L1524.0,4439.2 L1526.0,4439.2 L1528.0,4439.2 L1530.0,4439.2 L1532.0,4439.2 L1534.0,4439.2 L1536.0,4439.2 L1538.0,4439.2 L1540.0,4439.2 L1542.0,4439.2 L1544.0,4439.2 L1546.0,4439.2 L1548.0,4439.2 L1550.0,4439.2 L1552.0,4439.2 L1554.0,4439.2 L1556.0,4439.2 L1558.0,4439.2 L1560.0,4439.2 L1562.0,4439.2 L1564.0,4439.2 L1566.0,4439.2 L1568.0,4439.2 L1570.0,4439.2 L1572.0,4439.2 L1574.0,4439.2 L1576.0,4439.2 L1578.0,4439.2 L1580.0,4439.2 L1582.0,4439.2" stroke="#000000" stroke-width="4.00"/>
<path d="M1578.0,4439.2 L1580.0,4439.2 L1582.0,4439.2 L1584.0,4439.2 L1586.0,4439.2 L1588.0,4439.2 L1590.0,4439.2 L1592.0,4439.2 L1594.0,4439.2 L1596.0,4439.2 L1598.0,4439.2 L1600.0,4439.2 L1602.0,4439.3 L1604.0,4439.3 L1606.0,4439.3 L1608.0,4439.3 L1610.0,4439.3 L1612.0,4439.3 L1614.0,4439.3 L1616.0,4439.3 L1618.0,4439.3 L1620.0,4439.3 L1622.0,4439.4 L1624.0,4439.4 L1626.0,4439.4 L1628.0,4439.4 L1630.0,4439.4 L1632.0,4439.4 L1634.0,4439.4 L1636.0,4439.4 L1637.7,4439.3 L1638.0,4439.3 L1640.0,4439.3 L1642.0,4439.3 L1644.0,4439.3 L1646.0,4439.3 L1648.0,4439.3 L1650.0,4439.2 L1652.0,4439.2 L1654.0,4439.2 L1656.0,4439.2 L1658.0,4439.1 L1660.0,4439.1 L1662.0,4439.0 L1664.0,4439.0 L1666.0,4438.9 L1668.0,4438.9 L1670.0,4438.8 L1672.0,4438.8 L1674.0,4438.7 L1676.0,4438.7 L1678.0,4438.6 L1680.0,4438.6 L1682.0,4438.5 L1684.0,4438.4 L1686.0,4438.4 L1688.0,4438.3 L1688.4,4438.3 L1690.0,4438.3 L1692.0,4438.2 L1694.0,4438.2 L1696.0,4438.1 L1698.0,4438.1 L1700.0,4438.0 L1702.0,4438.0 L1704.0,4437.9 L1706.0,4437.9 L1708.0,4437.8 L1710.0,4437.8 L1712.0,4437.7 L1714.0,4437.7 L1716.0,4437.6 L1718.0,4437.6 L1720.0,4437.5 L1722.0,4437.4 L1724.0,4437.3 L1726.0,4437.3 L1728.0,4437.2 L1730.0,4437.1 L1732.0,4437.0 L1734.0,4436.9 L1736.0,4436.8 L1738.0,4436.6 L1740.0,4436.5 L1742.0,4436.4 L1744.0,4436.2 L1746.0,4436.1 L1748.0,4435.9 L1750.0,4435.7 L1752.0,4435.5 L1754.0,4435.3 L1754.4,4435.3 L1756.0,4435.0 L1758.0,4434.3 L1760.0,4433.3 L1762.0,4432.2 L1762.0,4432.2 L1764.0,4430.9 L1766.0,4429.0 L1767.1,4427.7 L1768.0,4425.6 L1770.0,4418.5 L1771.1,4414.0 L1772.0,4410.1 L1774.0,4399.9 L1775.2,4393.7 L1776.0,4389.1 L1778.0,4377.6 L1779.2,4370.9 L1780.0,4366.7 L1782.0,4356.0 L1783.3,4350.6 L1784.0,4348.1 L1786.0,4342.5 L1786.3,4342.0 L1788.0,4339.8 L1788.9,4339.4 L1790.0,4339.9 L1791.9,4342.0 L1792.0,4342.1 L1794.0,4348.1 L1794.9,4352.1 L1796.0,4357.6 L1798.0,4370.9 L1798.0,4370.9 L1800.0,4386.9 L1801.0,4394.7 L1802.0,4401.4 L1804.0,4412.7 L1804.1,4413.0 L1806.0,4418.9 L1807.6,4422.1 L1808.0,4422.6 L1810.0,4425.0 L1812.0,4426.7 L1812.7,4427.2 L1814.0,4427.9 L1816.0,4428.8 L1818.0,4429.6 L1820.0,4430.1 L1820.3,4430.2 L1822.0,4430.6 L1824.0,4431.0 L1826.0,4431.3 L1828.0,4431.6 L1830.0,4431.9 L1832.0,4432.1 L1833.0,4432.2 L1834.0,4432.3 L1836.0,4432.6 L1838.0,4432.8 L1840.0,4433.0 L1842.0,4433.1 L1844.0,4433.2 L1845.7,4433.2 L1846.0,4433.2 L1848.0,4433.2 L1850.0,4433.0 L1852.0,4432.8 L1854.0,4432.6 L1856.0,4432.3 L1858.0,4432.1 L1860.0,4431.8 L1860.9,4431.7 L1862.0,4431.6 L1864.0,4431.3 L1866.0,4431.1 L1868.0,4430.9 L1870.0,4430.7 L1871.0,4430.7 L1872.0,4430.7 L1874.0,4430.8 L1876.0,4430.9 L1878.0,4431.0 L1880.0,4431.2 L1882.0,4431.4 L1884.0,4431.6 L1886.0,4431.8 L1888.0,4432.0 L1890.0,4432.1 L1891.3,4432.2 L1892.0,4432.3 L1894.0,4432.4 L1896.0,4432.5 L1898.0,4432.7 L1900.0,4432.8 L1902.0,4432.9 L1904.0,4433.0 L1906.0,4433.1 L1908.0,4433.2 L1910.0,4433.2 L1911.6,4433.2 L1912.0,4433.2 L1914.0,4433.2 L1916.0,4433.2 L1918.0,4433.2 L1920.0,4433.2 L1922.0,4433.2 L1924.0,4433.2 L1926.0,4433.2 L1928.0,4433.2 L1930.0,4433.2 L1932.0,4433.2 L1934.0,4433.2 L1936.0,4433.2 L1938.0,4433.2 L1940.0,4433.2 L1942.0,4433.2 L1942.0,4433.2 L1944.0,4433.2 L1946.0,4433.1 L1948.0,4432.8 L1950.0,4432.6 L1952.0,4432.2 L1954.0,4431.9 L1956.0,4431.5 L1957.2,4431.2 L1958.0,4431.1 L1960.0,4430.5 L1962.0,4429.9 L1964.0,4429.1 L1966.0,4428.3 L1967.4,4427.7 L1968.0,4427.4 L1970.0,4426.4 L1972.0,4425.4 L1974.0,4424.2 L1976.0,4423.0 L1977.5,4422.1 L1978.0,4421.8 L1980.0,4420.6 L1982.0,4419.3 L1984.0,4417.9 L1986.0,4416.4 L1987.7,4415.0 L1988.0,4414.7 L1990.0,4412.8 L1992.0,4410.6 L1994.0,4408.2 L1996.0,4405.8 L1996.8,4404.8 L1998.0,4403.4 L2000.0,4401.0 L2002.0,4398.5 L2004.0,4395.8 L2005.4,4393.7 L2006.0,4392.8 L2008.0,4389.0 L2010.0,4384.9 L2012.0,4381.0 L2012.0,4381.0 L2014.0,4377.6 L2016.0,4374.3 L2018.0,4371.0 L2018.1,4370.9 L2020.0,4367.9 L2022.0,4364.8 L2024.0,4361.8 L2025.7,4359.2 L2026.0,4358.8 L2028.0,4355.9 L2030.0,4353.1 L2032.0,4350.1 L2033.3,4348.0 L2034.0,4346.9 L2036.0,4343.3 L2038.0,4339.4 L2040.0,4335.6 L2040.9,4333.8 L2042.0,4331.9 L2044.0,4328.2 L2046.0,4324.6 L2048.0,4321.1 L2048.5,4320.1 L2050.0,4317.6 L2052.0,4314.2 L2054.0,4310.9 L2054.6,4310.0 L2056.0,4307.9 L2058.0,4304.9 L2060.0,4302.4 L2061.2,4301.4 L2062.0,4300.9 L2064.0,4300.0 L2064.8,4299.9 L2066.0,4299.9 L2068.0,4299.9 L2068.8,4299.9 L2070.0,4299.5 L2072.0,4297.5 L2074.0,4294.8 L2074.9,4293.8 L2076.0,4292.6 L2078.0,4290.2 L2080.0,4287.8 L2081.5,4286.2 L2082.0,4285.7 L2084.0,4283.7 L2086.0,4281.9 L2088.0,4280.1 L2090.0,4278.3 L2092.0,4276.5 L2094.0,4274.7 L2094.2,4274.5 L2096.0,4272.7 L2098.0,4270.7 L2099.3,4269.4" stroke="#000000" stroke-width="4.00"/>
</g>
<rect x="434" y="3326" width="1660" height="1196.6000000000004" fill="none" stroke="#000" stroke-width="4.8"/>
<path d="M434.0,4522.6v25.5 M526.2,4522.6v14 M618.4,4522.6v25.5 M710.7,4522.6v14 M802.9,4522.6v25.5 M895.1,4522.6v14 M987.3,4522.6v25.5 M1079.6,4522.6v14 M1171.8,4522.6v25.5 M1264.0,4522.6v14 M1356.2,4522.6v25.5 M1448.4,4522.6v14 M1540.7,4522.6v25.5 M1632.9,4522.6v14 M1725.1,4522.6v25.5 M1817.3,4522.6v14 M1909.6,4522.6v25.5 M2001.8,4522.6v14 M2094.0,4522.6v25.5" stroke="#000" stroke-width="4.5" fill="none"/>
<text transform="translate(371.66,4602.30) scale(1.0401,1)" font-family='"Liberation Sans", sans-serif' font-size="53.50" fill="#000">3200</text>
<text transform="translate(556.11,4602.30) scale(1.0401,1)" font-family='"Liberation Sans", sans-serif' font-size="53.50" fill="#000">3000</text>
<text transform="translate(739.84,4602.30) scale(1.0462,1)" font-family='"Liberation Sans", sans-serif' font-size="53.50" fill="#000">2800</text>
<text transform="translate(924.28,4602.30) scale(1.0462,1)" font-family='"Liberation Sans", sans-serif' font-size="53.50" fill="#000">2600</text>
<text transform="translate(1108.73,4602.30) scale(1.0462,1)" font-family='"Liberation Sans", sans-serif' font-size="53.50" fill="#000">2400</text>
<text transform="translate(1293.17,4602.30) scale(1.0462,1)" font-family='"Liberation Sans", sans-serif' font-size="53.50" fill="#000">2200</text>
<text transform="translate(1477.62,4602.30) scale(1.0462,1)" font-family='"Liberation Sans", sans-serif' font-size="53.50" fill="#000">2000</text>
<text transform="translate(1660.61,4602.30) scale(1.0586,1)" font-family='"Liberation Sans", sans-serif' font-size="53.50" fill="#000">1800</text>
<text transform="translate(1845.06,4602.30) scale(1.0586,1)" font-family='"Liberation Sans", sans-serif' font-size="53.50" fill="#000">1600</text>
<text transform="translate(2029.50,4602.30) scale(1.0586,1)" font-family='"Liberation Sans", sans-serif' font-size="53.50" fill="#000">1400</text>
<text transform="translate(962.35,4707.80) scale(1.0613,1)" font-family='"Liberation Sans", sans-serif' font-size="65.50" fill="#000">Wavenumber (cm</text>
<text transform="translate(1507.47,4683.80) scale(0.8922,1)" font-family='"Liberation Sans", sans-serif' font-size="43.00" fill="#000">-1</text>
<text transform="translate(1547.20,4707.80) scale(1.0140,1)" font-family='"Liberation Sans", sans-serif' font-size="65.50" fill="#000">)</text>
<text transform="translate(624.29,3407.70) scale(1.0729,1)" font-family='"Liberation Sans", sans-serif' font-size="65.50" fill="#000">C-H</text>
<text transform="translate(1586.67,3398.00) scale(1.0791,1)" font-family='"Liberation Sans", sans-serif' font-size="65.50" fill="#000">C=O</text>
<text transform="translate(1115.20,3586.90) scale(1.0732,1)" font-family='"Liberation Sans", sans-serif' font-size="65.50" fill="#000">PCL100</text>
<text transform="translate(1012.22,3804.00) scale(1.0691,1)" font-family='"Liberation Sans", sans-serif' font-size="65.50" fill="#000">PCL75PMMA25</text>
<text transform="translate(1013.84,3987.40) scale(1.0652,1)" font-family='"Liberation Sans", sans-serif' font-size="65.50" fill="#000">PCL50PMMA50</text>
<text transform="translate(1013.84,4196.80) scale(1.0656,1)" font-family='"Liberation Sans", sans-serif' font-size="65.50" fill="#000">PCL75PMMA25</text>
<text transform="translate(1101.00,4409.00) scale(1.0726,1)" font-family='"Liberation Sans", sans-serif' font-size="65.50" fill="#000">PMMA100</text>
<text transform="translate(486.86,3444.03) scale(0.8007,0.6791)" font-family='"Liberation Serif", serif' font-size="100" fill="#000">ν</text>
<text transform="translate(524.18,3466.01) scale(1.1436,1)" font-family='"Liberation Sans", sans-serif' font-size="45.00" fill="#000">a(CH)</text>
<text transform="translate(816.53,3456.21) scale(0.8007,0.6683)" font-family='"Liberation Serif", serif' font-size="100" fill="#000">ν</text>
<text transform="translate(854.63,3478.69) scale(1.1394,1)" font-family='"Liberation Sans", sans-serif' font-size="45.00" fill="#000">s(CH)</text>
<line x1="565.9" y1="3482.2" x2="611.7" y2="3526.2" stroke="#000" stroke-width="4.8"/>
<polygon points="631.9,3545.6 601.9,3530.7 615.7,3516.3" fill="#000"/>
<line x1="833.2" y1="3496.4" x2="772.9" y2="3559.8" stroke="#000" stroke-width="4.8"/>
<polygon points="753.6,3580.1 768.4,3550.1 782.9,3563.8" fill="#000"/>
<text transform="translate(1874.63,3419.72) scale(0.8007,0.6467)" font-family='"Liberation Serif", serif' font-size="100" fill="#000">ν</text>
<text transform="translate(1916.72,3441.67) scale(1.1072,1)" font-family='"Liberation Sans", sans-serif' font-size="45.00" fill="#000">C=O</text>
<line x1="1875.1" y1="3435.6" x2="1827.6" y2="3481.9" stroke="#000" stroke-width="4.8"/>
<polygon points="1807.6,3501.5 1823.5,3472.0 1837.5,3486.3" fill="#000"/>
<text transform="translate(470.63,4298.71) scale(0.8007,0.7007)" font-family='"Liberation Serif", serif' font-size="100" fill="#000">ν</text>
<text transform="translate(504.49,4318.68) scale(1.1581,1)" font-family='"Liberation Sans", sans-serif' font-size="45.00" fill="#000">CH3</text>
<text transform="translate(745.51,4298.71) scale(0.8600,0.7007)" font-family='"Liberation Serif", serif' font-size="100" fill="#000">ν</text>
<text transform="translate(783.56,4321.22) scale(1.1034,1)" font-family='"Liberation Sans", sans-serif' font-size="45.00" fill="#000">CH2</text>
<line x1="536.5" y1="4337.4" x2="583.1" y2="4381.6" stroke="#000" stroke-width="4.8"/>
<polygon points="603.5,4400.8 573.3,4386.1 587.1,4371.6" fill="#000"/>
<line x1="751.0" y1="4322.2" x2="691.7" y2="4384.6" stroke="#000" stroke-width="4.8"/>
<polygon points="672.4,4404.9 687.2,4374.8 701.7,4388.6" fill="#000"/>
<text transform="translate(1872.09,4293.64) scale(0.8245,0.7007)" font-family='"Liberation Serif", serif' font-size="100" fill="#000">ν</text>
<text transform="translate(1911.71,4316.15) scale(1.0788,1)" font-family='"Liberation Sans", sans-serif' font-size="45.00" fill="#000">C=O</text>
<line x1="1875.1" y1="4294.3" x2="1827.9" y2="4339.4" stroke="#000" stroke-width="4.8"/>
<polygon points="1807.6,4358.8 1823.9,4329.4 1837.7,4343.9" fill="#000"/>
<text font-family='"Liberation Sans", sans-serif' font-size="80.00" fill="#000"><tspan x="22.80" y="4553.10" textLength="24.50" lengthAdjust="spacingAndGlyphs">(</tspan><tspan x="51.87" y="4557.20" textLength="40.35" lengthAdjust="spacingAndGlyphs">c</tspan><tspan x="97.87" y="4553.10" textLength="23.62" lengthAdjust="spacingAndGlyphs">)</tspan></text>
</svg></body></html>
